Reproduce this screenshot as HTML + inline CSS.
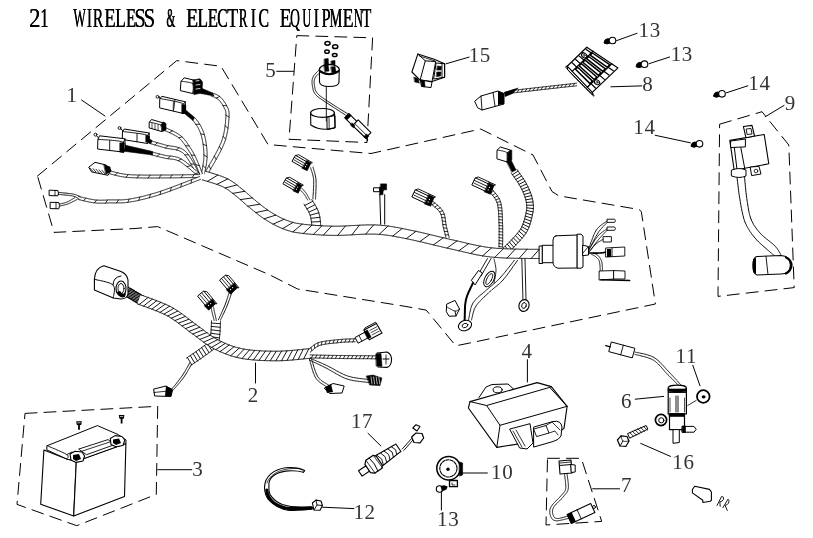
<!DOCTYPE html><html><head><meta charset="utf-8"><style>
html,body{margin:0;padding:0;background:#fff;width:813px;height:538px;overflow:hidden}
svg{display:block;filter:grayscale(1)}
text{font-family:"Liberation Serif",serif}
</style></head><body>
<svg width="813" height="538" viewBox="0 0 813 538" stroke-linecap="round" stroke-linejoin="round">
<rect width="813" height="538" fill="#fff"/><g>
<text x="0" y="0" font-size="27.6" font-weight="normal" fill="#000" transform="translate(28.98 26.7) scale(0.824 1)">2</text>
<text x="0" y="0" font-size="27.6" font-weight="normal" fill="#000" transform="translate(29.33 26.7) scale(0.824 1)">2</text>
<text x="0" y="0" font-size="27.6" font-weight="normal" fill="#000" transform="translate(40.11 26.7) scale(0.600 1)">1</text>
<text x="0" y="0" font-size="27.6" font-weight="normal" fill="#000" transform="translate(40.46 26.7) scale(0.600 1)">1</text>
<text x="0" y="0" font-size="27.6" font-weight="normal" fill="#000" transform="translate(73.20 26.7) scale(0.478 1)">W</text>
<text x="0" y="0" font-size="27.6" font-weight="normal" fill="#000" transform="translate(73.55 26.7) scale(0.478 1)">W</text>
<text x="0" y="0" font-size="27.6" font-weight="normal" fill="#000" transform="translate(86.76 26.7) scale(0.561 1)">I</text>
<text x="0" y="0" font-size="27.6" font-weight="normal" fill="#000" transform="translate(87.11 26.7) scale(0.561 1)">I</text>
<text x="0" y="0" font-size="27.6" font-weight="normal" fill="#000" transform="translate(92.63 26.7) scale(0.565 1)">R</text>
<text x="0" y="0" font-size="27.6" font-weight="normal" fill="#000" transform="translate(92.98 26.7) scale(0.565 1)">R</text>
<text x="0" y="0" font-size="27.6" font-weight="normal" fill="#000" transform="translate(104.15 26.7) scale(0.670 1)">E</text>
<text x="0" y="0" font-size="27.6" font-weight="normal" fill="#000" transform="translate(104.50 26.7) scale(0.670 1)">E</text>
<text x="0" y="0" font-size="27.6" font-weight="normal" fill="#000" transform="translate(114.97 26.7) scale(0.634 1)">L</text>
<text x="0" y="0" font-size="27.6" font-weight="normal" fill="#000" transform="translate(115.32 26.7) scale(0.634 1)">L</text>
<text x="0" y="0" font-size="27.6" font-weight="normal" fill="#000" transform="translate(125.81 26.7) scale(0.595 1)">E</text>
<text x="0" y="0" font-size="27.6" font-weight="normal" fill="#000" transform="translate(126.16 26.7) scale(0.595 1)">E</text>
<text x="0" y="0" font-size="27.6" font-weight="normal" fill="#000" transform="translate(134.27 26.7) scale(0.741 1)">S</text>
<text x="0" y="0" font-size="27.6" font-weight="normal" fill="#000" transform="translate(134.62 26.7) scale(0.741 1)">S</text>
<text x="0" y="0" font-size="27.6" font-weight="normal" fill="#000" transform="translate(143.45 26.7) scale(0.750 1)">S</text>
<text x="0" y="0" font-size="27.6" font-weight="normal" fill="#000" transform="translate(143.80 26.7) scale(0.750 1)">S</text>
<text x="0" y="0" font-size="27.6" font-weight="normal" fill="#000" transform="translate(166.35 26.7) scale(0.408 1)">&amp;</text>
<text x="0" y="0" font-size="27.6" font-weight="normal" fill="#000" transform="translate(166.70 26.7) scale(0.408 1)">&amp;</text>
<text x="0" y="0" font-size="27.6" font-weight="normal" fill="#000" transform="translate(186.12 26.7) scale(0.704 1)">E</text>
<text x="0" y="0" font-size="27.6" font-weight="normal" fill="#000" transform="translate(186.47 26.7) scale(0.704 1)">E</text>
<text x="0" y="0" font-size="27.6" font-weight="normal" fill="#000" transform="translate(197.29 26.7) scale(0.620 1)">L</text>
<text x="0" y="0" font-size="27.6" font-weight="normal" fill="#000" transform="translate(197.64 26.7) scale(0.620 1)">L</text>
<text x="0" y="0" font-size="27.6" font-weight="normal" fill="#000" transform="translate(207.60 26.7) scale(0.608 1)">E</text>
<text x="0" y="0" font-size="27.6" font-weight="normal" fill="#000" transform="translate(207.95 26.7) scale(0.608 1)">E</text>
<text x="0" y="0" font-size="27.6" font-weight="normal" fill="#000" transform="translate(217.08 26.7) scale(0.566 1)">C</text>
<text x="0" y="0" font-size="27.6" font-weight="normal" fill="#000" transform="translate(217.43 26.7) scale(0.566 1)">C</text>
<text x="0" y="0" font-size="27.6" font-weight="normal" fill="#000" transform="translate(226.94 26.7) scale(0.655 1)">T</text>
<text x="0" y="0" font-size="27.6" font-weight="normal" fill="#000" transform="translate(227.29 26.7) scale(0.655 1)">T</text>
<text x="0" y="0" font-size="27.6" font-weight="normal" fill="#000" transform="translate(238.71 26.7) scale(0.468 1)">R</text>
<text x="0" y="0" font-size="27.6" font-weight="normal" fill="#000" transform="translate(239.06 26.7) scale(0.468 1)">R</text>
<text x="0" y="0" font-size="27.6" font-weight="normal" fill="#000" transform="translate(250.42 26.7) scale(0.602 1)">I</text>
<text x="0" y="0" font-size="27.6" font-weight="normal" fill="#000" transform="translate(250.77 26.7) scale(0.602 1)">I</text>
<text x="0" y="0" font-size="27.6" font-weight="normal" fill="#000" transform="translate(258.37 26.7) scale(0.572 1)">C</text>
<text x="0" y="0" font-size="27.6" font-weight="normal" fill="#000" transform="translate(258.72 26.7) scale(0.572 1)">C</text>
<text x="0" y="0" font-size="27.6" font-weight="normal" fill="#000" transform="translate(279.42 26.7) scale(0.704 1)">E</text>
<text x="0" y="0" font-size="27.6" font-weight="normal" fill="#000" transform="translate(279.77 26.7) scale(0.704 1)">E</text>
<text x="0" y="0" font-size="27.6" font-weight="normal" fill="#000" transform="translate(289.96 26.7) scale(0.490 1)">Q</text>
<text x="0" y="0" font-size="27.6" font-weight="normal" fill="#000" transform="translate(290.31 26.7) scale(0.490 1)">Q</text>
<text x="0" y="0" font-size="27.6" font-weight="normal" fill="#000" transform="translate(302.26 26.7) scale(0.442 1)">U</text>
<text x="0" y="0" font-size="27.6" font-weight="normal" fill="#000" transform="translate(302.61 26.7) scale(0.442 1)">U</text>
<text x="0" y="0" font-size="27.6" font-weight="normal" fill="#000" transform="translate(313.43 26.7) scale(0.588 1)">I</text>
<text x="0" y="0" font-size="27.6" font-weight="normal" fill="#000" transform="translate(313.78 26.7) scale(0.588 1)">I</text>
<text x="0" y="0" font-size="27.6" font-weight="normal" fill="#000" transform="translate(321.52 26.7) scale(0.583 1)">P</text>
<text x="0" y="0" font-size="27.6" font-weight="normal" fill="#000" transform="translate(321.87 26.7) scale(0.583 1)">P</text>
<text x="0" y="0" font-size="27.6" font-weight="normal" fill="#000" transform="translate(329.37 26.7) scale(0.519 1)">M</text>
<text x="0" y="0" font-size="27.6" font-weight="normal" fill="#000" transform="translate(329.72 26.7) scale(0.519 1)">M</text>
<text x="0" y="0" font-size="27.6" font-weight="normal" fill="#000" transform="translate(342.46 26.7) scale(0.649 1)">E</text>
<text x="0" y="0" font-size="27.6" font-weight="normal" fill="#000" transform="translate(342.81 26.7) scale(0.649 1)">E</text>
<text x="0" y="0" font-size="27.6" font-weight="normal" fill="#000" transform="translate(353.63 26.7) scale(0.449 1)">N</text>
<text x="0" y="0" font-size="27.6" font-weight="normal" fill="#000" transform="translate(353.98 26.7) scale(0.449 1)">N</text>
<text x="0" y="0" font-size="27.6" font-weight="normal" fill="#000" transform="translate(362.00 26.7) scale(0.548 1)">T</text>
<text x="0" y="0" font-size="27.6" font-weight="normal" fill="#000" transform="translate(362.35 26.7) scale(0.548 1)">T</text>
<path d="M37.5,176.0 L176.8,60.6 L221.0,66.3 L268.0,144.5 L330.0,150.0 L371.0,153.5 L480.7,129.0 L533.0,155.0 L552.0,191.5 L558.7,195.8 L639.0,209.5 L641.3,211.5 L655.4,304.0 L469.8,343.0 L455.8,345.8 L426.2,310.1 L405.0,306.3 L297.6,289.0 L270.0,275.0 L217.8,252.5 L157.6,226.6 L135.0,228.5 L54.0,232.4 Z" fill="none" stroke="#000" stroke-width="1.00" stroke-dasharray="12 7"/>
<path d="M296.8,35.6 L372.6,37.8 L367.0,142.5 L289.0,139.3 Z" fill="none" stroke="#000" stroke-width="1.00" stroke-dasharray="12 7"/>
<path d="M719.6,124.2 L762.0,111.7 L788.8,145.0 L794.2,287.6 L718.0,296.4 Z" fill="none" stroke="#000" stroke-width="1.00" stroke-dasharray="12 7"/>
<path d="M25.0,413.4 L157.7,406.3 L156.3,494.4 L76.7,525.7 L17.0,504.4 Z" fill="none" stroke="#000" stroke-width="1.00" stroke-dasharray="12 7"/>
<path d="M547.5,458.3 L581.3,458.3 L601.7,521.4 L546.0,525.0 Z" fill="none" stroke="#000" stroke-width="1.00" stroke-dasharray="12 7"/>
<text x="66.6" y="101.6" font-size="21.0" fill="#333" letter-spacing="0.6">1</text>
<text x="265.2" y="76.8" font-size="21.0" fill="#333" letter-spacing="0.6">5</text>
<text x="468.7" y="62.3" font-size="21.0" fill="#333" letter-spacing="0.6">15</text>
<text x="638.6" y="37.2" font-size="21.0" fill="#333" letter-spacing="0.6">13</text>
<text x="670.7" y="60.9" font-size="21.0" fill="#333" letter-spacing="0.6">13</text>
<text x="642.2" y="91.0" font-size="21.0" fill="#333" letter-spacing="0.6">8</text>
<text x="633.3" y="133.6" font-size="21.0" fill="#333" letter-spacing="0.6">14</text>
<text x="748.3" y="90.3" font-size="21.0" fill="#333" letter-spacing="0.6">14</text>
<text x="784.8" y="110.4" font-size="21.0" fill="#333" letter-spacing="0.6">9</text>
<text x="521.6" y="358.0" font-size="21.0" fill="#333" letter-spacing="0.6">4</text>
<text x="247.8" y="402.0" font-size="21.0" fill="#333" letter-spacing="0.6">2</text>
<text x="192.2" y="476.0" font-size="21.0" fill="#333" letter-spacing="0.6">3</text>
<text x="351.0" y="428.2" font-size="21.0" fill="#333" letter-spacing="0.6">17</text>
<text x="353.4" y="518.6" font-size="21.0" fill="#333" letter-spacing="0.6">12</text>
<text x="491.1" y="478.8" font-size="21.0" fill="#333" letter-spacing="0.6">10</text>
<text x="437.1" y="525.7" font-size="21.0" fill="#333" letter-spacing="0.6">13</text>
<text x="621.1" y="407.7" font-size="21.0" fill="#333" letter-spacing="0.6">6</text>
<text x="675.6" y="363.0" font-size="21.0" fill="#333" letter-spacing="0.6">11</text>
<text x="672.3" y="469.4" font-size="21.0" fill="#333" letter-spacing="0.6">16</text>
<text x="621.0" y="491.6" font-size="21.0" fill="#333" letter-spacing="0.6">7</text>
<path d="M81.5,100.0 L105.0,116.0" fill="none" stroke="#000" stroke-width="1.00"/>
<path d="M276.7,71.3 L293.5,71.3" fill="none" stroke="#000" stroke-width="1.00"/>
<path d="M446.0,63.8 L469.1,57.1" fill="none" stroke="#000" stroke-width="1.00"/>
<path d="M616.5,40.7 L637.0,33.3" fill="none" stroke="#000" stroke-width="1.00"/>
<path d="M649.0,63.7 L669.6,57.0" fill="none" stroke="#000" stroke-width="1.00"/>
<path d="M610.9,86.8 L641.8,85.9" fill="none" stroke="#000" stroke-width="1.00"/>
<path d="M655.2,135.3 L690.3,142.8" fill="none" stroke="#000" stroke-width="1.00"/>
<path d="M726.4,92.8 L747.8,85.8" fill="none" stroke="#000" stroke-width="1.00"/>
<path d="M765.3,116.7 L784.1,105.4" fill="none" stroke="#000" stroke-width="1.00"/>
<path d="M527.4,359.7 L527.4,382.0" fill="none" stroke="#000" stroke-width="1.00"/>
<path d="M255.5,363.0 L255.5,383.0" fill="none" stroke="#000" stroke-width="1.00"/>
<path d="M157.7,469.7 L191.8,469.7" fill="none" stroke="#000" stroke-width="1.00"/>
<path d="M368.0,433.3 L380.9,446.0" fill="none" stroke="#000" stroke-width="1.00"/>
<path d="M322.6,507.2 L353.9,508.6" fill="none" stroke="#000" stroke-width="1.00"/>
<path d="M460.4,473.0 L487.4,473.0" fill="none" stroke="#000" stroke-width="1.00"/>
<path d="M441.4,490.0 L441.4,510.0" fill="none" stroke="#000" stroke-width="1.00"/>
<path d="M635.2,399.2 L663.6,396.4" fill="none" stroke="#000" stroke-width="1.00"/>
<path d="M692.8,365.3 L700.0,385.8" fill="none" stroke="#000" stroke-width="1.00"/>
<path d="M640.7,443.4 L670.5,456.4" fill="none" stroke="#000" stroke-width="1.00"/>
<path d="M592.6,488.8 L619.6,488.8" fill="none" stroke="#000" stroke-width="1.00"/>
<path d="M211.4,96.0 L211.8,96.2 L212.3,96.4 L212.8,96.6 L213.3,96.7 L213.7,96.9 L214.2,97.1 L214.6,97.3 L215.0,97.5 L215.5,97.7 L215.9,97.9 L216.3,98.1 L216.7,98.3 L217.0,98.5 L217.4,98.8 L217.7,99.0 L218.0,99.3 L218.4,99.6 L218.7,99.9 L219.0,100.2 L219.3,100.6 L219.7,100.9 L220.0,101.3 L220.3,101.6 L220.6,102.0 L220.9,102.4 L221.2,102.8 L221.4,103.1 L221.7,103.5 L222.0,103.9 L222.2,104.3 L222.5,104.7 L222.7,105.1 L222.9,105.5 L223.2,105.9 L223.4,106.3 L223.6,106.8 L223.8,107.2 L224.1,107.7 L224.3,108.2 L224.5,108.6 L224.8,109.0 L225.0,109.4 L225.2,109.8 L225.3,110.2 L225.5,110.6 L225.6,111.0 L225.7,111.4 L225.8,111.8 L225.8,112.3 L225.9,112.7 L225.9,113.2 L225.9,113.6 L225.9,114.1 L225.9,114.5 L225.9,115.0 L225.9,115.5 L225.9,116.0 L225.9,116.5 L225.8,117.0 L225.8,117.5 L225.8,118.0 L225.8,118.5 L225.7,118.9 L225.7,119.4 L225.7,119.9 L225.6,120.4 L225.6,120.9 L225.5,121.4 L225.5,121.9 L225.5,122.4 L225.4,122.9 L225.4,123.4 L225.3,123.9 L225.3,124.4 L225.2,124.8 L225.1,125.3 L225.1,125.8 L225.0,126.3 L225.0,126.8 L224.9,127.3 L224.8,127.8 L224.8,128.3 L224.7,128.7 L224.6,129.2 L224.5,129.7 L224.4,130.2 L224.4,130.7 L224.3,131.2 L224.2,131.6 L224.1,132.1 L224.0,132.6 L223.9,133.1 L223.8,133.6 L223.7,134.0 L223.6,134.5 L223.5,135.0 L223.3,135.5 L223.2,135.9 L223.1,136.4 L223.0,136.9 L222.8,137.3 L222.7,137.8 L222.6,138.3 L222.4,138.7 L222.3,139.2 L222.1,139.7 L222.0,140.1 L221.8,140.6 L221.6,141.1 L221.5,141.5 L221.3,141.9 L221.1,142.4 L220.9,142.9 L220.8,143.3 L220.6,143.8 L220.4,144.2 L220.2,144.6 L220.0,145.1 L219.8,145.5 L219.6,146.0 L219.4,146.4 L219.1,146.9 L218.9,147.3 L218.7,147.8 L218.5,148.2 L218.3,148.6 L218.1,149.1 L217.8,149.5 L217.6,150.0 L217.4,150.4 L217.2,150.9 L216.9,151.3 L216.7,151.7 L216.5,152.2 L216.2,152.6 L216.0,153.0 L215.8,153.5 L215.5,153.9 L215.3,154.4 L215.1,154.8 L214.8,155.2 L214.6,155.7 L214.3,156.1 L214.1,156.5 L213.9,157.0 L213.6,157.4 L213.4,157.8 L213.1,158.3 L212.9,158.7 L212.6,159.1 L212.4,159.6 L212.2,160.0 L211.9,160.5 L211.7,160.9 L211.4,161.3 L211.2,161.8 L210.9,162.2 L210.7,162.6 L210.4,163.0 L210.2,163.5 L209.9,163.9 L209.7,164.3 L209.4,164.8 L209.2,165.2 L208.9,165.6 L208.7,166.1 L208.4,166.5 L208.2,166.9 L207.9,167.4 L207.7,167.8 L207.4,168.2 L207.2,168.7 L206.9,169.1 L206.7,169.5 L206.4,170.0 L206.2,170.4 L205.9,170.8 L205.7,171.3 L205.4,171.7 L205.2,172.2 L204.9,172.6 L204.7,173.1 L204.6,173.2 L207.4,174.8 L207.5,174.6 L207.7,174.2 L208.0,173.7 L208.2,173.3 L208.5,172.9 L208.7,172.4 L208.9,172.0 L209.2,171.6 L209.4,171.1 L209.7,170.7 L209.9,170.3 L210.2,169.8 L210.4,169.4 L210.7,169.0 L210.9,168.5 L211.2,168.1 L211.4,167.7 L211.7,167.2 L211.9,166.8 L212.2,166.4 L212.5,165.9 L212.7,165.5 L213.0,165.1 L213.2,164.6 L213.5,164.2 L213.7,163.8 L213.9,163.3 L214.2,162.9 L214.4,162.5 L214.7,162.0 L214.9,161.6 L215.2,161.2 L215.4,160.7 L215.7,160.3 L215.9,159.8 L216.2,159.4 L216.4,159.0 L216.7,158.5 L216.9,158.1 L217.1,157.7 L217.4,157.2 L217.6,156.8 L217.9,156.3 L218.1,155.9 L218.4,155.4 L218.6,155.0 L218.8,154.6 L219.1,154.1 L219.3,153.7 L219.5,153.2 L219.8,152.8 L220.0,152.3 L220.2,151.9 L220.5,151.4 L220.7,151.0 L220.9,150.5 L221.1,150.1 L221.4,149.6 L221.6,149.2 L221.8,148.7 L222.0,148.3 L222.3,147.8 L222.5,147.3 L222.7,146.9 L222.9,146.4 L223.1,145.9 L223.3,145.5 L223.5,145.0 L223.7,144.5 L223.9,144.1 L224.1,143.6 L224.3,143.1 L224.5,142.6 L224.7,142.1 L224.8,141.7 L225.0,141.2 L225.2,140.7 L225.3,140.2 L225.5,139.7 L225.6,139.2 L225.8,138.7 L225.9,138.2 L226.0,137.7 L226.2,137.2 L226.3,136.7 L226.4,136.2 L226.6,135.7 L226.7,135.2 L226.8,134.7 L226.9,134.3 L227.0,133.8 L227.1,133.3 L227.2,132.8 L227.3,132.2 L227.4,131.8 L227.5,131.2 L227.6,130.7 L227.7,130.2 L227.8,129.7 L227.8,129.2 L227.9,128.7 L228.0,128.2 L228.1,127.7 L228.1,127.2 L228.2,126.7 L228.3,126.2 L228.3,125.7 L228.4,125.2 L228.4,124.7 L228.5,124.2 L228.5,123.7 L228.6,123.2 L228.6,122.7 L228.7,122.2 L228.7,121.7 L228.8,121.2 L228.8,120.7 L228.8,120.2 L228.9,119.7 L228.9,119.2 L228.9,118.7 L229.0,118.2 L229.0,117.6 L229.0,117.1 L229.1,116.6 L229.1,116.1 L229.1,115.6 L229.1,115.1 L229.1,114.6 L229.1,114.0 L229.1,113.5 L229.1,113.0 L229.1,112.4 L229.0,111.9 L228.9,111.3 L228.8,110.7 L228.7,110.2 L228.5,109.6 L228.3,109.1 L228.1,108.5 L227.9,108.0 L227.6,107.5 L227.4,107.1 L227.1,106.6 L226.9,106.2 L226.7,105.8 L226.5,105.4 L226.2,104.9 L226.0,104.4 L225.7,104.0 L225.5,103.5 L225.2,103.0 L224.9,102.6 L224.6,102.1 L224.3,101.7 L224.0,101.3 L223.7,100.8 L223.4,100.4 L223.1,100.0 L222.7,99.6 L222.4,99.2 L222.1,98.8 L221.7,98.4 L221.3,98.0 L221.0,97.6 L220.6,97.3 L220.2,96.9 L219.7,96.5 L219.3,96.2 L218.8,95.8 L218.3,95.5 L217.8,95.3 L217.3,95.0 L216.9,94.8 L216.4,94.5 L215.9,94.3 L215.4,94.1 L214.9,93.9 L214.4,93.7 L214.0,93.6 L213.5,93.4 L213.1,93.2 L212.6,93.0 Z" fill="#fff" stroke="none"/><path d="M211.4,96.0 L211.8,96.2 L212.3,96.4 L212.8,96.6 L213.3,96.7 L213.7,96.9 L214.2,97.1 L214.6,97.3 L215.0,97.5 L215.5,97.7 L215.9,97.9 L216.3,98.1 L216.7,98.3 L217.0,98.5 L217.4,98.8 L217.7,99.0 L218.0,99.3 L218.4,99.6 L218.7,99.9 L219.0,100.2 L219.3,100.6 L219.7,100.9 L220.0,101.3 L220.3,101.6 L220.6,102.0 L220.9,102.4 L221.2,102.8 L221.4,103.1 L221.7,103.5 L222.0,103.9 L222.2,104.3 L222.5,104.7 L222.7,105.1 L222.9,105.5 L223.2,105.9 L223.4,106.3 L223.6,106.8 L223.8,107.2 L224.1,107.7 L224.3,108.2 L224.5,108.6 L224.8,109.0 L225.0,109.4 L225.2,109.8 L225.3,110.2 L225.5,110.6 L225.6,111.0 L225.7,111.4 L225.8,111.8 L225.8,112.3 L225.9,112.7 L225.9,113.2 L225.9,113.6 L225.9,114.1 L225.9,114.5 L225.9,115.0 L225.9,115.5 L225.9,116.0 L225.9,116.5 L225.8,117.0 L225.8,117.5 L225.8,118.0 L225.8,118.5 L225.7,118.9 L225.7,119.4 L225.7,119.9 L225.6,120.4 L225.6,120.9 L225.5,121.4 L225.5,121.9 L225.5,122.4 L225.4,122.9 L225.4,123.4 L225.3,123.9 L225.3,124.4 L225.2,124.8 L225.1,125.3 L225.1,125.8 L225.0,126.3 L225.0,126.8 L224.9,127.3 L224.8,127.8 L224.8,128.3 L224.7,128.7 L224.6,129.2 L224.5,129.7 L224.4,130.2 L224.4,130.7 L224.3,131.2 L224.2,131.6 L224.1,132.1 L224.0,132.6 L223.9,133.1 L223.8,133.6 L223.7,134.0 L223.6,134.5 L223.5,135.0 L223.3,135.5 L223.2,135.9 L223.1,136.4 L223.0,136.9 L222.8,137.3 L222.7,137.8 L222.6,138.3 L222.4,138.7 L222.3,139.2 L222.1,139.7 L222.0,140.1 L221.8,140.6 L221.6,141.1 L221.5,141.5 L221.3,141.9 L221.1,142.4 L220.9,142.9 L220.8,143.3 L220.6,143.8 L220.4,144.2 L220.2,144.6 L220.0,145.1 L219.8,145.5 L219.6,146.0 L219.4,146.4 L219.1,146.9 L218.9,147.3 L218.7,147.8 L218.5,148.2 L218.3,148.6 L218.1,149.1 L217.8,149.5 L217.6,150.0 L217.4,150.4 L217.2,150.9 L216.9,151.3 L216.7,151.7 L216.5,152.2 L216.2,152.6 L216.0,153.0 L215.8,153.5 L215.5,153.9 L215.3,154.4 L215.1,154.8 L214.8,155.2 L214.6,155.7 L214.3,156.1 L214.1,156.5 L213.9,157.0 L213.6,157.4 L213.4,157.8 L213.1,158.3 L212.9,158.7 L212.6,159.1 L212.4,159.6 L212.2,160.0 L211.9,160.5 L211.7,160.9 L211.4,161.3 L211.2,161.8 L210.9,162.2 L210.7,162.6 L210.4,163.0 L210.2,163.5 L209.9,163.9 L209.7,164.3 L209.4,164.8 L209.2,165.2 L208.9,165.6 L208.7,166.1 L208.4,166.5 L208.2,166.9 L207.9,167.4 L207.7,167.8 L207.4,168.2 L207.2,168.7 L206.9,169.1 L206.7,169.5 L206.4,170.0 L206.2,170.4 L205.9,170.8 L205.7,171.3 L205.4,171.7 L205.2,172.2 L204.9,172.6 L204.7,173.1 L204.6,173.2" fill="none" stroke="#000" stroke-width="0.90"/><path d="M212.6,93.0 L213.1,93.2 L213.5,93.4 L214.0,93.6 L214.4,93.7 L214.9,93.9 L215.4,94.1 L215.9,94.3 L216.4,94.5 L216.9,94.8 L217.3,95.0 L217.8,95.3 L218.3,95.5 L218.8,95.8 L219.3,96.2 L219.7,96.5 L220.2,96.9 L220.6,97.3 L221.0,97.6 L221.3,98.0 L221.7,98.4 L222.1,98.8 L222.4,99.2 L222.7,99.6 L223.1,100.0 L223.4,100.4 L223.7,100.8 L224.0,101.3 L224.3,101.7 L224.6,102.1 L224.9,102.6 L225.2,103.0 L225.5,103.5 L225.7,104.0 L226.0,104.4 L226.2,104.9 L226.5,105.4 L226.7,105.8 L226.9,106.2 L227.1,106.6 L227.4,107.1 L227.6,107.5 L227.9,108.0 L228.1,108.5 L228.3,109.1 L228.5,109.6 L228.7,110.2 L228.8,110.7 L228.9,111.3 L229.0,111.9 L229.1,112.4 L229.1,113.0 L229.1,113.5 L229.1,114.0 L229.1,114.6 L229.1,115.1 L229.1,115.6 L229.1,116.1 L229.1,116.6 L229.0,117.1 L229.0,117.6 L229.0,118.2 L228.9,118.7 L228.9,119.2 L228.9,119.7 L228.8,120.2 L228.8,120.7 L228.8,121.2 L228.7,121.7 L228.7,122.2 L228.6,122.7 L228.6,123.2 L228.5,123.7 L228.5,124.2 L228.4,124.7 L228.4,125.2 L228.3,125.7 L228.3,126.2 L228.2,126.7 L228.1,127.2 L228.1,127.7 L228.0,128.2 L227.9,128.7 L227.8,129.2 L227.8,129.7 L227.7,130.2 L227.6,130.7 L227.5,131.2 L227.4,131.8 L227.3,132.2 L227.2,132.8 L227.1,133.3 L227.0,133.8 L226.9,134.3 L226.8,134.7 L226.7,135.2 L226.6,135.7 L226.4,136.2 L226.3,136.7 L226.2,137.2 L226.0,137.7 L225.9,138.2 L225.8,138.7 L225.6,139.2 L225.5,139.7 L225.3,140.2 L225.2,140.7 L225.0,141.2 L224.8,141.7 L224.7,142.1 L224.5,142.6 L224.3,143.1 L224.1,143.6 L223.9,144.1 L223.7,144.5 L223.5,145.0 L223.3,145.5 L223.1,145.9 L222.9,146.4 L222.7,146.9 L222.5,147.3 L222.3,147.8 L222.0,148.3 L221.8,148.7 L221.6,149.2 L221.4,149.6 L221.1,150.1 L220.9,150.5 L220.7,151.0 L220.5,151.4 L220.2,151.9 L220.0,152.3 L219.8,152.8 L219.5,153.2 L219.3,153.7 L219.1,154.1 L218.8,154.6 L218.6,155.0 L218.4,155.4 L218.1,155.9 L217.9,156.3 L217.6,156.8 L217.4,157.2 L217.1,157.7 L216.9,158.1 L216.7,158.5 L216.4,159.0 L216.2,159.4 L215.9,159.8 L215.7,160.3 L215.4,160.7 L215.2,161.2 L214.9,161.6 L214.7,162.0 L214.4,162.5 L214.2,162.9 L213.9,163.3 L213.7,163.8 L213.5,164.2 L213.2,164.6 L213.0,165.1 L212.7,165.5 L212.5,165.9 L212.2,166.4 L211.9,166.8 L211.7,167.2 L211.4,167.7 L211.2,168.1 L210.9,168.5 L210.7,169.0 L210.4,169.4 L210.2,169.8 L209.9,170.3 L209.7,170.7 L209.4,171.1 L209.2,171.6 L208.9,172.0 L208.7,172.4 L208.5,172.9 L208.2,173.3 L208.0,173.7 L207.7,174.2 L207.5,174.6 L207.4,174.8" fill="none" stroke="#000" stroke-width="0.90"/><path d="M216.3,98.1 L219.7,96.5 M222.9,105.5 L226.7,105.8 M225.9,115.0 L229.0,117.1 M225.1,125.8 L228.0,128.2 M223.1,136.4 L225.6,139.2 M219.4,146.4 L221.4,149.6 M214.3,156.1 L216.2,159.4 M208.9,165.6 L210.7,169.0" fill="none" stroke="#000" stroke-width="0.81"/>
<path d="M192.7,119.9 L193.0,120.3 L193.3,120.8 L193.6,121.2 L193.9,121.6 L194.2,122.0 L194.5,122.4 L194.8,122.8 L195.1,123.2 L195.4,123.6 L195.6,124.0 L195.9,124.4 L196.2,124.8 L196.5,125.2 L196.7,125.6 L197.0,126.0 L197.3,126.4 L197.5,126.8 L197.8,127.2 L198.0,127.6 L198.2,128.0 L198.4,128.4 L198.6,128.8 L198.8,129.3 L199.0,129.7 L199.2,130.2 L199.4,130.6 L199.6,131.1 L199.8,131.5 L200.0,132.0 L200.2,132.4 L200.3,132.9 L200.5,133.3 L200.7,133.8 L200.8,134.2 L201.0,134.7 L201.1,135.1 L201.3,135.6 L201.4,136.1 L201.5,136.5 L201.7,137.0 L201.8,137.4 L201.9,137.9 L202.0,138.4 L202.1,138.9 L202.2,139.3 L202.3,139.8 L202.4,140.3 L202.5,140.8 L202.6,141.2 L202.7,141.7 L202.8,142.2 L202.8,142.7 L202.9,143.2 L203.0,143.7 L203.1,144.2 L203.1,144.6 L203.2,145.1 L203.3,145.6 L203.3,146.1 L203.4,146.6 L203.4,147.1 L203.5,147.6 L203.5,148.1 L203.6,148.5 L203.6,149.0 L203.7,149.5 L203.7,150.0 L203.7,150.5 L203.8,151.0 L203.8,151.5 L203.8,152.0 L203.9,152.5 L203.9,152.9 L203.9,153.4 L203.9,153.9 L203.9,154.4 L203.9,154.9 L203.9,155.4 L203.9,155.9 L203.9,156.4 L203.9,156.8 L203.9,157.3 L203.9,157.8 L203.8,158.3 L203.8,158.8 L203.8,159.2 L203.7,159.7 L203.7,160.2 L203.6,160.7 L203.5,161.2 L203.5,161.7 L203.4,162.1 L203.3,162.6 L203.3,163.1 L203.2,163.6 L203.1,164.1 L203.1,164.6 L203.0,165.1 L202.9,165.6 L202.8,166.0 L202.7,166.5 L202.6,167.0 L202.6,167.5 L202.5,168.0 L202.4,168.5 L202.3,169.0 L202.2,169.5 L202.1,170.0 L202.0,170.4 L201.9,170.9 L201.8,171.4 L201.7,171.9 L201.6,172.4 L201.6,172.9 L201.5,173.4 L201.4,173.8 L204.6,174.2 L204.6,173.9 L204.7,173.5 L204.8,173.0 L204.9,172.5 L205.0,172.0 L205.1,171.5 L205.2,171.0 L205.2,170.5 L205.3,170.0 L205.4,169.6 L205.5,169.1 L205.6,168.6 L205.7,168.1 L205.8,167.6 L205.9,167.1 L206.0,166.6 L206.0,166.1 L206.1,165.6 L206.2,165.1 L206.3,164.6 L206.4,164.1 L206.4,163.6 L206.5,163.1 L206.6,162.6 L206.7,162.1 L206.7,161.6 L206.8,161.1 L206.8,160.5 L206.9,160.0 L206.9,159.5 L207.0,159.0 L207.0,158.5 L207.1,158.0 L207.1,157.5 L207.1,156.9 L207.1,156.4 L207.1,155.9 L207.1,155.4 L207.1,154.9 L207.1,154.4 L207.1,153.8 L207.1,153.3 L207.1,152.8 L207.1,152.3 L207.0,151.8 L207.0,151.3 L207.0,150.8 L206.9,150.3 L206.9,149.8 L206.9,149.3 L206.8,148.8 L206.8,148.2 L206.7,147.7 L206.7,147.2 L206.6,146.7 L206.6,146.2 L206.5,145.7 L206.4,145.2 L206.4,144.7 L206.3,144.2 L206.2,143.7 L206.2,143.2 L206.1,142.7 L206.0,142.2 L205.9,141.7 L205.8,141.2 L205.8,140.7 L205.7,140.2 L205.6,139.7 L205.5,139.2 L205.4,138.7 L205.3,138.2 L205.1,137.7 L205.0,137.2 L204.9,136.7 L204.8,136.2 L204.6,135.7 L204.5,135.2 L204.3,134.7 L204.2,134.2 L204.0,133.7 L203.9,133.2 L203.7,132.7 L203.5,132.2 L203.3,131.7 L203.2,131.2 L203.0,130.8 L202.8,130.3 L202.6,129.8 L202.4,129.3 L202.2,128.9 L201.9,128.4 L201.7,127.9 L201.5,127.5 L201.3,127.0 L201.0,126.5 L200.8,126.0 L200.5,125.6 L200.3,125.1 L200.0,124.7 L199.7,124.2 L199.4,123.8 L199.1,123.4 L198.8,122.9 L198.6,122.5 L198.3,122.1 L198.0,121.7 L197.7,121.3 L197.4,120.9 L197.1,120.5 L196.8,120.1 L196.5,119.7 L196.2,119.3 L195.9,118.9 L195.6,118.5 L195.3,118.1 Z" fill="#fff" stroke="none"/><path d="M192.7,119.9 L193.0,120.3 L193.3,120.8 L193.6,121.2 L193.9,121.6 L194.2,122.0 L194.5,122.4 L194.8,122.8 L195.1,123.2 L195.4,123.6 L195.6,124.0 L195.9,124.4 L196.2,124.8 L196.5,125.2 L196.7,125.6 L197.0,126.0 L197.3,126.4 L197.5,126.8 L197.8,127.2 L198.0,127.6 L198.2,128.0 L198.4,128.4 L198.6,128.8 L198.8,129.3 L199.0,129.7 L199.2,130.2 L199.4,130.6 L199.6,131.1 L199.8,131.5 L200.0,132.0 L200.2,132.4 L200.3,132.9 L200.5,133.3 L200.7,133.8 L200.8,134.2 L201.0,134.7 L201.1,135.1 L201.3,135.6 L201.4,136.1 L201.5,136.5 L201.7,137.0 L201.8,137.4 L201.9,137.9 L202.0,138.4 L202.1,138.9 L202.2,139.3 L202.3,139.8 L202.4,140.3 L202.5,140.8 L202.6,141.2 L202.7,141.7 L202.8,142.2 L202.8,142.7 L202.9,143.2 L203.0,143.7 L203.1,144.2 L203.1,144.6 L203.2,145.1 L203.3,145.6 L203.3,146.1 L203.4,146.6 L203.4,147.1 L203.5,147.6 L203.5,148.1 L203.6,148.5 L203.6,149.0 L203.7,149.5 L203.7,150.0 L203.7,150.5 L203.8,151.0 L203.8,151.5 L203.8,152.0 L203.9,152.5 L203.9,152.9 L203.9,153.4 L203.9,153.9 L203.9,154.4 L203.9,154.9 L203.9,155.4 L203.9,155.9 L203.9,156.4 L203.9,156.8 L203.9,157.3 L203.9,157.8 L203.8,158.3 L203.8,158.8 L203.8,159.2 L203.7,159.7 L203.7,160.2 L203.6,160.7 L203.5,161.2 L203.5,161.7 L203.4,162.1 L203.3,162.6 L203.3,163.1 L203.2,163.6 L203.1,164.1 L203.1,164.6 L203.0,165.1 L202.9,165.6 L202.8,166.0 L202.7,166.5 L202.6,167.0 L202.6,167.5 L202.5,168.0 L202.4,168.5 L202.3,169.0 L202.2,169.5 L202.1,170.0 L202.0,170.4 L201.9,170.9 L201.8,171.4 L201.7,171.9 L201.6,172.4 L201.6,172.9 L201.5,173.4 L201.4,173.8" fill="none" stroke="#000" stroke-width="0.90"/><path d="M195.3,118.1 L195.6,118.5 L195.9,118.9 L196.2,119.3 L196.5,119.7 L196.8,120.1 L197.1,120.5 L197.4,120.9 L197.7,121.3 L198.0,121.7 L198.3,122.1 L198.6,122.5 L198.8,122.9 L199.1,123.4 L199.4,123.8 L199.7,124.2 L200.0,124.7 L200.3,125.1 L200.5,125.6 L200.8,126.0 L201.0,126.5 L201.3,127.0 L201.5,127.5 L201.7,127.9 L201.9,128.4 L202.2,128.9 L202.4,129.3 L202.6,129.8 L202.8,130.3 L203.0,130.8 L203.2,131.2 L203.3,131.7 L203.5,132.2 L203.7,132.7 L203.9,133.2 L204.0,133.7 L204.2,134.2 L204.3,134.7 L204.5,135.2 L204.6,135.7 L204.8,136.2 L204.9,136.7 L205.0,137.2 L205.1,137.7 L205.3,138.2 L205.4,138.7 L205.5,139.2 L205.6,139.7 L205.7,140.2 L205.8,140.7 L205.8,141.2 L205.9,141.7 L206.0,142.2 L206.1,142.7 L206.2,143.2 L206.2,143.7 L206.3,144.2 L206.4,144.7 L206.4,145.2 L206.5,145.7 L206.6,146.2 L206.6,146.7 L206.7,147.2 L206.7,147.7 L206.8,148.2 L206.8,148.8 L206.9,149.3 L206.9,149.8 L206.9,150.3 L207.0,150.8 L207.0,151.3 L207.0,151.8 L207.1,152.3 L207.1,152.8 L207.1,153.3 L207.1,153.8 L207.1,154.4 L207.1,154.9 L207.1,155.4 L207.1,155.9 L207.1,156.4 L207.1,156.9 L207.1,157.5 L207.1,158.0 L207.0,158.5 L207.0,159.0 L206.9,159.5 L206.9,160.0 L206.8,160.5 L206.8,161.1 L206.7,161.6 L206.7,162.1 L206.6,162.6 L206.5,163.1 L206.4,163.6 L206.4,164.1 L206.3,164.6 L206.2,165.1 L206.1,165.6 L206.0,166.1 L206.0,166.6 L205.9,167.1 L205.8,167.6 L205.7,168.1 L205.6,168.6 L205.5,169.1 L205.4,169.6 L205.3,170.0 L205.2,170.5 L205.2,171.0 L205.1,171.5 L205.0,172.0 L204.9,172.5 L204.8,173.0 L204.7,173.5 L204.6,173.9 L204.6,174.2" fill="none" stroke="#000" stroke-width="0.90"/><path d="M195.9,124.4 L199.7,124.2 M200.7,133.8 L204.3,134.7 M203.1,144.2 L206.5,145.7 M203.9,154.9 L207.1,156.9 M202.9,165.6 L205.7,168.1" fill="none" stroke="#000" stroke-width="0.81"/>
<path d="M164.3,130.3 L164.8,130.5 L165.3,130.8 L165.7,131.0 L166.2,131.2 L166.7,131.4 L167.1,131.6 L167.6,131.8 L168.0,132.0 L168.5,132.2 L168.9,132.4 L169.4,132.6 L169.8,132.8 L170.3,133.0 L170.7,133.3 L171.2,133.5 L171.6,133.7 L172.1,133.9 L172.5,134.1 L172.9,134.3 L173.4,134.6 L173.8,134.8 L174.2,135.0 L174.7,135.2 L175.1,135.5 L175.5,135.7 L175.9,136.0 L176.3,136.2 L176.8,136.5 L177.2,136.7 L177.5,137.0 L177.9,137.2 L178.3,137.5 L178.7,137.8 L179.0,138.1 L179.4,138.4 L179.7,138.7 L180.1,139.0 L180.4,139.3 L180.8,139.7 L181.1,140.0 L181.4,140.4 L181.7,140.7 L182.0,141.1 L182.3,141.5 L182.6,141.8 L183.0,142.2 L183.2,142.6 L183.5,143.0 L183.8,143.4 L184.1,143.8 L184.4,144.2 L184.7,144.6 L185.0,145.0 L185.2,145.4 L185.5,145.8 L185.8,146.2 L186.1,146.6 L186.3,147.0 L186.6,147.4 L186.9,147.8 L187.2,148.3 L187.4,148.7 L187.7,149.1 L188.0,149.5 L188.2,149.9 L188.5,150.4 L188.8,150.8 L189.0,151.2 L189.3,151.6 L189.6,152.0 L189.8,152.4 L190.1,152.9 L190.3,153.3 L190.6,153.7 L190.8,154.1 L191.0,154.5 L191.3,155.0 L191.5,155.4 L191.7,155.8 L191.9,156.3 L192.2,156.7 L192.4,157.2 L192.6,157.6 L192.8,158.0 L193.0,158.5 L193.2,158.9 L193.4,159.4 L193.6,159.8 L193.9,160.3 L194.1,160.7 L194.3,161.2 L194.5,161.7 L194.7,162.1 L194.9,162.6 L195.1,163.0 L195.3,163.5 L195.5,163.9 L195.7,164.4 L195.9,164.8 L196.0,165.3 L196.2,165.7 L196.4,166.2 L196.6,166.6 L196.8,167.1 L197.0,167.6 L197.1,168.0 L197.3,168.5 L197.5,169.0 L197.7,169.4 L197.9,169.9 L198.0,170.4 L198.2,170.8 L198.4,171.3 L198.6,171.8 L198.8,172.2 L198.9,172.7 L199.1,173.2 L199.3,173.6 L199.5,174.1 L199.7,174.5 L202.3,173.5 L202.2,173.0 L202.0,172.6 L201.8,172.1 L201.6,171.7 L201.5,171.2 L201.3,170.7 L201.1,170.3 L200.9,169.8 L200.8,169.3 L200.6,168.8 L200.4,168.4 L200.2,167.9 L200.0,167.4 L199.8,167.0 L199.7,166.5 L199.5,166.0 L199.3,165.6 L199.1,165.1 L198.9,164.6 L198.7,164.2 L198.5,163.7 L198.3,163.2 L198.1,162.8 L197.9,162.3 L197.7,161.8 L197.5,161.4 L197.3,160.9 L197.1,160.4 L196.9,160.0 L196.7,159.5 L196.5,159.1 L196.3,158.6 L196.1,158.2 L195.9,157.7 L195.6,157.3 L195.4,156.8 L195.2,156.3 L195.0,155.9 L194.8,155.4 L194.5,155.0 L194.3,154.5 L194.1,154.1 L193.8,153.6 L193.6,153.2 L193.3,152.7 L193.1,152.3 L192.8,151.8 L192.6,151.4 L192.3,150.9 L192.0,150.5 L191.8,150.1 L191.5,149.6 L191.2,149.2 L190.9,148.8 L190.7,148.4 L190.4,147.9 L190.1,147.5 L189.9,147.1 L189.6,146.7 L189.3,146.3 L189.0,145.8 L188.8,145.4 L188.5,145.0 L188.2,144.6 L187.9,144.2 L187.6,143.7 L187.4,143.3 L187.1,142.9 L186.8,142.5 L186.5,142.1 L186.2,141.6 L185.9,141.2 L185.5,140.8 L185.2,140.4 L184.9,140.0 L184.6,139.6 L184.2,139.2 L183.9,138.8 L183.6,138.4 L183.2,138.0 L182.8,137.7 L182.5,137.3 L182.1,136.9 L181.7,136.6 L181.3,136.2 L180.9,135.9 L180.5,135.5 L180.0,135.2 L179.6,134.9 L179.2,134.6 L178.7,134.3 L178.3,134.0 L177.9,133.7 L177.4,133.5 L177.0,133.2 L176.5,132.9 L176.1,132.7 L175.6,132.5 L175.2,132.2 L174.7,132.0 L174.3,131.7 L173.8,131.5 L173.3,131.3 L172.9,131.1 L172.4,130.8 L172.0,130.6 L171.5,130.4 L171.1,130.2 L170.6,130.0 L170.1,129.8 L169.7,129.6 L169.2,129.4 L168.8,129.2 L168.3,129.0 L167.9,128.7 L167.4,128.5 L167.0,128.3 L166.5,128.1 L166.1,127.9 L165.7,127.7 Z" fill="#fff" stroke="none"/><path d="M164.3,130.3 L164.8,130.5 L165.3,130.8 L165.7,131.0 L166.2,131.2 L166.7,131.4 L167.1,131.6 L167.6,131.8 L168.0,132.0 L168.5,132.2 L168.9,132.4 L169.4,132.6 L169.8,132.8 L170.3,133.0 L170.7,133.3 L171.2,133.5 L171.6,133.7 L172.1,133.9 L172.5,134.1 L172.9,134.3 L173.4,134.6 L173.8,134.8 L174.2,135.0 L174.7,135.2 L175.1,135.5 L175.5,135.7 L175.9,136.0 L176.3,136.2 L176.8,136.5 L177.2,136.7 L177.5,137.0 L177.9,137.2 L178.3,137.5 L178.7,137.8 L179.0,138.1 L179.4,138.4 L179.7,138.7 L180.1,139.0 L180.4,139.3 L180.8,139.7 L181.1,140.0 L181.4,140.4 L181.7,140.7 L182.0,141.1 L182.3,141.5 L182.6,141.8 L183.0,142.2 L183.2,142.6 L183.5,143.0 L183.8,143.4 L184.1,143.8 L184.4,144.2 L184.7,144.6 L185.0,145.0 L185.2,145.4 L185.5,145.8 L185.8,146.2 L186.1,146.6 L186.3,147.0 L186.6,147.4 L186.9,147.8 L187.2,148.3 L187.4,148.7 L187.7,149.1 L188.0,149.5 L188.2,149.9 L188.5,150.4 L188.8,150.8 L189.0,151.2 L189.3,151.6 L189.6,152.0 L189.8,152.4 L190.1,152.9 L190.3,153.3 L190.6,153.7 L190.8,154.1 L191.0,154.5 L191.3,155.0 L191.5,155.4 L191.7,155.8 L191.9,156.3 L192.2,156.7 L192.4,157.2 L192.6,157.6 L192.8,158.0 L193.0,158.5 L193.2,158.9 L193.4,159.4 L193.6,159.8 L193.9,160.3 L194.1,160.7 L194.3,161.2 L194.5,161.7 L194.7,162.1 L194.9,162.6 L195.1,163.0 L195.3,163.5 L195.5,163.9 L195.7,164.4 L195.9,164.8 L196.0,165.3 L196.2,165.7 L196.4,166.2 L196.6,166.6 L196.8,167.1 L197.0,167.6 L197.1,168.0 L197.3,168.5 L197.5,169.0 L197.7,169.4 L197.9,169.9 L198.0,170.4 L198.2,170.8 L198.4,171.3 L198.6,171.8 L198.8,172.2 L198.9,172.7 L199.1,173.2 L199.3,173.6 L199.5,174.1 L199.7,174.5" fill="none" stroke="#000" stroke-width="0.90"/><path d="M165.7,127.7 L166.1,127.9 L166.5,128.1 L167.0,128.3 L167.4,128.5 L167.9,128.7 L168.3,129.0 L168.8,129.2 L169.2,129.4 L169.7,129.6 L170.1,129.8 L170.6,130.0 L171.1,130.2 L171.5,130.4 L172.0,130.6 L172.4,130.8 L172.9,131.1 L173.3,131.3 L173.8,131.5 L174.3,131.7 L174.7,132.0 L175.2,132.2 L175.6,132.5 L176.1,132.7 L176.5,132.9 L177.0,133.2 L177.4,133.5 L177.9,133.7 L178.3,134.0 L178.7,134.3 L179.2,134.6 L179.6,134.9 L180.0,135.2 L180.5,135.5 L180.9,135.9 L181.3,136.2 L181.7,136.6 L182.1,136.9 L182.5,137.3 L182.8,137.7 L183.2,138.0 L183.6,138.4 L183.9,138.8 L184.2,139.2 L184.6,139.6 L184.9,140.0 L185.2,140.4 L185.5,140.8 L185.9,141.2 L186.2,141.6 L186.5,142.1 L186.8,142.5 L187.1,142.9 L187.4,143.3 L187.6,143.7 L187.9,144.2 L188.2,144.6 L188.5,145.0 L188.8,145.4 L189.0,145.8 L189.3,146.3 L189.6,146.7 L189.9,147.1 L190.1,147.5 L190.4,147.9 L190.7,148.4 L190.9,148.8 L191.2,149.2 L191.5,149.6 L191.8,150.1 L192.0,150.5 L192.3,150.9 L192.6,151.4 L192.8,151.8 L193.1,152.3 L193.3,152.7 L193.6,153.2 L193.8,153.6 L194.1,154.1 L194.3,154.5 L194.5,155.0 L194.8,155.4 L195.0,155.9 L195.2,156.3 L195.4,156.8 L195.6,157.3 L195.9,157.7 L196.1,158.2 L196.3,158.6 L196.5,159.1 L196.7,159.5 L196.9,160.0 L197.1,160.4 L197.3,160.9 L197.5,161.4 L197.7,161.8 L197.9,162.3 L198.1,162.8 L198.3,163.2 L198.5,163.7 L198.7,164.2 L198.9,164.6 L199.1,165.1 L199.3,165.6 L199.5,166.0 L199.7,166.5 L199.8,167.0 L200.0,167.4 L200.2,167.9 L200.4,168.4 L200.6,168.8 L200.8,169.3 L200.9,169.8 L201.1,170.3 L201.3,170.7 L201.5,171.2 L201.6,171.7 L201.8,172.1 L202.0,172.6 L202.2,173.0 L202.3,173.5" fill="none" stroke="#000" stroke-width="0.90"/><path d="M169.4,132.6 L172.4,130.8 M178.7,137.8 L182.1,136.9 M185.5,145.8 L189.0,145.8 M191.3,155.0 L194.8,155.4 M195.9,164.8 L199.3,165.6" fill="none" stroke="#000" stroke-width="0.81"/>
<path d="M149.6,143.4 L150.1,143.5 L150.6,143.7 L151.0,143.8 L151.5,144.0 L152.0,144.1 L152.5,144.2 L153.0,144.4 L153.4,144.5 L153.9,144.7 L154.4,144.8 L154.9,144.9 L155.3,145.1 L155.8,145.2 L156.3,145.4 L156.8,145.5 L157.3,145.6 L157.7,145.8 L158.2,145.9 L158.7,146.1 L159.2,146.2 L159.7,146.3 L160.1,146.5 L160.6,146.6 L161.1,146.8 L161.6,146.9 L162.1,147.0 L162.5,147.2 L163.0,147.3 L163.5,147.5 L164.0,147.6 L164.5,147.8 L165.0,147.9 L165.5,148.0 L166.0,148.2 L166.5,148.3 L167.0,148.4 L167.5,148.5 L168.0,148.6 L168.5,148.6 L169.1,148.7 L169.6,148.8 L170.1,148.9 L170.6,148.9 L171.0,149.0 L171.5,149.1 L172.0,149.2 L172.5,149.2 L173.0,149.3 L173.5,149.4 L174.0,149.5 L174.4,149.6 L174.9,149.6 L175.4,149.7 L175.9,149.8 L176.3,150.0 L176.8,150.1 L177.2,150.2 L177.7,150.3 L178.1,150.5 L178.6,150.6 L179.0,150.8 L179.4,151.0 L179.9,151.1 L180.3,151.3 L180.7,151.5 L181.1,151.7 L181.5,152.0 L181.9,152.2 L182.2,152.5 L182.6,152.7 L182.9,153.0 L183.3,153.3 L183.6,153.6 L183.9,153.9 L184.3,154.3 L184.6,154.6 L184.9,154.9 L185.2,155.3 L185.5,155.7 L185.8,156.1 L186.1,156.4 L186.4,156.8 L186.6,157.2 L186.9,157.6 L187.2,158.0 L187.5,158.4 L187.7,158.8 L188.0,159.2 L188.3,159.6 L188.5,160.0 L188.8,160.5 L189.1,160.9 L189.3,161.3 L189.6,161.7 L189.8,162.1 L190.1,162.6 L190.3,163.0 L190.6,163.4 L190.8,163.9 L191.1,164.3 L191.3,164.7 L191.5,165.2 L191.8,165.6 L192.0,166.0 L192.2,166.5 L192.5,166.9 L192.7,167.3 L193.0,167.8 L193.2,168.2 L193.4,168.7 L193.7,169.1 L193.9,169.5 L194.1,170.0 L194.4,170.4 L194.6,170.9 L194.8,171.3 L195.1,171.7 L195.3,172.2 L195.5,172.6 L195.8,173.1 L196.0,173.5 L196.3,174.0 L196.6,174.4 L196.8,174.8 L199.2,173.2 L199.0,172.9 L198.8,172.5 L198.6,172.1 L198.3,171.7 L198.1,171.2 L197.9,170.8 L197.6,170.4 L197.4,169.9 L197.2,169.5 L196.9,169.1 L196.7,168.6 L196.5,168.2 L196.2,167.7 L196.0,167.3 L195.7,166.8 L195.5,166.4 L195.3,166.0 L195.0,165.5 L194.8,165.1 L194.6,164.6 L194.3,164.2 L194.1,163.7 L193.8,163.3 L193.6,162.9 L193.3,162.4 L193.1,162.0 L192.8,161.5 L192.6,161.1 L192.3,160.7 L192.1,160.2 L191.8,159.8 L191.5,159.4 L191.3,158.9 L191.0,158.5 L190.7,158.1 L190.4,157.6 L190.2,157.2 L189.9,156.8 L189.6,156.4 L189.3,155.9 L189.0,155.5 L188.7,155.1 L188.4,154.7 L188.1,154.3 L187.8,153.9 L187.4,153.5 L187.1,153.1 L186.7,152.7 L186.4,152.3 L186.0,151.9 L185.6,151.5 L185.2,151.1 L184.8,150.8 L184.3,150.4 L183.9,150.1 L183.4,149.8 L183.0,149.5 L182.5,149.2 L182.0,149.0 L181.5,148.7 L181.0,148.5 L180.6,148.3 L180.1,148.1 L179.5,147.9 L179.0,147.7 L178.5,147.6 L178.0,147.4 L177.5,147.3 L177.0,147.1 L176.5,147.0 L176.0,146.9 L175.5,146.8 L175.0,146.7 L174.5,146.6 L174.0,146.5 L173.5,146.4 L173.0,146.4 L172.5,146.3 L172.0,146.2 L171.5,146.1 L171.0,146.1 L170.5,146.0 L170.0,145.9 L169.5,145.8 L169.0,145.8 L168.5,145.7 L168.1,145.6 L167.6,145.5 L167.1,145.4 L166.6,145.3 L166.2,145.2 L165.7,145.1 L165.3,145.0 L164.8,144.8 L164.3,144.7 L163.8,144.5 L163.4,144.4 L162.9,144.3 L162.4,144.1 L161.9,144.0 L161.4,143.8 L161.0,143.7 L160.5,143.6 L160.0,143.4 L159.5,143.3 L159.0,143.1 L158.6,143.0 L158.1,142.9 L157.6,142.7 L157.1,142.6 L156.6,142.4 L156.2,142.3 L155.7,142.2 L155.2,142.0 L154.7,141.9 L154.2,141.7 L153.8,141.6 L153.3,141.5 L152.8,141.3 L152.3,141.2 L151.8,141.0 L151.4,140.9 L150.9,140.7 L150.4,140.6 Z" fill="#fff" stroke="none"/><path d="M149.6,143.4 L150.1,143.5 L150.6,143.7 L151.0,143.8 L151.5,144.0 L152.0,144.1 L152.5,144.2 L153.0,144.4 L153.4,144.5 L153.9,144.7 L154.4,144.8 L154.9,144.9 L155.3,145.1 L155.8,145.2 L156.3,145.4 L156.8,145.5 L157.3,145.6 L157.7,145.8 L158.2,145.9 L158.7,146.1 L159.2,146.2 L159.7,146.3 L160.1,146.5 L160.6,146.6 L161.1,146.8 L161.6,146.9 L162.1,147.0 L162.5,147.2 L163.0,147.3 L163.5,147.5 L164.0,147.6 L164.5,147.8 L165.0,147.9 L165.5,148.0 L166.0,148.2 L166.5,148.3 L167.0,148.4 L167.5,148.5 L168.0,148.6 L168.5,148.6 L169.1,148.7 L169.6,148.8 L170.1,148.9 L170.6,148.9 L171.0,149.0 L171.5,149.1 L172.0,149.2 L172.5,149.2 L173.0,149.3 L173.5,149.4 L174.0,149.5 L174.4,149.6 L174.9,149.6 L175.4,149.7 L175.9,149.8 L176.3,150.0 L176.8,150.1 L177.2,150.2 L177.7,150.3 L178.1,150.5 L178.6,150.6 L179.0,150.8 L179.4,151.0 L179.9,151.1 L180.3,151.3 L180.7,151.5 L181.1,151.7 L181.5,152.0 L181.9,152.2 L182.2,152.5 L182.6,152.7 L182.9,153.0 L183.3,153.3 L183.6,153.6 L183.9,153.9 L184.3,154.3 L184.6,154.6 L184.9,154.9 L185.2,155.3 L185.5,155.7 L185.8,156.1 L186.1,156.4 L186.4,156.8 L186.6,157.2 L186.9,157.6 L187.2,158.0 L187.5,158.4 L187.7,158.8 L188.0,159.2 L188.3,159.6 L188.5,160.0 L188.8,160.5 L189.1,160.9 L189.3,161.3 L189.6,161.7 L189.8,162.1 L190.1,162.6 L190.3,163.0 L190.6,163.4 L190.8,163.9 L191.1,164.3 L191.3,164.7 L191.5,165.2 L191.8,165.6 L192.0,166.0 L192.2,166.5 L192.5,166.9 L192.7,167.3 L193.0,167.8 L193.2,168.2 L193.4,168.7 L193.7,169.1 L193.9,169.5 L194.1,170.0 L194.4,170.4 L194.6,170.9 L194.8,171.3 L195.1,171.7 L195.3,172.2 L195.5,172.6 L195.8,173.1 L196.0,173.5 L196.3,174.0 L196.6,174.4 L196.8,174.8" fill="none" stroke="#000" stroke-width="0.90"/><path d="M150.4,140.6 L150.9,140.7 L151.4,140.9 L151.8,141.0 L152.3,141.2 L152.8,141.3 L153.3,141.5 L153.8,141.6 L154.2,141.7 L154.7,141.9 L155.2,142.0 L155.7,142.2 L156.2,142.3 L156.6,142.4 L157.1,142.6 L157.6,142.7 L158.1,142.9 L158.6,143.0 L159.0,143.1 L159.5,143.3 L160.0,143.4 L160.5,143.6 L161.0,143.7 L161.4,143.8 L161.9,144.0 L162.4,144.1 L162.9,144.3 L163.4,144.4 L163.8,144.5 L164.3,144.7 L164.8,144.8 L165.3,145.0 L165.7,145.1 L166.2,145.2 L166.6,145.3 L167.1,145.4 L167.6,145.5 L168.1,145.6 L168.5,145.7 L169.0,145.8 L169.5,145.8 L170.0,145.9 L170.5,146.0 L171.0,146.1 L171.5,146.1 L172.0,146.2 L172.5,146.3 L173.0,146.4 L173.5,146.4 L174.0,146.5 L174.5,146.6 L175.0,146.7 L175.5,146.8 L176.0,146.9 L176.5,147.0 L177.0,147.1 L177.5,147.3 L178.0,147.4 L178.5,147.6 L179.0,147.7 L179.5,147.9 L180.1,148.1 L180.6,148.3 L181.0,148.5 L181.5,148.7 L182.0,149.0 L182.5,149.2 L183.0,149.5 L183.4,149.8 L183.9,150.1 L184.3,150.4 L184.8,150.8 L185.2,151.1 L185.6,151.5 L186.0,151.9 L186.4,152.3 L186.7,152.7 L187.1,153.1 L187.4,153.5 L187.8,153.9 L188.1,154.3 L188.4,154.7 L188.7,155.1 L189.0,155.5 L189.3,155.9 L189.6,156.4 L189.9,156.8 L190.2,157.2 L190.4,157.6 L190.7,158.1 L191.0,158.5 L191.3,158.9 L191.5,159.4 L191.8,159.8 L192.1,160.2 L192.3,160.7 L192.6,161.1 L192.8,161.5 L193.1,162.0 L193.3,162.4 L193.6,162.9 L193.8,163.3 L194.1,163.7 L194.3,164.2 L194.6,164.6 L194.8,165.1 L195.0,165.5 L195.3,166.0 L195.5,166.4 L195.7,166.8 L196.0,167.3 L196.2,167.7 L196.5,168.2 L196.7,168.6 L196.9,169.1 L197.2,169.5 L197.4,169.9 L197.6,170.4 L197.9,170.8 L198.1,171.2 L198.3,171.7 L198.6,172.1 L198.8,172.5 L199.0,172.9 L199.2,173.2" fill="none" stroke="#000" stroke-width="0.90"/><path d="M154.9,144.9 L157.6,142.7 M165.5,148.0 L168.1,145.6 M176.3,150.0 L179.0,147.7 M184.9,154.9 L188.4,154.7 M190.8,163.9 L194.3,164.2" fill="none" stroke="#000" stroke-width="0.81"/>
<path d="M151.6,154.9 L152.1,155.0 L152.6,155.2 L153.1,155.3 L153.6,155.4 L154.1,155.5 L154.5,155.7 L155.0,155.8 L155.5,155.9 L156.0,156.0 L156.5,156.2 L157.0,156.3 L157.4,156.4 L157.9,156.5 L158.4,156.7 L158.9,156.8 L159.4,156.9 L159.9,157.0 L160.4,157.2 L160.8,157.3 L161.3,157.4 L161.8,157.5 L162.3,157.6 L162.8,157.8 L163.3,157.9 L163.8,158.0 L164.3,158.1 L164.8,158.2 L165.3,158.3 L165.8,158.4 L166.3,158.5 L166.9,158.6 L167.4,158.7 L167.9,158.7 L168.4,158.8 L168.9,158.8 L169.4,158.9 L169.9,158.9 L170.4,159.0 L170.9,159.0 L171.4,159.1 L171.9,159.1 L172.3,159.2 L172.8,159.2 L173.3,159.3 L173.7,159.4 L174.2,159.5 L174.7,159.6 L175.1,159.7 L175.6,159.8 L176.0,159.9 L176.5,160.1 L176.9,160.2 L177.3,160.4 L177.8,160.6 L178.2,160.7 L178.6,160.9 L179.0,161.1 L179.4,161.3 L179.8,161.6 L180.3,161.8 L180.7,162.1 L181.1,162.3 L181.5,162.6 L181.9,162.8 L182.3,163.1 L182.7,163.4 L183.1,163.7 L183.5,164.0 L183.8,164.3 L184.2,164.6 L184.6,164.9 L185.0,165.2 L185.4,165.5 L185.8,165.8 L186.2,166.1 L186.6,166.4 L187.0,166.7 L187.3,167.0 L187.7,167.3 L188.1,167.6 L188.5,167.9 L188.9,168.3 L189.3,168.6 L189.6,168.9 L190.0,169.2 L190.4,169.5 L190.8,169.8 L191.2,170.2 L191.5,170.5 L191.9,170.8 L192.3,171.1 L192.7,171.5 L193.1,171.8 L193.4,172.1 L193.8,172.4 L194.2,172.8 L194.6,173.1 L195.0,173.4 L195.3,173.7 L195.7,174.1 L196.1,174.4 L196.5,174.7 L196.9,175.1 L197.3,175.4 L197.6,175.6 L199.4,173.4 L199.1,173.1 L198.7,172.8 L198.4,172.5 L198.0,172.2 L197.6,171.9 L197.2,171.5 L196.8,171.2 L196.5,170.9 L196.1,170.6 L195.7,170.2 L195.3,169.9 L194.9,169.6 L194.6,169.3 L194.2,168.9 L193.8,168.6 L193.4,168.3 L193.0,168.0 L192.7,167.6 L192.3,167.3 L191.9,167.0 L191.5,166.7 L191.1,166.3 L190.7,166.0 L190.3,165.7 L190.0,165.4 L189.6,165.1 L189.2,164.7 L188.8,164.4 L188.4,164.1 L188.0,163.8 L187.6,163.5 L187.2,163.2 L186.8,162.9 L186.4,162.5 L186.0,162.2 L185.6,161.9 L185.2,161.6 L184.8,161.3 L184.3,161.0 L183.9,160.7 L183.5,160.4 L183.1,160.2 L182.6,159.9 L182.2,159.6 L181.7,159.3 L181.3,159.1 L180.8,158.8 L180.3,158.5 L179.9,158.3 L179.4,158.1 L178.9,157.9 L178.4,157.7 L177.9,157.5 L177.4,157.3 L176.9,157.2 L176.3,157.0 L175.8,156.9 L175.3,156.8 L174.8,156.6 L174.3,156.5 L173.7,156.5 L173.2,156.4 L172.7,156.3 L172.2,156.2 L171.7,156.2 L171.2,156.1 L170.7,156.1 L170.2,156.0 L169.7,156.0 L169.2,155.9 L168.7,155.9 L168.2,155.8 L167.7,155.8 L167.3,155.7 L166.8,155.7 L166.3,155.6 L165.9,155.5 L165.4,155.4 L164.9,155.3 L164.4,155.2 L164.0,155.1 L163.5,154.9 L163.0,154.8 L162.5,154.7 L162.0,154.6 L161.5,154.5 L161.1,154.3 L160.6,154.2 L160.1,154.1 L159.6,154.0 L159.1,153.9 L158.7,153.7 L158.2,153.6 L157.7,153.5 L157.2,153.4 L156.7,153.2 L156.2,153.1 L155.8,153.0 L155.3,152.9 L154.8,152.7 L154.3,152.6 L153.8,152.5 L153.3,152.3 L152.8,152.2 L152.4,152.1 Z" fill="#fff" stroke="none"/><path d="M151.6,154.9 L152.1,155.0 L152.6,155.2 L153.1,155.3 L153.6,155.4 L154.1,155.5 L154.5,155.7 L155.0,155.8 L155.5,155.9 L156.0,156.0 L156.5,156.2 L157.0,156.3 L157.4,156.4 L157.9,156.5 L158.4,156.7 L158.9,156.8 L159.4,156.9 L159.9,157.0 L160.4,157.2 L160.8,157.3 L161.3,157.4 L161.8,157.5 L162.3,157.6 L162.8,157.8 L163.3,157.9 L163.8,158.0 L164.3,158.1 L164.8,158.2 L165.3,158.3 L165.8,158.4 L166.3,158.5 L166.9,158.6 L167.4,158.7 L167.9,158.7 L168.4,158.8 L168.9,158.8 L169.4,158.9 L169.9,158.9 L170.4,159.0 L170.9,159.0 L171.4,159.1 L171.9,159.1 L172.3,159.2 L172.8,159.2 L173.3,159.3 L173.7,159.4 L174.2,159.5 L174.7,159.6 L175.1,159.7 L175.6,159.8 L176.0,159.9 L176.5,160.1 L176.9,160.2 L177.3,160.4 L177.8,160.6 L178.2,160.7 L178.6,160.9 L179.0,161.1 L179.4,161.3 L179.8,161.6 L180.3,161.8 L180.7,162.1 L181.1,162.3 L181.5,162.6 L181.9,162.8 L182.3,163.1 L182.7,163.4 L183.1,163.7 L183.5,164.0 L183.8,164.3 L184.2,164.6 L184.6,164.9 L185.0,165.2 L185.4,165.5 L185.8,165.8 L186.2,166.1 L186.6,166.4 L187.0,166.7 L187.3,167.0 L187.7,167.3 L188.1,167.6 L188.5,167.9 L188.9,168.3 L189.3,168.6 L189.6,168.9 L190.0,169.2 L190.4,169.5 L190.8,169.8 L191.2,170.2 L191.5,170.5 L191.9,170.8 L192.3,171.1 L192.7,171.5 L193.1,171.8 L193.4,172.1 L193.8,172.4 L194.2,172.8 L194.6,173.1 L195.0,173.4 L195.3,173.7 L195.7,174.1 L196.1,174.4 L196.5,174.7 L196.9,175.1 L197.3,175.4 L197.6,175.6" fill="none" stroke="#000" stroke-width="0.90"/><path d="M152.4,152.1 L152.8,152.2 L153.3,152.3 L153.8,152.5 L154.3,152.6 L154.8,152.7 L155.3,152.9 L155.8,153.0 L156.2,153.1 L156.7,153.2 L157.2,153.4 L157.7,153.5 L158.2,153.6 L158.7,153.7 L159.1,153.9 L159.6,154.0 L160.1,154.1 L160.6,154.2 L161.1,154.3 L161.5,154.5 L162.0,154.6 L162.5,154.7 L163.0,154.8 L163.5,154.9 L164.0,155.1 L164.4,155.2 L164.9,155.3 L165.4,155.4 L165.9,155.5 L166.3,155.6 L166.8,155.7 L167.3,155.7 L167.7,155.8 L168.2,155.8 L168.7,155.9 L169.2,155.9 L169.7,156.0 L170.2,156.0 L170.7,156.1 L171.2,156.1 L171.7,156.2 L172.2,156.2 L172.7,156.3 L173.2,156.4 L173.7,156.5 L174.3,156.5 L174.8,156.6 L175.3,156.8 L175.8,156.9 L176.3,157.0 L176.9,157.2 L177.4,157.3 L177.9,157.5 L178.4,157.7 L178.9,157.9 L179.4,158.1 L179.9,158.3 L180.3,158.5 L180.8,158.8 L181.3,159.1 L181.7,159.3 L182.2,159.6 L182.6,159.9 L183.1,160.2 L183.5,160.4 L183.9,160.7 L184.3,161.0 L184.8,161.3 L185.2,161.6 L185.6,161.9 L186.0,162.2 L186.4,162.5 L186.8,162.9 L187.2,163.2 L187.6,163.5 L188.0,163.8 L188.4,164.1 L188.8,164.4 L189.2,164.7 L189.6,165.1 L190.0,165.4 L190.3,165.7 L190.7,166.0 L191.1,166.3 L191.5,166.7 L191.9,167.0 L192.3,167.3 L192.7,167.6 L193.0,168.0 L193.4,168.3 L193.8,168.6 L194.2,168.9 L194.6,169.3 L194.9,169.6 L195.3,169.9 L195.7,170.2 L196.1,170.6 L196.5,170.9 L196.8,171.2 L197.2,171.5 L197.6,171.9 L198.0,172.2 L198.4,172.5 L198.7,172.8 L199.1,173.1 L199.4,173.4" fill="none" stroke="#000" stroke-width="0.90"/><path d="M157.0,156.3 L159.6,154.0 M167.9,158.7 L170.2,156.0 M178.2,160.7 L181.3,159.1 M187.0,166.7 L190.3,165.7 M195.3,173.7 L198.7,172.8" fill="none" stroke="#000" stroke-width="0.81"/>
<path d="M109.7,173.8 L110.2,173.9 L110.6,174.0 L111.1,174.1 L111.6,174.3 L112.1,174.4 L112.5,174.5 L113.0,174.7 L113.5,174.8 L114.0,174.9 L114.5,175.0 L115.0,175.2 L115.5,175.3 L116.0,175.4 L116.4,175.5 L116.9,175.6 L117.4,175.8 L117.9,175.9 L118.4,176.0 L118.9,176.1 L119.4,176.2 L119.9,176.3 L120.4,176.4 L120.9,176.5 L121.4,176.6 L121.9,176.7 L122.4,176.8 L122.9,176.8 L123.4,176.9 L123.9,177.0 L124.4,177.1 L124.9,177.1 L125.5,177.2 L126.0,177.3 L126.5,177.3 L127.0,177.4 L127.5,177.4 L128.0,177.5 L128.5,177.5 L129.0,177.5 L129.5,177.6 L130.0,177.6 L130.5,177.6 L131.0,177.7 L131.5,177.7 L132.0,177.7 L132.5,177.7 L133.0,177.8 L133.6,177.8 L134.1,177.8 L134.6,177.8 L135.1,177.8 L135.6,177.8 L136.1,177.9 L136.6,177.9 L137.1,177.9 L137.6,177.9 L138.1,177.9 L138.6,177.9 L139.1,177.9 L139.6,177.9 L140.1,177.9 L140.6,177.9 L141.1,177.9 L141.6,177.9 L142.1,178.0 L142.6,178.0 L143.1,178.0 L143.6,178.0 L144.1,178.0 L144.6,178.0 L145.1,178.0 L145.6,178.0 L146.1,178.0 L146.6,178.0 L147.1,178.0 L147.6,178.0 L148.1,178.0 L148.6,178.0 L149.1,178.0 L149.6,178.0 L150.1,178.0 L150.6,178.0 L151.1,178.0 L151.6,178.0 L152.1,178.0 L152.6,178.0 L153.1,178.0 L153.6,178.0 L154.1,178.0 L154.6,178.0 L155.1,178.0 L155.6,178.0 L156.1,178.0 L156.6,178.0 L157.1,178.0 L157.6,178.0 L158.1,178.0 L158.6,178.0 L159.1,178.0 L159.6,178.0 L160.1,177.9 L160.6,177.9 L161.1,177.9 L161.6,177.9 L162.1,177.9 L162.6,177.9 L163.1,177.9 L163.6,177.9 L164.1,177.9 L164.6,177.9 L165.1,177.9 L165.6,177.9 L166.1,177.9 L166.6,177.9 L167.1,177.9 L167.6,177.9 L168.1,177.9 L168.6,177.9 L169.1,177.9 L169.6,177.9 L170.1,177.9 L170.6,177.9 L171.1,177.9 L171.6,177.9 L172.1,177.9 L172.6,177.9 L173.1,177.8 L173.6,177.8 L174.1,177.8 L174.6,177.8 L175.1,177.8 L175.6,177.8 L176.1,177.8 L176.6,177.8 L177.1,177.8 L177.6,177.8 L178.1,177.8 L178.6,177.8 L179.1,177.8 L179.6,177.8 L180.1,177.8 L180.6,177.7 L181.1,177.7 L181.6,177.7 L182.1,177.7 L182.6,177.7 L183.1,177.7 L183.6,177.7 L184.1,177.7 L184.6,177.7 L185.1,177.7 L185.6,177.7 L186.1,177.7 L186.6,177.6 L187.1,177.6 L187.6,177.6 L188.1,177.6 L188.6,177.6 L189.1,177.6 L189.6,177.6 L190.1,177.6 L190.6,177.6 L191.1,177.6 L191.6,177.6 L192.1,177.6 L192.6,177.6 L193.1,177.5 L193.6,177.5 L194.1,177.5 L194.6,177.5 L195.1,177.5 L195.6,177.5 L196.1,177.5 L196.6,177.5 L197.1,177.5 L197.6,177.5 L198.1,177.5 L198.6,177.5 L199.0,177.4 L199.0,174.6 L198.6,174.6 L198.1,174.6 L197.6,174.6 L197.1,174.6 L196.6,174.6 L196.1,174.6 L195.6,174.6 L195.1,174.6 L194.6,174.6 L194.1,174.6 L193.6,174.6 L193.1,174.6 L192.6,174.7 L192.1,174.7 L191.6,174.7 L191.1,174.7 L190.6,174.7 L190.1,174.7 L189.6,174.7 L189.1,174.7 L188.6,174.7 L188.1,174.7 L187.6,174.7 L187.1,174.7 L186.6,174.8 L186.1,174.8 L185.6,174.8 L185.1,174.8 L184.6,174.8 L184.1,174.8 L183.6,174.8 L183.1,174.8 L182.6,174.8 L182.1,174.8 L181.6,174.8 L181.1,174.8 L180.6,174.8 L180.1,174.9 L179.6,174.9 L179.1,174.9 L178.6,174.9 L178.1,174.9 L177.6,174.9 L177.1,174.9 L176.6,174.9 L176.1,174.9 L175.6,174.9 L175.1,174.9 L174.6,174.9 L174.1,174.9 L173.6,174.9 L173.1,174.9 L172.6,175.0 L172.1,175.0 L171.6,175.0 L171.1,175.0 L170.6,175.0 L170.1,175.0 L169.6,175.0 L169.1,175.0 L168.6,175.0 L168.1,175.0 L167.6,175.0 L167.1,175.0 L166.6,175.0 L166.1,175.0 L165.6,175.0 L165.1,175.0 L164.6,175.0 L164.1,175.0 L163.6,175.0 L163.1,175.0 L162.6,175.0 L162.1,175.0 L161.6,175.0 L161.1,175.0 L160.6,175.0 L160.1,175.0 L159.6,175.1 L159.1,175.1 L158.6,175.1 L158.1,175.1 L157.6,175.1 L157.1,175.1 L156.6,175.1 L156.1,175.1 L155.6,175.1 L155.1,175.1 L154.6,175.1 L154.1,175.1 L153.6,175.1 L153.1,175.1 L152.6,175.1 L152.1,175.1 L151.6,175.1 L151.1,175.1 L150.6,175.1 L150.1,175.1 L149.6,175.1 L149.1,175.1 L148.6,175.1 L148.1,175.1 L147.6,175.1 L147.1,175.1 L146.6,175.1 L146.1,175.1 L145.6,175.1 L145.1,175.1 L144.6,175.1 L144.1,175.1 L143.6,175.1 L143.1,175.1 L142.6,175.1 L142.1,175.1 L141.6,175.0 L141.1,175.0 L140.6,175.0 L140.1,175.0 L139.6,175.0 L139.1,175.0 L138.6,175.0 L138.1,175.0 L137.6,175.0 L137.1,175.0 L136.6,175.0 L136.1,175.0 L135.6,174.9 L135.2,174.9 L134.7,174.9 L134.2,174.9 L133.7,174.9 L133.2,174.9 L132.7,174.8 L132.2,174.8 L131.7,174.8 L131.2,174.8 L130.7,174.7 L130.2,174.7 L129.7,174.7 L129.2,174.6 L128.7,174.6 L128.2,174.6 L127.7,174.5 L127.3,174.5 L126.8,174.4 L126.3,174.4 L125.8,174.3 L125.3,174.3 L124.8,174.2 L124.3,174.1 L123.9,174.1 L123.4,174.0 L122.9,173.9 L122.4,173.8 L121.9,173.7 L121.5,173.6 L121.0,173.5 L120.5,173.5 L120.0,173.4 L119.5,173.3 L119.0,173.2 L118.6,173.0 L118.1,172.9 L117.6,172.8 L117.1,172.7 L116.6,172.6 L116.2,172.5 L115.7,172.3 L115.2,172.2 L114.7,172.1 L114.2,172.0 L113.8,171.8 L113.3,171.7 L112.8,171.6 L112.3,171.5 L111.8,171.3 L111.3,171.2 L110.8,171.1 L110.3,171.0 Z" fill="#fff" stroke="none"/><path d="M109.7,173.8 L110.2,173.9 L110.6,174.0 L111.1,174.1 L111.6,174.3 L112.1,174.4 L112.5,174.5 L113.0,174.7 L113.5,174.8 L114.0,174.9 L114.5,175.0 L115.0,175.2 L115.5,175.3 L116.0,175.4 L116.4,175.5 L116.9,175.6 L117.4,175.8 L117.9,175.9 L118.4,176.0 L118.9,176.1 L119.4,176.2 L119.9,176.3 L120.4,176.4 L120.9,176.5 L121.4,176.6 L121.9,176.7 L122.4,176.8 L122.9,176.8 L123.4,176.9 L123.9,177.0 L124.4,177.1 L124.9,177.1 L125.5,177.2 L126.0,177.3 L126.5,177.3 L127.0,177.4 L127.5,177.4 L128.0,177.5 L128.5,177.5 L129.0,177.5 L129.5,177.6 L130.0,177.6 L130.5,177.6 L131.0,177.7 L131.5,177.7 L132.0,177.7 L132.5,177.7 L133.0,177.8 L133.6,177.8 L134.1,177.8 L134.6,177.8 L135.1,177.8 L135.6,177.8 L136.1,177.9 L136.6,177.9 L137.1,177.9 L137.6,177.9 L138.1,177.9 L138.6,177.9 L139.1,177.9 L139.6,177.9 L140.1,177.9 L140.6,177.9 L141.1,177.9 L141.6,177.9 L142.1,178.0 L142.6,178.0 L143.1,178.0 L143.6,178.0 L144.1,178.0 L144.6,178.0 L145.1,178.0 L145.6,178.0 L146.1,178.0 L146.6,178.0 L147.1,178.0 L147.6,178.0 L148.1,178.0 L148.6,178.0 L149.1,178.0 L149.6,178.0 L150.1,178.0 L150.6,178.0 L151.1,178.0 L151.6,178.0 L152.1,178.0 L152.6,178.0 L153.1,178.0 L153.6,178.0 L154.1,178.0 L154.6,178.0 L155.1,178.0 L155.6,178.0 L156.1,178.0 L156.6,178.0 L157.1,178.0 L157.6,178.0 L158.1,178.0 L158.6,178.0 L159.1,178.0 L159.6,178.0 L160.1,177.9 L160.6,177.9 L161.1,177.9 L161.6,177.9 L162.1,177.9 L162.6,177.9 L163.1,177.9 L163.6,177.9 L164.1,177.9 L164.6,177.9 L165.1,177.9 L165.6,177.9 L166.1,177.9 L166.6,177.9 L167.1,177.9 L167.6,177.9 L168.1,177.9 L168.6,177.9 L169.1,177.9 L169.6,177.9 L170.1,177.9 L170.6,177.9 L171.1,177.9 L171.6,177.9 L172.1,177.9 L172.6,177.9 L173.1,177.8 L173.6,177.8 L174.1,177.8 L174.6,177.8 L175.1,177.8 L175.6,177.8 L176.1,177.8 L176.6,177.8 L177.1,177.8 L177.6,177.8 L178.1,177.8 L178.6,177.8 L179.1,177.8 L179.6,177.8 L180.1,177.8 L180.6,177.7 L181.1,177.7 L181.6,177.7 L182.1,177.7 L182.6,177.7 L183.1,177.7 L183.6,177.7 L184.1,177.7 L184.6,177.7 L185.1,177.7 L185.6,177.7 L186.1,177.7 L186.6,177.6 L187.1,177.6 L187.6,177.6 L188.1,177.6 L188.6,177.6 L189.1,177.6 L189.6,177.6 L190.1,177.6 L190.6,177.6 L191.1,177.6 L191.6,177.6 L192.1,177.6 L192.6,177.6 L193.1,177.5 L193.6,177.5 L194.1,177.5 L194.6,177.5 L195.1,177.5 L195.6,177.5 L196.1,177.5 L196.6,177.5 L197.1,177.5 L197.6,177.5 L198.1,177.5 L198.6,177.5 L199.0,177.4" fill="none" stroke="#000" stroke-width="0.90"/><path d="M110.3,171.0 L110.8,171.1 L111.3,171.2 L111.8,171.3 L112.3,171.5 L112.8,171.6 L113.3,171.7 L113.8,171.8 L114.2,172.0 L114.7,172.1 L115.2,172.2 L115.7,172.3 L116.2,172.5 L116.6,172.6 L117.1,172.7 L117.6,172.8 L118.1,172.9 L118.6,173.0 L119.0,173.2 L119.5,173.3 L120.0,173.4 L120.5,173.5 L121.0,173.5 L121.5,173.6 L121.9,173.7 L122.4,173.8 L122.9,173.9 L123.4,174.0 L123.9,174.1 L124.3,174.1 L124.8,174.2 L125.3,174.3 L125.8,174.3 L126.3,174.4 L126.8,174.4 L127.3,174.5 L127.7,174.5 L128.2,174.6 L128.7,174.6 L129.2,174.6 L129.7,174.7 L130.2,174.7 L130.7,174.7 L131.2,174.8 L131.7,174.8 L132.2,174.8 L132.7,174.8 L133.2,174.9 L133.7,174.9 L134.2,174.9 L134.7,174.9 L135.2,174.9 L135.6,174.9 L136.1,175.0 L136.6,175.0 L137.1,175.0 L137.6,175.0 L138.1,175.0 L138.6,175.0 L139.1,175.0 L139.6,175.0 L140.1,175.0 L140.6,175.0 L141.1,175.0 L141.6,175.0 L142.1,175.1 L142.6,175.1 L143.1,175.1 L143.6,175.1 L144.1,175.1 L144.6,175.1 L145.1,175.1 L145.6,175.1 L146.1,175.1 L146.6,175.1 L147.1,175.1 L147.6,175.1 L148.1,175.1 L148.6,175.1 L149.1,175.1 L149.6,175.1 L150.1,175.1 L150.6,175.1 L151.1,175.1 L151.6,175.1 L152.1,175.1 L152.6,175.1 L153.1,175.1 L153.6,175.1 L154.1,175.1 L154.6,175.1 L155.1,175.1 L155.6,175.1 L156.1,175.1 L156.6,175.1 L157.1,175.1 L157.6,175.1 L158.1,175.1 L158.6,175.1 L159.1,175.1 L159.6,175.1 L160.1,175.0 L160.6,175.0 L161.1,175.0 L161.6,175.0 L162.1,175.0 L162.6,175.0 L163.1,175.0 L163.6,175.0 L164.1,175.0 L164.6,175.0 L165.1,175.0 L165.6,175.0 L166.1,175.0 L166.6,175.0 L167.1,175.0 L167.6,175.0 L168.1,175.0 L168.6,175.0 L169.1,175.0 L169.6,175.0 L170.1,175.0 L170.6,175.0 L171.1,175.0 L171.6,175.0 L172.1,175.0 L172.6,175.0 L173.1,174.9 L173.6,174.9 L174.1,174.9 L174.6,174.9 L175.1,174.9 L175.6,174.9 L176.1,174.9 L176.6,174.9 L177.1,174.9 L177.6,174.9 L178.1,174.9 L178.6,174.9 L179.1,174.9 L179.6,174.9 L180.1,174.9 L180.6,174.8 L181.1,174.8 L181.6,174.8 L182.1,174.8 L182.6,174.8 L183.1,174.8 L183.6,174.8 L184.1,174.8 L184.6,174.8 L185.1,174.8 L185.6,174.8 L186.1,174.8 L186.6,174.8 L187.1,174.7 L187.6,174.7 L188.1,174.7 L188.6,174.7 L189.1,174.7 L189.6,174.7 L190.1,174.7 L190.6,174.7 L191.1,174.7 L191.6,174.7 L192.1,174.7 L192.6,174.7 L193.1,174.6 L193.6,174.6 L194.1,174.6 L194.6,174.6 L195.1,174.6 L195.6,174.6 L196.1,174.6 L196.6,174.6 L197.1,174.6 L197.6,174.6 L198.1,174.6 L198.6,174.6 L199.0,174.6" fill="none" stroke="#000" stroke-width="0.90"/><path d="M115.0,175.2 L117.6,172.8 M126.0,177.3 L128.2,174.6 M137.1,177.9 L139.1,175.0 M148.1,178.0 L150.1,175.1 M159.1,178.0 L161.1,175.0 M170.1,177.9 L172.1,175.0 M181.1,177.7 L183.1,174.8 M192.1,177.6 L194.1,174.6" fill="none" stroke="#000" stroke-width="0.81"/>
<path d="M78.1,199.5 L78.6,199.6 L79.0,199.7 L79.5,199.8 L80.0,199.9 L80.5,200.0 L81.0,200.1 L81.5,200.2 L82.0,200.4 L82.4,200.5 L82.9,200.6 L83.4,200.7 L83.9,200.8 L84.4,200.9 L84.9,201.0 L85.4,201.2 L85.9,201.3 L86.4,201.4 L86.9,201.5 L87.3,201.6 L87.8,201.7 L88.3,201.8 L88.8,201.9 L89.3,202.0 L89.8,202.1 L90.3,202.2 L90.8,202.3 L91.3,202.4 L91.8,202.5 L92.3,202.5 L92.8,202.6 L93.3,202.7 L93.9,202.8 L94.4,202.8 L94.9,202.9 L95.4,202.9 L95.9,203.0 L96.4,203.0 L96.9,203.1 L97.5,203.1 L98.0,203.1 L98.5,203.2 L99.0,203.2 L99.5,203.2 L100.0,203.2 L100.5,203.2 L101.0,203.2 L101.6,203.2 L102.1,203.2 L102.6,203.2 L103.1,203.1 L103.6,203.1 L104.1,203.1 L104.6,203.1 L105.1,203.1 L105.6,203.1 L106.1,203.0 L106.6,203.0 L107.1,203.0 L107.6,203.0 L108.1,203.0 L108.6,202.9 L109.1,202.9 L109.6,202.9 L110.1,202.9 L110.6,202.9 L111.0,202.9 L111.5,202.9 L112.0,202.9 L112.5,202.9 L113.0,202.9 L113.5,202.9 L114.0,202.9 L114.5,202.9 L115.0,202.9 L115.5,202.9 L116.0,202.9 L116.5,202.9 L117.0,202.9 L117.5,202.9 L118.0,202.9 L118.5,202.9 L119.0,202.9 L119.6,202.9 L120.1,202.9 L120.6,202.9 L121.1,202.9 L121.6,202.9 L122.1,202.8 L122.6,202.8 L123.1,202.8 L123.6,202.8 L124.1,202.7 L124.6,202.7 L125.2,202.6 L125.7,202.6 L126.2,202.5 L126.7,202.5 L127.2,202.4 L127.7,202.4 L128.2,202.3 L128.7,202.2 L129.2,202.1 L129.7,202.1 L130.2,202.0 L130.7,201.9 L131.2,201.8 L131.7,201.7 L132.2,201.6 L132.7,201.5 L133.2,201.5 L133.7,201.4 L134.2,201.3 L134.7,201.2 L135.2,201.1 L135.7,201.0 L136.2,200.9 L136.7,200.8 L137.2,200.7 L137.7,200.6 L138.2,200.5 L138.6,200.4 L139.1,200.2 L139.6,200.1 L140.1,200.0 L140.6,199.9 L141.1,199.8 L141.6,199.7 L142.1,199.6 L142.6,199.5 L143.1,199.3 L143.6,199.2 L144.0,199.1 L144.5,199.0 L145.0,198.9 L145.5,198.7 L146.0,198.6 L146.5,198.5 L147.0,198.4 L147.5,198.2 L147.9,198.1 L148.4,198.0 L148.9,197.8 L149.4,197.7 L149.9,197.6 L150.4,197.4 L150.9,197.3 L151.3,197.2 L151.8,197.0 L152.3,196.9 L152.8,196.8 L153.3,196.6 L153.8,196.5 L154.2,196.3 L154.7,196.2 L155.2,196.1 L155.7,195.9 L156.2,195.8 L156.7,195.6 L157.1,195.5 L157.6,195.3 L158.1,195.2 L158.6,195.0 L159.1,194.9 L159.5,194.7 L160.0,194.6 L160.5,194.4 L161.0,194.3 L161.4,194.1 L161.9,193.9 L162.4,193.8 L162.9,193.6 L163.4,193.5 L163.8,193.3 L164.3,193.1 L164.8,193.0 L165.3,192.8 L165.7,192.6 L166.2,192.5 L166.7,192.3 L167.2,192.1 L167.6,192.0 L168.1,191.8 L168.6,191.6 L169.0,191.5 L169.5,191.3 L170.0,191.1 L170.5,190.9 L170.9,190.8 L171.4,190.6 L171.9,190.4 L172.3,190.2 L172.8,190.1 L173.3,189.9 L173.7,189.7 L174.2,189.5 L174.7,189.4 L175.2,189.2 L175.6,189.0 L176.1,188.8 L176.6,188.7 L177.0,188.5 L177.5,188.3 L178.0,188.1 L178.4,188.0 L178.9,187.8 L179.4,187.6 L179.8,187.4 L180.3,187.2 L180.8,187.1 L181.2,186.9 L181.7,186.7 L182.2,186.5 L182.6,186.3 L183.1,186.2 L183.6,186.0 L184.0,185.8 L184.5,185.6 L185.0,185.4 L185.4,185.3 L185.9,185.1 L186.4,184.9 L186.8,184.7 L187.3,184.5 L187.8,184.4 L188.2,184.2 L188.7,184.0 L189.2,183.8 L189.6,183.6 L190.1,183.4 L190.6,183.3 L191.0,183.1 L191.5,182.9 L192.0,182.7 L192.4,182.5 L192.9,182.4 L193.4,182.2 L193.8,182.0 L194.3,181.8 L194.8,181.6 L195.2,181.4 L195.7,181.3 L196.2,181.1 L196.6,180.9 L197.1,180.7 L197.6,180.5 L198.0,180.4 L198.5,180.2 L199.0,180.0 L199.4,179.8 L199.9,179.6 L200.3,179.5 L200.5,179.4 L199.5,176.6 L199.3,176.7 L198.8,176.8 L198.3,177.0 L197.9,177.2 L197.4,177.4 L196.9,177.6 L196.5,177.7 L196.0,177.9 L195.5,178.1 L195.1,178.3 L194.6,178.5 L194.1,178.7 L193.7,178.8 L193.2,179.0 L192.7,179.2 L192.3,179.4 L191.8,179.6 L191.3,179.7 L190.9,179.9 L190.4,180.1 L189.9,180.3 L189.5,180.5 L189.0,180.7 L188.6,180.8 L188.1,181.0 L187.6,181.2 L187.2,181.4 L186.7,181.6 L186.2,181.7 L185.8,181.9 L185.3,182.1 L184.8,182.3 L184.4,182.5 L183.9,182.6 L183.4,182.8 L183.0,183.0 L182.5,183.2 L182.0,183.4 L181.6,183.5 L181.1,183.7 L180.6,183.9 L180.2,184.1 L179.7,184.3 L179.2,184.4 L178.8,184.6 L178.3,184.8 L177.8,185.0 L177.4,185.2 L176.9,185.3 L176.4,185.5 L176.0,185.7 L175.5,185.9 L175.0,186.0 L174.6,186.2 L174.1,186.4 L173.6,186.6 L173.2,186.7 L172.7,186.9 L172.2,187.1 L171.8,187.3 L171.3,187.4 L170.8,187.6 L170.4,187.8 L169.9,188.0 L169.4,188.1 L169.0,188.3 L168.5,188.5 L168.0,188.6 L167.6,188.8 L167.1,189.0 L166.6,189.1 L166.1,189.3 L165.7,189.5 L165.2,189.6 L164.7,189.8 L164.3,190.0 L163.8,190.1 L163.3,190.3 L162.9,190.5 L162.4,190.6 L161.9,190.8 L161.4,190.9 L161.0,191.1 L160.5,191.3 L160.0,191.4 L159.6,191.6 L159.1,191.7 L158.6,191.9 L158.1,192.0 L157.7,192.2 L157.2,192.3 L156.7,192.5 L156.3,192.6 L155.8,192.8 L155.3,192.9 L154.8,193.0 L154.3,193.2 L153.9,193.3 L153.4,193.5 L152.9,193.6 L152.4,193.7 L152.0,193.9 L151.5,194.0 L151.0,194.2 L150.5,194.3 L150.0,194.4 L149.6,194.6 L149.1,194.7 L148.6,194.8 L148.1,194.9 L147.7,195.1 L147.2,195.2 L146.7,195.3 L146.2,195.5 L145.7,195.6 L145.3,195.7 L144.8,195.8 L144.3,196.0 L143.8,196.1 L143.3,196.2 L142.8,196.3 L142.4,196.4 L141.9,196.5 L141.4,196.7 L140.9,196.8 L140.4,196.9 L139.9,197.0 L139.5,197.1 L139.0,197.2 L138.5,197.3 L138.0,197.4 L137.5,197.5 L137.0,197.6 L136.6,197.7 L136.1,197.8 L135.6,197.9 L135.1,198.0 L134.6,198.1 L134.1,198.2 L133.6,198.3 L133.1,198.4 L132.7,198.5 L132.2,198.6 L131.7,198.7 L131.2,198.8 L130.7,198.9 L130.2,198.9 L129.7,199.0 L129.3,199.1 L128.8,199.2 L128.3,199.2 L127.8,199.3 L127.3,199.4 L126.8,199.4 L126.3,199.5 L125.9,199.6 L125.4,199.6 L124.9,199.6 L124.4,199.7 L123.9,199.7 L123.4,199.8 L122.9,199.8 L122.5,199.8 L122.0,199.8 L121.5,199.9 L121.0,199.9 L120.5,199.9 L120.0,199.9 L119.5,199.9 L119.0,199.9 L118.5,199.9 L118.0,199.9 L117.5,199.9 L117.0,199.9 L116.5,199.9 L116.0,199.9 L115.5,199.9 L115.0,199.9 L114.5,199.9 L114.0,199.9 L113.5,199.9 L113.0,199.9 L112.5,199.9 L112.0,199.9 L111.5,199.9 L111.0,199.9 L110.5,199.9 L110.0,199.9 L109.5,199.9 L109.0,199.9 L108.5,199.9 L108.0,200.0 L107.5,200.0 L107.0,200.0 L106.5,200.0 L106.0,200.0 L105.5,200.1 L105.0,200.1 L104.5,200.1 L104.0,200.1 L103.5,200.1 L103.0,200.1 L102.5,200.2 L102.0,200.2 L101.5,200.2 L101.0,200.2 L100.5,200.2 L100.1,200.2 L99.6,200.2 L99.1,200.2 L98.6,200.2 L98.1,200.1 L97.6,200.1 L97.1,200.1 L96.7,200.0 L96.2,200.0 L95.7,200.0 L95.2,199.9 L94.7,199.9 L94.3,199.8 L93.8,199.7 L93.3,199.7 L92.8,199.6 L92.3,199.5 L91.8,199.4 L91.4,199.3 L90.9,199.2 L90.4,199.1 L89.9,199.1 L89.4,199.0 L88.9,198.9 L88.5,198.8 L88.0,198.7 L87.5,198.5 L87.0,198.4 L86.5,198.3 L86.0,198.2 L85.6,198.1 L85.1,198.0 L84.6,197.9 L84.1,197.8 L83.6,197.7 L83.1,197.6 L82.6,197.4 L82.2,197.3 L81.7,197.2 L81.2,197.1 L80.7,197.0 L80.2,196.9 L79.7,196.8 L79.2,196.6 L78.7,196.5 Z" fill="#fff" stroke="none"/><path d="M78.1,199.5 L78.6,199.6 L79.0,199.7 L79.5,199.8 L80.0,199.9 L80.5,200.0 L81.0,200.1 L81.5,200.2 L82.0,200.4 L82.4,200.5 L82.9,200.6 L83.4,200.7 L83.9,200.8 L84.4,200.9 L84.9,201.0 L85.4,201.2 L85.9,201.3 L86.4,201.4 L86.9,201.5 L87.3,201.6 L87.8,201.7 L88.3,201.8 L88.8,201.9 L89.3,202.0 L89.8,202.1 L90.3,202.2 L90.8,202.3 L91.3,202.4 L91.8,202.5 L92.3,202.5 L92.8,202.6 L93.3,202.7 L93.9,202.8 L94.4,202.8 L94.9,202.9 L95.4,202.9 L95.9,203.0 L96.4,203.0 L96.9,203.1 L97.5,203.1 L98.0,203.1 L98.5,203.2 L99.0,203.2 L99.5,203.2 L100.0,203.2 L100.5,203.2 L101.0,203.2 L101.6,203.2 L102.1,203.2 L102.6,203.2 L103.1,203.1 L103.6,203.1 L104.1,203.1 L104.6,203.1 L105.1,203.1 L105.6,203.1 L106.1,203.0 L106.6,203.0 L107.1,203.0 L107.6,203.0 L108.1,203.0 L108.6,202.9 L109.1,202.9 L109.6,202.9 L110.1,202.9 L110.6,202.9 L111.0,202.9 L111.5,202.9 L112.0,202.9 L112.5,202.9 L113.0,202.9 L113.5,202.9 L114.0,202.9 L114.5,202.9 L115.0,202.9 L115.5,202.9 L116.0,202.9 L116.5,202.9 L117.0,202.9 L117.5,202.9 L118.0,202.9 L118.5,202.9 L119.0,202.9 L119.6,202.9 L120.1,202.9 L120.6,202.9 L121.1,202.9 L121.6,202.9 L122.1,202.8 L122.6,202.8 L123.1,202.8 L123.6,202.8 L124.1,202.7 L124.6,202.7 L125.2,202.6 L125.7,202.6 L126.2,202.5 L126.7,202.5 L127.2,202.4 L127.7,202.4 L128.2,202.3 L128.7,202.2 L129.2,202.1 L129.7,202.1 L130.2,202.0 L130.7,201.9 L131.2,201.8 L131.7,201.7 L132.2,201.6 L132.7,201.5 L133.2,201.5 L133.7,201.4 L134.2,201.3 L134.7,201.2 L135.2,201.1 L135.7,201.0 L136.2,200.9 L136.7,200.8 L137.2,200.7 L137.7,200.6 L138.2,200.5 L138.6,200.4 L139.1,200.2 L139.6,200.1 L140.1,200.0 L140.6,199.9 L141.1,199.8 L141.6,199.7 L142.1,199.6 L142.6,199.5 L143.1,199.3 L143.6,199.2 L144.0,199.1 L144.5,199.0 L145.0,198.9 L145.5,198.7 L146.0,198.6 L146.5,198.5 L147.0,198.4 L147.5,198.2 L147.9,198.1 L148.4,198.0 L148.9,197.8 L149.4,197.7 L149.9,197.6 L150.4,197.4 L150.9,197.3 L151.3,197.2 L151.8,197.0 L152.3,196.9 L152.8,196.8 L153.3,196.6 L153.8,196.5 L154.2,196.3 L154.7,196.2 L155.2,196.1 L155.7,195.9 L156.2,195.8 L156.7,195.6 L157.1,195.5 L157.6,195.3 L158.1,195.2 L158.6,195.0 L159.1,194.9 L159.5,194.7 L160.0,194.6 L160.5,194.4 L161.0,194.3 L161.4,194.1 L161.9,193.9 L162.4,193.8 L162.9,193.6 L163.4,193.5 L163.8,193.3 L164.3,193.1 L164.8,193.0 L165.3,192.8 L165.7,192.6 L166.2,192.5 L166.7,192.3 L167.2,192.1 L167.6,192.0 L168.1,191.8 L168.6,191.6 L169.0,191.5 L169.5,191.3 L170.0,191.1 L170.5,190.9 L170.9,190.8 L171.4,190.6 L171.9,190.4 L172.3,190.2 L172.8,190.1 L173.3,189.9 L173.7,189.7 L174.2,189.5 L174.7,189.4 L175.2,189.2 L175.6,189.0 L176.1,188.8 L176.6,188.7 L177.0,188.5 L177.5,188.3 L178.0,188.1 L178.4,188.0 L178.9,187.8 L179.4,187.6 L179.8,187.4 L180.3,187.2 L180.8,187.1 L181.2,186.9 L181.7,186.7 L182.2,186.5 L182.6,186.3 L183.1,186.2 L183.6,186.0 L184.0,185.8 L184.5,185.6 L185.0,185.4 L185.4,185.3 L185.9,185.1 L186.4,184.9 L186.8,184.7 L187.3,184.5 L187.8,184.4 L188.2,184.2 L188.7,184.0 L189.2,183.8 L189.6,183.6 L190.1,183.4 L190.6,183.3 L191.0,183.1 L191.5,182.9 L192.0,182.7 L192.4,182.5 L192.9,182.4 L193.4,182.2 L193.8,182.0 L194.3,181.8 L194.8,181.6 L195.2,181.4 L195.7,181.3 L196.2,181.1 L196.6,180.9 L197.1,180.7 L197.6,180.5 L198.0,180.4 L198.5,180.2 L199.0,180.0 L199.4,179.8 L199.9,179.6 L200.3,179.5 L200.5,179.4" fill="none" stroke="#000" stroke-width="0.90"/><path d="M78.7,196.5 L79.2,196.6 L79.7,196.8 L80.2,196.9 L80.7,197.0 L81.2,197.1 L81.7,197.2 L82.2,197.3 L82.6,197.4 L83.1,197.6 L83.6,197.7 L84.1,197.8 L84.6,197.9 L85.1,198.0 L85.6,198.1 L86.0,198.2 L86.5,198.3 L87.0,198.4 L87.5,198.5 L88.0,198.7 L88.5,198.8 L88.9,198.9 L89.4,199.0 L89.9,199.1 L90.4,199.1 L90.9,199.2 L91.4,199.3 L91.8,199.4 L92.3,199.5 L92.8,199.6 L93.3,199.7 L93.8,199.7 L94.3,199.8 L94.7,199.9 L95.2,199.9 L95.7,200.0 L96.2,200.0 L96.7,200.0 L97.1,200.1 L97.6,200.1 L98.1,200.1 L98.6,200.2 L99.1,200.2 L99.6,200.2 L100.1,200.2 L100.5,200.2 L101.0,200.2 L101.5,200.2 L102.0,200.2 L102.5,200.2 L103.0,200.1 L103.5,200.1 L104.0,200.1 L104.5,200.1 L105.0,200.1 L105.5,200.1 L106.0,200.0 L106.5,200.0 L107.0,200.0 L107.5,200.0 L108.0,200.0 L108.5,199.9 L109.0,199.9 L109.5,199.9 L110.0,199.9 L110.5,199.9 L111.0,199.9 L111.5,199.9 L112.0,199.9 L112.5,199.9 L113.0,199.9 L113.5,199.9 L114.0,199.9 L114.5,199.9 L115.0,199.9 L115.5,199.9 L116.0,199.9 L116.5,199.9 L117.0,199.9 L117.5,199.9 L118.0,199.9 L118.5,199.9 L119.0,199.9 L119.5,199.9 L120.0,199.9 L120.5,199.9 L121.0,199.9 L121.5,199.9 L122.0,199.8 L122.5,199.8 L122.9,199.8 L123.4,199.8 L123.9,199.7 L124.4,199.7 L124.9,199.6 L125.4,199.6 L125.9,199.6 L126.3,199.5 L126.8,199.4 L127.3,199.4 L127.8,199.3 L128.3,199.2 L128.8,199.2 L129.3,199.1 L129.7,199.0 L130.2,198.9 L130.7,198.9 L131.2,198.8 L131.7,198.7 L132.2,198.6 L132.7,198.5 L133.1,198.4 L133.6,198.3 L134.1,198.2 L134.6,198.1 L135.1,198.0 L135.6,197.9 L136.1,197.8 L136.6,197.7 L137.0,197.6 L137.5,197.5 L138.0,197.4 L138.5,197.3 L139.0,197.2 L139.5,197.1 L139.9,197.0 L140.4,196.9 L140.9,196.8 L141.4,196.7 L141.9,196.5 L142.4,196.4 L142.8,196.3 L143.3,196.2 L143.8,196.1 L144.3,196.0 L144.8,195.8 L145.3,195.7 L145.7,195.6 L146.2,195.5 L146.7,195.3 L147.2,195.2 L147.7,195.1 L148.1,194.9 L148.6,194.8 L149.1,194.7 L149.6,194.6 L150.0,194.4 L150.5,194.3 L151.0,194.2 L151.5,194.0 L152.0,193.9 L152.4,193.7 L152.9,193.6 L153.4,193.5 L153.9,193.3 L154.3,193.2 L154.8,193.0 L155.3,192.9 L155.8,192.8 L156.3,192.6 L156.7,192.5 L157.2,192.3 L157.7,192.2 L158.1,192.0 L158.6,191.9 L159.1,191.7 L159.6,191.6 L160.0,191.4 L160.5,191.3 L161.0,191.1 L161.4,190.9 L161.9,190.8 L162.4,190.6 L162.9,190.5 L163.3,190.3 L163.8,190.1 L164.3,190.0 L164.7,189.8 L165.2,189.6 L165.7,189.5 L166.1,189.3 L166.6,189.1 L167.1,189.0 L167.6,188.8 L168.0,188.6 L168.5,188.5 L169.0,188.3 L169.4,188.1 L169.9,188.0 L170.4,187.8 L170.8,187.6 L171.3,187.4 L171.8,187.3 L172.2,187.1 L172.7,186.9 L173.2,186.7 L173.6,186.6 L174.1,186.4 L174.6,186.2 L175.0,186.0 L175.5,185.9 L176.0,185.7 L176.4,185.5 L176.9,185.3 L177.4,185.2 L177.8,185.0 L178.3,184.8 L178.8,184.6 L179.2,184.4 L179.7,184.3 L180.2,184.1 L180.6,183.9 L181.1,183.7 L181.6,183.5 L182.0,183.4 L182.5,183.2 L183.0,183.0 L183.4,182.8 L183.9,182.6 L184.4,182.5 L184.8,182.3 L185.3,182.1 L185.8,181.9 L186.2,181.7 L186.7,181.6 L187.2,181.4 L187.6,181.2 L188.1,181.0 L188.6,180.8 L189.0,180.7 L189.5,180.5 L189.9,180.3 L190.4,180.1 L190.9,179.9 L191.3,179.7 L191.8,179.6 L192.3,179.4 L192.7,179.2 L193.2,179.0 L193.7,178.8 L194.1,178.7 L194.6,178.5 L195.1,178.3 L195.5,178.1 L196.0,177.9 L196.5,177.7 L196.9,177.6 L197.4,177.4 L197.9,177.2 L198.3,177.0 L198.8,176.8 L199.3,176.7 L199.5,176.6" fill="none" stroke="#000" stroke-width="0.90"/><path d="M83.4,200.7 L86.0,198.2 M94.4,202.8 L96.7,200.0 M105.6,203.1 L107.5,200.0 M116.5,202.9 L118.5,199.9 M127.7,202.4 L129.3,199.1 M138.6,200.4 L139.9,197.0 M149.4,197.7 L150.5,194.3 M160.0,194.6 L161.0,191.1 M170.5,190.9 L171.3,187.4 M180.8,187.1 L181.6,183.5 M191.0,183.1 L191.8,179.6" fill="none" stroke="#000" stroke-width="0.81"/>
<path d="M57.9,192.3 L58.4,192.4 L59.1,192.4 L59.9,192.5 L60.8,192.6 L61.7,192.7 L62.7,192.8 L63.8,192.9 L64.9,193.0 L66.0,193.1 L67.1,193.2 L68.2,193.4 L69.3,193.5 L70.3,193.6 L71.2,193.7 L72.0,193.9 L72.8,194.0 L73.5,194.1 L74.1,194.3 L74.8,194.5 L75.4,194.6 L75.9,194.8 L76.4,195.0 L77.0,195.2 L77.4,195.4 L77.9,195.5 L78.3,195.7 L78.7,195.9 L79.0,196.0 L79.4,196.2 L79.7,196.3 L80.0,196.4 L80.2,196.5" fill="none" stroke="#000" stroke-width="0.90"/>
<path d="M57.9,194.3 L58.4,194.4 L59.1,194.4 L59.9,194.5 L60.8,194.6 L61.7,194.7 L62.8,194.8 L63.9,194.9 L65.0,195.0 L66.1,195.1 L67.2,195.2 L68.3,195.3 L69.3,195.4 L70.3,195.6 L71.3,195.7 L72.1,195.9 L72.8,196.0 L73.4,196.2 L74.0,196.3 L74.6,196.5 L75.1,196.7 L75.6,196.9 L76.0,197.2 L76.4,197.4 L76.8,197.6 L77.2,197.8 L77.5,198.0 L77.8,198.2 L78.1,198.4 L78.3,198.6 L78.6,198.8 L78.8,198.9 L79.0,199.0" fill="none" stroke="#000" stroke-width="0.90"/>
<path d="M58.8,204.2 L59.1,204.1 L59.5,204.0 L59.9,204.0 L60.3,203.9 L60.8,203.8 L61.4,203.6 L61.9,203.5 L62.5,203.4 L63.1,203.2 L63.7,203.1 L64.3,202.9 L64.9,202.8 L65.5,202.6 L66.1,202.4 L66.7,202.2 L67.2,202.0 L67.7,201.8 L68.3,201.5 L68.8,201.2 L69.4,200.9 L69.9,200.6 L70.5,200.3 L71.1,199.9 L71.6,199.6 L72.2,199.3 L72.7,199.0 L73.2,198.7 L73.6,198.4 L74.0,198.1 L74.4,197.9 L74.7,197.7 L75.0,197.5" fill="none" stroke="#000" stroke-width="0.90"/>
<path d="M58.8,206.2 L59.1,206.1 L59.5,206.0 L59.9,206.0 L60.4,205.9 L60.9,205.8 L61.5,205.6 L62.1,205.5 L62.7,205.4 L63.4,205.2 L64.0,205.1 L64.7,204.9 L65.3,204.8 L66.0,204.6 L66.6,204.4 L67.2,204.2 L67.8,204.0 L68.4,203.8 L69.0,203.5 L69.6,203.2 L70.3,202.9 L71.0,202.6 L71.6,202.3 L72.3,201.9 L73.0,201.6 L73.6,201.3 L74.2,201.0 L74.8,200.7 L75.3,200.4 L75.8,200.1 L76.3,199.9 L76.7,199.7 L77.0,199.5" fill="none" stroke="#000" stroke-width="0.90"/>
<path d="M201.0,88.0 L212.5,93.0 L214.0,96.0 L201.0,93.5 Z" fill="#000" stroke="#000" stroke-width="0.6"/>
<path d="M184.5,109.0 L194.6,117.5 L193.0,120.5 L184.5,113.5 Z" fill="#000" stroke="#000" stroke-width="0.6"/>
<path d="M120.0,144.0 L152.6,151.5 L152.6,155.0 L122.0,151.0 Z" fill="#000" stroke="#000" stroke-width="0.6"/>
<path d="M147.0,137.5 L152.0,140.5 L151.0,143.5 L147.0,142.0 Z" fill="#000" stroke="#000" stroke-width="0.6"/>
<path d="M181.2,81.2 L184.2,77.8 L196.0,80.6 L195.5,90.1 L192.5,93.5 L180.7,90.7 Z" fill="#fff" stroke="#000" stroke-width="1.00"/>
<path d="M181.2,81.2 L181.6,81.3 L182.2,81.4 L182.9,81.5 L183.6,81.5 L184.4,81.6 L185.3,81.8 L186.2,81.9 L187.1,82.0 L188.1,82.2 L189.0,82.3 L189.8,82.5 L190.6,82.8 L191.4,83.0 L192.0,83.3 L192.6,83.6 L193.0,84.0 L193.3,84.4 L193.5,84.9 L193.7,85.5 L193.7,86.1 L193.7,86.8 L193.7,87.5 L193.6,88.2 L193.5,88.9 L193.3,89.6 L193.2,90.3 L193.0,91.0 L192.9,91.6 L192.7,92.2 L192.6,92.7 L192.5,93.2 L192.5,93.5" fill="none" stroke="#000" stroke-width="0.90"/>
<path d="M193.0,84.0 L196.0,80.6" fill="none" stroke="#000" stroke-width="0.90"/>
<path d="M193.0,80.0 L200.0,78.8 L202.5,82.0 L202.0,93.0 L194.0,94.6 Z" fill="#000" stroke="#000" stroke-width="0.6"/>
<path d="M196,81 L199,80.5 M196,85 L200,84.5 M196,89 L200,88.5" stroke="#fff" stroke-width="0.8"/>
<path d="M160.0,98.5 L161.8,96.3 L185.3,101.8 L185.3,111.3 L183.5,113.5 L160.0,108.0 Z" fill="#fff" stroke="#000" stroke-width="1.00"/>
<path d="M160.0,98.5 L160.9,98.7 L162.0,98.9 L163.3,99.1 L164.8,99.4 L166.4,99.7 L168.1,100.0 L169.9,100.3 L171.8,100.7 L173.6,101.0 L175.4,101.4 L177.1,101.8 L178.7,102.2 L180.2,102.6 L181.5,103.1 L182.6,103.5 L183.5,104.0 L184.1,104.5 L184.6,105.1 L185.0,105.7 L185.2,106.3 L185.2,107.0 L185.2,107.7 L185.1,108.4 L185.0,109.1 L184.8,109.8 L184.5,110.5 L184.3,111.1 L184.1,111.7 L183.8,112.2 L183.7,112.7 L183.5,113.2 L183.5,113.5" fill="none" stroke="#000" stroke-width="0.90"/>
<path d="M183.5,104.0 L185.3,101.8" fill="none" stroke="#000" stroke-width="0.90"/>
<path d="M173.4,101.6 L173.4,102.0 L173.4,102.5 L173.4,103.1 L173.4,103.8 L173.3,104.5 L173.3,105.4 L173.3,106.2 L173.3,107.0 L173.3,107.8 L173.3,108.6 L173.3,109.3 L173.3,109.9 L173.3,110.4 L173.3,110.8 L173.4,111.0 L173.4,111.0 L173.5,110.8 L173.5,110.5 L173.6,110.0 L173.7,109.3 L173.8,108.6 L174.0,107.7 L174.1,106.8 L174.2,105.8 L174.3,104.9 L174.4,103.9 L174.6,102.9 L174.7,102.1 L174.8,101.2 L174.9,100.5 L174.9,99.9 L175.0,99.5" fill="none" stroke="#000" stroke-width="0.90"/>
<path d="M182.0,104.5 L185.7,105.0 L185.7,113.5 L182.0,113.5 Z" fill="#000" stroke="#000" stroke-width="0.6"/>
<path d="M160.0,97.5 L158.0,96.8" fill="none" stroke="#000" stroke-width="1.00"/>
<circle cx="157.5" cy="96.8" r="1.4" fill="#fff" stroke="#000" stroke-width="0.9"/>
<path d="M149.5,122.0 L151.5,119.5 L163.5,123.0 L163.5,129.0 L161.5,131.5 L149.5,128.0 Z" fill="#fff" stroke="#000" stroke-width="1.00"/>
<path d="M149.5,122.0 L149.9,122.1 L150.5,122.3 L151.2,122.4 L151.9,122.6 L152.8,122.8 L153.6,122.9 L154.6,123.2 L155.5,123.4 L156.4,123.6 L157.4,123.9 L158.2,124.1 L159.1,124.4 L159.8,124.6 L160.5,124.9 L161.1,125.2 L161.5,125.5 L161.8,125.8 L162.1,126.2 L162.2,126.6 L162.3,127.0 L162.4,127.4 L162.4,127.8 L162.3,128.3 L162.2,128.7 L162.1,129.2 L162.0,129.6 L161.9,130.0 L161.8,130.4 L161.7,130.7 L161.6,131.0 L161.5,131.3 L161.5,131.5" fill="none" stroke="#000" stroke-width="0.90"/>
<path d="M161.5,125.5 L163.5,123.0" fill="none" stroke="#000" stroke-width="0.90"/>
<path d="M152.0,123.0 L152.0,128.5" fill="none" stroke="#000" stroke-width="0.70"/>
<path d="M155.0,123.8 L155.0,129.3" fill="none" stroke="#000" stroke-width="0.70"/>
<path d="M158.0,124.6 L158.0,130.0" fill="none" stroke="#000" stroke-width="0.70"/>
<path d="M161.0,124.5 L163.5,122.0 L166.0,123.5 L166.0,130.0 L162.5,131.5 Z" fill="#000" stroke="#000" stroke-width="0.6"/>
<path d="M122.7,131.5 L124.2,129.0 L149.2,133.0 L149.2,141.0 L147.7,143.5 L122.7,139.5 Z" fill="#fff" stroke="#000" stroke-width="1.00"/>
<path d="M122.7,131.5 L123.6,131.6 L124.8,131.8 L126.2,131.9 L127.8,132.1 L129.5,132.3 L131.3,132.5 L133.3,132.8 L135.2,133.0 L137.1,133.3 L139.1,133.5 L140.9,133.8 L142.6,134.1 L144.2,134.4 L145.6,134.8 L146.8,135.1 L147.7,135.5 L148.4,135.9 L148.9,136.4 L149.2,136.9 L149.5,137.4 L149.5,138.0 L149.5,138.6 L149.4,139.2 L149.3,139.8 L149.0,140.3 L148.8,140.9 L148.5,141.5 L148.3,142.0 L148.1,142.4 L147.9,142.9 L147.7,143.2 L147.7,143.5" fill="none" stroke="#000" stroke-width="0.90"/>
<path d="M147.7,135.5 L149.2,133.0" fill="none" stroke="#000" stroke-width="0.90"/>
<path d="M137.0,133.8 L137.0,141.8" fill="none" stroke="#000" stroke-width="0.90"/>
<path d="M122.7,130.5 L120.0,128.5" fill="none" stroke="#000" stroke-width="1.00"/>
<circle cx="119.5" cy="128" r="1.4" fill="#fff" stroke="#000" stroke-width="0.9"/>
<path d="M146.0,135.5 L149.0,136.0 L149.0,142.5 L146.0,142.0 Z" fill="#000" stroke="#000" stroke-width="0.6"/>
<path d="M98.0,139.3 L99.5,135.8 L125.0,138.8 L125.0,148.6 L123.5,152.1 L98.0,149.1 Z" fill="#fff" stroke="#000" stroke-width="1.00"/>
<path d="M98.0,139.3 L98.9,139.4 L100.1,139.5 L101.6,139.6 L103.2,139.7 L104.9,139.8 L106.8,139.9 L108.8,140.0 L110.8,140.2 L112.7,140.4 L114.7,140.5 L116.6,140.8 L118.3,141.0 L119.9,141.3 L121.4,141.6 L122.6,141.9 L123.5,142.3 L124.2,142.7 L124.7,143.3 L125.1,143.9 L125.3,144.5 L125.4,145.2 L125.4,145.9 L125.3,146.6 L125.1,147.4 L124.9,148.1 L124.6,148.8 L124.4,149.5 L124.1,150.2 L123.9,150.8 L123.7,151.3 L123.5,151.7 L123.5,152.1" fill="none" stroke="#000" stroke-width="0.90"/>
<path d="M123.5,142.3 L125.0,138.8" fill="none" stroke="#000" stroke-width="0.90"/>
<path d="M109.7,140.6 L109.7,150.6" fill="none" stroke="#000" stroke-width="0.90"/>
<path d="M98.0,137.5 L96.0,135.0" fill="none" stroke="#000" stroke-width="1.00"/>
<circle cx="95.5" cy="134.6" r="1.5" fill="#fff" stroke="#000" stroke-width="0.9"/>
<path d="M120.0,143.0 L124.0,142.5 L124.0,152.5 L120.0,152.0 Z" fill="#000" stroke="#000" stroke-width="0.6"/>
<path d="M89.0,167.0 L95.0,162.3 L106.0,165.0 L111.0,170.0 L108.0,175.3 L92.0,172.0 Z" fill="#fff" stroke="#000" stroke-width="1.00"/>
<path d="M90.0,168.0 L93.0,171.5" fill="none" stroke="#000" stroke-width="0.80"/>
<path d="M93.0,168.6 L96.0,172.1" fill="none" stroke="#000" stroke-width="0.80"/>
<path d="M96.0,169.2 L99.0,172.7" fill="none" stroke="#000" stroke-width="0.80"/>
<path d="M99.0,169.8 L102.0,173.3" fill="none" stroke="#000" stroke-width="0.80"/>
<path d="M102.0,170.4 L105.0,173.9" fill="none" stroke="#000" stroke-width="0.80"/>
<path d="M104.0,164.5 L110.0,167.0 L111.0,171.5 L106.0,174.0 Z" fill="#000" stroke="#000" stroke-width="0.6"/>
<path d="M49.5,190.2 L57.9,190.5 L58.5,193 L57.9,195.8 L49.5,195.6 Z" fill="#fff" stroke="#000" stroke-width="1"/>
<path d="M50.5,202.3 L58.8,202.5 L59.5,205.5 L58.8,208.8 L50.5,208.6 Z" fill="#fff" stroke="#000" stroke-width="1"/>
<path d="M55.0,190.5 L55.0,195.6" fill="none" stroke="#000" stroke-width="0.80"/>
<path d="M56.0,202.5 L56.0,208.6" fill="none" stroke="#000" stroke-width="0.80"/>
<path d="M300.2,190.0 L300.3,190.1 L300.5,190.3 L300.7,190.5 L300.9,190.7 L301.1,190.9 L301.4,191.1 L301.6,191.4 L301.9,191.6 L302.1,191.9 L302.4,192.2 L302.7,192.5 L303.0,192.8 L303.2,193.1 L303.5,193.4 L303.8,193.7 L304.0,194.0 L304.2,194.3 L304.5,194.7 L304.8,195.1 L305.0,195.5 L305.3,195.9 L305.6,196.4 L305.8,196.8 L306.1,197.2 L306.3,197.7 L306.6,198.1 L306.8,198.5 L307.0,198.9 L307.2,199.2 L307.4,199.5 L307.6,199.8 L307.7,200.0" fill="none" stroke="#000" stroke-width="0.90"/>
<path d="M302.0,188.5 L302.1,188.7 L302.3,188.8 L302.5,189.0 L302.7,189.2 L303.0,189.5 L303.2,189.7 L303.5,190.0 L303.8,190.3 L304.0,190.6 L304.3,190.9 L304.6,191.3 L304.9,191.6 L305.2,191.9 L305.5,192.3 L305.7,192.6 L306.0,193.0 L306.3,193.4 L306.5,193.8 L306.8,194.3 L307.1,194.7 L307.4,195.2 L307.7,195.7 L308.0,196.3 L308.2,196.8 L308.5,197.3 L308.8,197.8 L309.0,198.2 L309.3,198.7 L309.5,199.1 L309.7,199.4 L309.9,199.8 L310.0,200.0" fill="none" stroke="#000" stroke-width="0.90"/>
<path d="M310.6,167.8 L310.7,168.2 L310.9,168.7 L311.0,169.2 L311.2,169.8 L311.4,170.4 L311.7,171.1 L311.9,171.8 L312.1,172.5 L312.4,173.3 L312.6,174.2 L312.8,175.0 L313.0,175.9 L313.2,176.8 L313.4,177.8 L313.5,178.7 L313.6,179.7 L313.7,180.7 L313.7,181.9 L313.7,183.1 L313.7,184.5 L313.6,185.8 L313.6,187.2 L313.5,188.7 L313.4,190.1 L313.4,191.5 L313.3,192.9 L313.2,194.1 L313.1,195.4 L313.0,196.5 L313.0,197.5 L312.9,198.3 L312.9,199.0" fill="none" stroke="#000" stroke-width="0.90"/>
<path d="M313.0,167.0 L313.1,167.4 L313.3,168.0 L313.4,168.5 L313.6,169.2 L313.8,169.9 L314.1,170.7 L314.3,171.5 L314.5,172.3 L314.8,173.2 L315.0,174.1 L315.2,175.1 L315.4,176.0 L315.6,177.0 L315.8,178.0 L315.9,179.0 L316.0,180.0 L316.1,181.1 L316.1,182.2 L316.1,183.5 L316.1,184.8 L316.1,186.1 L316.0,187.5 L316.0,188.9 L315.9,190.3 L315.9,191.7 L315.8,193.0 L315.7,194.3 L315.7,195.4 L315.6,196.5 L315.6,197.5 L315.5,198.3 L315.5,199.0" fill="none" stroke="#000" stroke-width="0.90"/>
<path d="M295.8,155.5 L309.7,163.5 L306.2,169.5 L292.3,161.5 Z" fill="#fff" stroke="#000" stroke-width="1.00"/>
<path d="M295.8,155.5 L298.6,154.7 L312.4,162.7 L309.7,163.5" fill="none" stroke="#000" stroke-width="0.90"/>
<path d="M294.6,157.6 L305.0,163.6" fill="none" stroke="#000" stroke-width="0.90"/>
<path d="M293.9,159.8 L303.4,165.3" fill="none" stroke="#000" stroke-width="0.80"/>
<path d="M307.0,160.2 L311.0,163.1 L307.2,170.7 L302.2,168.4 Z" fill="#000" stroke="#000" stroke-width="0.6"/>
<circle cx="306.7" cy="164.6" r="0.6" fill="#fff"/>
<circle cx="305.5" cy="166.7" r="0.6" fill="#fff"/>
<path d="M286.8,178.0 L300.7,186.0 L297.2,192.0 L283.3,184.0 Z" fill="#fff" stroke="#000" stroke-width="1.00"/>
<path d="M286.8,178.0 L289.6,177.2 L303.4,185.2 L300.7,186.0" fill="none" stroke="#000" stroke-width="0.90"/>
<path d="M285.6,180.1 L296.0,186.1" fill="none" stroke="#000" stroke-width="0.90"/>
<path d="M284.9,182.3 L294.4,187.8" fill="none" stroke="#000" stroke-width="0.80"/>
<path d="M298.0,182.7 L302.0,185.6 L298.2,193.2 L293.2,190.9 Z" fill="#000" stroke="#000" stroke-width="0.6"/>
<circle cx="297.7" cy="187.1" r="0.6" fill="#fff"/>
<circle cx="296.5" cy="189.2" r="0.6" fill="#fff"/>
<path d="M379.8,194.7 L380.7,224.2" fill="none" stroke="#000" stroke-width="1.00"/>
<path d="M384.7,194.7 L384.7,224.2" fill="none" stroke="#000" stroke-width="1.00"/>
<path d="M380.0,195.0 L384.0,190.0" fill="none" stroke="#000" stroke-width="0.80"/>
<path d="M380.7,183.9 L386.6,183.9 L386.6,189.8 L380.7,189.8 Z" fill="#000" stroke="#000" stroke-width="0.6"/>
<path d="M373.9,187.8 L379.8,187.8 L379.8,191.7 L373.9,191.7 Z" fill="#fff" stroke="#000" stroke-width="1.00"/>
<path d="M379.8,187.0 L383.0,187.0 L383.0,194.7 L379.8,194.7 Z" fill="#000" stroke="#000" stroke-width="0.6"/>
<path d="M430.9,203.8 L431.3,204.1 L431.7,204.5 L432.1,204.8 L432.5,205.1 L432.9,205.5 L433.3,205.8 L433.6,206.1 L434.0,206.4 L434.4,206.7 L434.8,207.1 L435.1,207.4 L435.5,207.7 L435.9,208.0 L436.2,208.3 L436.6,208.7 L436.9,209.0 L437.3,209.3 L437.6,209.7 L437.9,210.0 L438.3,210.4 L438.6,210.7 L438.9,211.1 L439.2,211.4 L439.5,211.8 L439.7,212.1 L440.0,212.5 L440.2,212.8 L440.4,213.2 L440.6,213.6 L440.8,214.0 L440.9,214.4 L441.1,214.8 L441.2,215.2 L441.4,215.7 L441.5,216.1 L441.6,216.6 L441.7,217.0 L441.8,217.5 L441.9,218.0 L441.9,218.4 L442.0,218.9 L442.1,219.4 L442.2,219.9 L442.2,220.4 L442.3,220.9 L442.3,221.4 L442.4,221.9 L442.5,222.4 L442.5,222.9 L442.6,223.4 L442.7,223.9 L442.7,224.4 L442.8,224.9 L442.9,225.4 L443.0,225.9 L443.1,226.5 L443.2,227.0 L443.3,227.4 L443.5,227.9 L443.6,228.4 L443.7,228.9 L443.8,229.4 L443.9,229.9 L444.1,230.4 L444.2,230.9 L444.3,231.4 L444.4,231.8 L444.6,232.3 L444.7,232.8 L444.8,233.3 L444.9,233.8 L445.1,234.3 L445.2,234.8 L445.3,235.2 L445.5,235.7 L445.6,236.2 L445.7,236.7 L445.8,237.2 L446.0,237.7 L446.1,238.1 L446.2,238.4 L449.2,237.6 L449.2,237.3 L449.1,236.8 L448.9,236.4 L448.8,235.9 L448.7,235.4 L448.5,234.9 L448.4,234.4 L448.3,233.9 L448.2,233.5 L448.0,233.0 L447.9,232.5 L447.8,232.0 L447.7,231.5 L447.5,231.0 L447.4,230.6 L447.3,230.1 L447.2,229.6 L447.1,229.1 L446.9,228.6 L446.8,228.2 L446.7,227.7 L446.6,227.2 L446.5,226.7 L446.3,226.2 L446.2,225.8 L446.1,225.3 L446.1,224.8 L446.0,224.4 L445.9,223.9 L445.8,223.4 L445.8,222.9 L445.7,222.4 L445.6,222.0 L445.6,221.5 L445.5,221.0 L445.5,220.5 L445.4,220.0 L445.3,219.5 L445.3,219.0 L445.2,218.4 L445.1,217.9 L445.0,217.4 L444.9,216.9 L444.8,216.4 L444.7,215.9 L444.6,215.3 L444.5,214.8 L444.3,214.3 L444.1,213.8 L443.9,213.3 L443.7,212.7 L443.5,212.2 L443.2,211.7 L443.0,211.2 L442.7,210.7 L442.3,210.3 L442.0,209.8 L441.7,209.4 L441.3,209.0 L441.0,208.6 L440.6,208.2 L440.3,207.8 L439.9,207.4 L439.5,207.0 L439.1,206.7 L438.8,206.3 L438.4,206.0 L438.0,205.6 L437.6,205.3 L437.2,205.0 L436.8,204.6 L436.5,204.3 L436.1,204.0 L435.7,203.6 L435.3,203.3 L434.9,203.0 L434.5,202.7 L434.2,202.4 L433.8,202.1 L433.4,201.8 L433.1,201.4 Z" fill="#fff" stroke="none"/><path d="M430.9,203.8 L431.3,204.1 L431.7,204.5 L432.1,204.8 L432.5,205.1 L432.9,205.5 L433.3,205.8 L433.6,206.1 L434.0,206.4 L434.4,206.7 L434.8,207.1 L435.1,207.4 L435.5,207.7 L435.9,208.0 L436.2,208.3 L436.6,208.7 L436.9,209.0 L437.3,209.3 L437.6,209.7 L437.9,210.0 L438.3,210.4 L438.6,210.7 L438.9,211.1 L439.2,211.4 L439.5,211.8 L439.7,212.1 L440.0,212.5 L440.2,212.8 L440.4,213.2 L440.6,213.6 L440.8,214.0 L440.9,214.4 L441.1,214.8 L441.2,215.2 L441.4,215.7 L441.5,216.1 L441.6,216.6 L441.7,217.0 L441.8,217.5 L441.9,218.0 L441.9,218.4 L442.0,218.9 L442.1,219.4 L442.2,219.9 L442.2,220.4 L442.3,220.9 L442.3,221.4 L442.4,221.9 L442.5,222.4 L442.5,222.9 L442.6,223.4 L442.7,223.9 L442.7,224.4 L442.8,224.9 L442.9,225.4 L443.0,225.9 L443.1,226.5 L443.2,227.0 L443.3,227.4 L443.5,227.9 L443.6,228.4 L443.7,228.9 L443.8,229.4 L443.9,229.9 L444.1,230.4 L444.2,230.9 L444.3,231.4 L444.4,231.8 L444.6,232.3 L444.7,232.8 L444.8,233.3 L444.9,233.8 L445.1,234.3 L445.2,234.8 L445.3,235.2 L445.5,235.7 L445.6,236.2 L445.7,236.7 L445.8,237.2 L446.0,237.7 L446.1,238.1 L446.2,238.4" fill="none" stroke="#000" stroke-width="0.90"/><path d="M433.1,201.4 L433.4,201.8 L433.8,202.1 L434.2,202.4 L434.5,202.7 L434.9,203.0 L435.3,203.3 L435.7,203.6 L436.1,204.0 L436.5,204.3 L436.8,204.6 L437.2,205.0 L437.6,205.3 L438.0,205.6 L438.4,206.0 L438.8,206.3 L439.1,206.7 L439.5,207.0 L439.9,207.4 L440.3,207.8 L440.6,208.2 L441.0,208.6 L441.3,209.0 L441.7,209.4 L442.0,209.8 L442.3,210.3 L442.7,210.7 L443.0,211.2 L443.2,211.7 L443.5,212.2 L443.7,212.7 L443.9,213.3 L444.1,213.8 L444.3,214.3 L444.5,214.8 L444.6,215.3 L444.7,215.9 L444.8,216.4 L444.9,216.9 L445.0,217.4 L445.1,217.9 L445.2,218.4 L445.3,219.0 L445.3,219.5 L445.4,220.0 L445.5,220.5 L445.5,221.0 L445.6,221.5 L445.6,222.0 L445.7,222.4 L445.8,222.9 L445.8,223.4 L445.9,223.9 L446.0,224.4 L446.1,224.8 L446.1,225.3 L446.2,225.8 L446.3,226.2 L446.5,226.7 L446.6,227.2 L446.7,227.7 L446.8,228.2 L446.9,228.6 L447.1,229.1 L447.2,229.6 L447.3,230.1 L447.4,230.6 L447.5,231.0 L447.7,231.5 L447.8,232.0 L447.9,232.5 L448.0,233.0 L448.2,233.5 L448.3,233.9 L448.4,234.4 L448.5,234.9 L448.7,235.4 L448.8,235.9 L448.9,236.4 L449.1,236.8 L449.2,237.3 L449.2,237.6" fill="none" stroke="#000" stroke-width="0.90"/><path d="M432.1,204.8 L434.9,203.0 M434.8,207.1 L437.6,205.3 M437.3,209.3 L440.3,207.8 M439.5,211.8 L442.7,210.7 M440.9,214.4 L444.3,214.3 M441.8,217.5 L445.1,217.9 M442.3,220.9 L445.6,221.5 M442.7,224.4 L446.1,224.8 M443.5,227.9 L446.8,228.2 M444.3,231.4 L447.7,231.5 M445.2,234.8 L448.5,234.9" fill="none" stroke="#000" stroke-width="0.81"/>
<path d="M415.6,189.9 L432.8,197.9 L429.4,205.1 L412.2,197.1 Z" fill="#fff" stroke="#000" stroke-width="1.00"/>
<path d="M415.6,189.9 L418.2,188.9 L435.5,196.9 L432.8,197.9" fill="none" stroke="#000" stroke-width="0.90"/>
<path d="M414.4,192.4 L427.1,198.3" fill="none" stroke="#000" stroke-width="0.90"/>
<path d="M413.8,195.0 L425.5,200.5" fill="none" stroke="#000" stroke-width="0.80"/>
<path d="M428.9,194.4 L434.1,197.4 L430.6,206.2 L424.5,203.9 Z" fill="#000" stroke="#000" stroke-width="0.6"/>
<circle cx="429.4" cy="199.4" r="0.6" fill="#fff"/>
<circle cx="428.2" cy="201.9" r="0.6" fill="#fff"/>
<path d="M489.5,191.8 L489.9,192.2 L490.2,192.6 L490.6,193.0 L490.9,193.4 L491.2,193.8 L491.6,194.2 L491.9,194.6 L492.2,194.9 L492.5,195.3 L492.8,195.7 L493.1,196.1 L493.4,196.4 L493.7,196.8 L494.0,197.2 L494.3,197.6 L494.6,197.9 L494.8,198.3 L495.1,198.7 L495.3,199.1 L495.6,199.5 L495.8,199.9 L496.0,200.3 L496.2,200.7 L496.4,201.1 L496.6,201.5 L496.8,201.9 L496.9,202.3 L497.1,202.8 L497.2,203.2 L497.3,203.6 L497.4,204.1 L497.5,204.5 L497.6,205.0 L497.7,205.5 L497.8,205.9 L497.9,206.4 L498.0,206.9 L498.0,207.4 L498.1,207.8 L498.2,208.3 L498.2,208.8 L498.3,209.3 L498.3,209.8 L498.4,210.2 L498.4,210.7 L498.4,211.2 L498.5,211.7 L498.5,212.2 L498.5,212.7 L498.6,213.2 L498.6,213.7 L498.6,214.2 L498.6,214.7 L498.7,215.2 L498.7,215.7 L498.7,216.1 L498.7,216.6 L498.8,217.1 L498.8,217.6 L498.8,218.1 L498.8,218.6 L498.8,219.1 L498.8,219.6 L498.9,220.1 L498.9,220.6 L498.9,221.1 L498.9,221.6 L498.9,222.1 L498.9,222.6 L499.0,223.1 L499.0,223.6 L499.0,224.1 L499.0,224.6 L499.0,225.1 L499.1,225.6 L499.1,226.1 L499.1,226.6 L499.1,227.1 L499.1,227.6 L499.1,228.1 L499.1,228.6 L499.1,229.1 L499.1,229.6 L499.1,230.1 L499.1,230.6 L499.1,231.1 L499.1,231.6 L499.1,232.1 L499.1,232.6 L499.1,233.1 L499.1,233.6 L499.1,234.1 L499.1,234.6 L499.1,235.1 L499.1,235.6 L499.1,236.1 L499.1,236.6 L499.1,237.1 L499.1,237.6 L499.1,238.0 L499.1,238.5 L499.1,239.0 L499.1,239.5 L499.1,240.0 L499.1,240.5 L499.1,241.0 L499.1,241.5 L499.1,242.0 L499.0,242.5 L499.0,243.0 L499.0,243.5 L499.0,244.0 L499.0,244.5 L499.0,245.0 L499.0,245.5 L499.0,246.1 L499.0,246.6 L499.0,247.0 L502.6,247.0 L502.6,246.6 L502.6,246.1 L502.6,245.6 L502.6,245.1 L502.6,244.6 L502.6,244.1 L502.6,243.6 L502.6,243.1 L502.6,242.6 L502.7,242.1 L502.7,241.6 L502.7,241.1 L502.7,240.6 L502.7,240.1 L502.7,239.6 L502.7,239.1 L502.7,238.6 L502.7,238.1 L502.7,237.6 L502.7,237.1 L502.7,236.6 L502.7,236.1 L502.7,235.6 L502.7,235.1 L502.7,234.6 L502.7,234.1 L502.7,233.6 L502.7,233.1 L502.7,232.6 L502.7,232.1 L502.7,231.6 L502.7,231.1 L502.7,230.6 L502.7,230.1 L502.7,229.6 L502.7,229.0 L502.7,228.5 L502.7,228.0 L502.7,227.5 L502.7,227.0 L502.7,226.5 L502.7,226.0 L502.6,225.5 L502.6,225.0 L502.6,224.5 L502.6,224.0 L502.6,223.5 L502.6,223.0 L502.5,222.5 L502.5,222.0 L502.5,221.5 L502.5,221.0 L502.5,220.5 L502.5,220.0 L502.4,219.5 L502.4,219.0 L502.4,218.5 L502.4,218.0 L502.4,217.5 L502.3,217.0 L502.3,216.5 L502.3,216.0 L502.3,215.5 L502.3,215.0 L502.2,214.5 L502.2,214.0 L502.2,213.5 L502.2,213.0 L502.1,212.5 L502.1,212.0 L502.1,211.5 L502.0,210.9 L502.0,210.4 L501.9,209.9 L501.9,209.4 L501.8,208.9 L501.8,208.4 L501.7,207.9 L501.7,207.4 L501.6,206.9 L501.5,206.3 L501.4,205.8 L501.4,205.3 L501.3,204.8 L501.2,204.3 L501.1,203.8 L500.9,203.2 L500.8,202.7 L500.7,202.2 L500.5,201.7 L500.3,201.1 L500.1,200.6 L499.9,200.1 L499.7,199.6 L499.4,199.1 L499.2,198.6 L498.9,198.2 L498.7,197.7 L498.4,197.2 L498.1,196.8 L497.8,196.3 L497.5,195.9 L497.2,195.4 L496.9,195.0 L496.6,194.6 L496.3,194.2 L495.9,193.8 L495.6,193.4 L495.3,193.0 L494.9,192.6 L494.6,192.2 L494.3,191.8 L493.9,191.5 L493.6,191.1 L493.3,190.7 L493.0,190.4 L492.7,190.0 L492.5,189.6 Z" fill="#fff" stroke="none"/><path d="M489.5,191.8 L489.9,192.2 L490.2,192.6 L490.6,193.0 L490.9,193.4 L491.2,193.8 L491.6,194.2 L491.9,194.6 L492.2,194.9 L492.5,195.3 L492.8,195.7 L493.1,196.1 L493.4,196.4 L493.7,196.8 L494.0,197.2 L494.3,197.6 L494.6,197.9 L494.8,198.3 L495.1,198.7 L495.3,199.1 L495.6,199.5 L495.8,199.9 L496.0,200.3 L496.2,200.7 L496.4,201.1 L496.6,201.5 L496.8,201.9 L496.9,202.3 L497.1,202.8 L497.2,203.2 L497.3,203.6 L497.4,204.1 L497.5,204.5 L497.6,205.0 L497.7,205.5 L497.8,205.9 L497.9,206.4 L498.0,206.9 L498.0,207.4 L498.1,207.8 L498.2,208.3 L498.2,208.8 L498.3,209.3 L498.3,209.8 L498.4,210.2 L498.4,210.7 L498.4,211.2 L498.5,211.7 L498.5,212.2 L498.5,212.7 L498.6,213.2 L498.6,213.7 L498.6,214.2 L498.6,214.7 L498.7,215.2 L498.7,215.7 L498.7,216.1 L498.7,216.6 L498.8,217.1 L498.8,217.6 L498.8,218.1 L498.8,218.6 L498.8,219.1 L498.8,219.6 L498.9,220.1 L498.9,220.6 L498.9,221.1 L498.9,221.6 L498.9,222.1 L498.9,222.6 L499.0,223.1 L499.0,223.6 L499.0,224.1 L499.0,224.6 L499.0,225.1 L499.1,225.6 L499.1,226.1 L499.1,226.6 L499.1,227.1 L499.1,227.6 L499.1,228.1 L499.1,228.6 L499.1,229.1 L499.1,229.6 L499.1,230.1 L499.1,230.6 L499.1,231.1 L499.1,231.6 L499.1,232.1 L499.1,232.6 L499.1,233.1 L499.1,233.6 L499.1,234.1 L499.1,234.6 L499.1,235.1 L499.1,235.6 L499.1,236.1 L499.1,236.6 L499.1,237.1 L499.1,237.6 L499.1,238.0 L499.1,238.5 L499.1,239.0 L499.1,239.5 L499.1,240.0 L499.1,240.5 L499.1,241.0 L499.1,241.5 L499.1,242.0 L499.0,242.5 L499.0,243.0 L499.0,243.5 L499.0,244.0 L499.0,244.5 L499.0,245.0 L499.0,245.5 L499.0,246.1 L499.0,246.6 L499.0,247.0" fill="none" stroke="#000" stroke-width="0.90"/><path d="M492.5,189.6 L492.7,190.0 L493.0,190.4 L493.3,190.7 L493.6,191.1 L493.9,191.5 L494.3,191.8 L494.6,192.2 L494.9,192.6 L495.3,193.0 L495.6,193.4 L495.9,193.8 L496.3,194.2 L496.6,194.6 L496.9,195.0 L497.2,195.4 L497.5,195.9 L497.8,196.3 L498.1,196.8 L498.4,197.2 L498.7,197.7 L498.9,198.2 L499.2,198.6 L499.4,199.1 L499.7,199.6 L499.9,200.1 L500.1,200.6 L500.3,201.1 L500.5,201.7 L500.7,202.2 L500.8,202.7 L500.9,203.2 L501.1,203.8 L501.2,204.3 L501.3,204.8 L501.4,205.3 L501.4,205.8 L501.5,206.3 L501.6,206.9 L501.7,207.4 L501.7,207.9 L501.8,208.4 L501.8,208.9 L501.9,209.4 L501.9,209.9 L502.0,210.4 L502.0,210.9 L502.1,211.5 L502.1,212.0 L502.1,212.5 L502.2,213.0 L502.2,213.5 L502.2,214.0 L502.2,214.5 L502.3,215.0 L502.3,215.5 L502.3,216.0 L502.3,216.5 L502.3,217.0 L502.4,217.5 L502.4,218.0 L502.4,218.5 L502.4,219.0 L502.4,219.5 L502.5,220.0 L502.5,220.5 L502.5,221.0 L502.5,221.5 L502.5,222.0 L502.5,222.5 L502.6,223.0 L502.6,223.5 L502.6,224.0 L502.6,224.5 L502.6,225.0 L502.6,225.5 L502.7,226.0 L502.7,226.5 L502.7,227.0 L502.7,227.5 L502.7,228.0 L502.7,228.5 L502.7,229.0 L502.7,229.6 L502.7,230.1 L502.7,230.6 L502.7,231.1 L502.7,231.6 L502.7,232.1 L502.7,232.6 L502.7,233.1 L502.7,233.6 L502.7,234.1 L502.7,234.6 L502.7,235.1 L502.7,235.6 L502.7,236.1 L502.7,236.6 L502.7,237.1 L502.7,237.6 L502.7,238.1 L502.7,238.6 L502.7,239.1 L502.7,239.6 L502.7,240.1 L502.7,240.6 L502.7,241.1 L502.7,241.6 L502.7,242.1 L502.6,242.6 L502.6,243.1 L502.6,243.6 L502.6,244.1 L502.6,244.6 L502.6,245.1 L502.6,245.6 L502.6,246.1 L502.6,246.6 L502.6,247.0" fill="none" stroke="#000" stroke-width="0.90"/><path d="M490.6,193.0 L493.6,191.1 M492.5,195.3 L495.6,193.4 M494.3,197.6 L497.5,195.9 M495.8,199.9 L499.2,198.6 M496.9,202.3 L500.5,201.7 M497.6,205.0 L501.3,204.8 M498.1,207.8 L501.7,207.9 M498.4,210.7 L502.0,210.9 M498.6,213.7 L502.2,214.0 M498.7,216.6 L502.3,217.0 M498.8,219.6 L502.5,220.0 M498.9,222.6 L502.6,223.0 M499.1,225.6 L502.7,226.0 M499.1,228.6 L502.7,229.0 M499.1,231.6 L502.7,232.1 M499.1,234.6 L502.7,235.1 M499.1,237.6 L502.7,238.1 M499.1,240.5 L502.7,241.1 M499.0,243.5 L502.6,244.1 M499.0,246.6 L502.6,247.0" fill="none" stroke="#000" stroke-width="0.81"/>
<path d="M475.6,177.9 L492.8,185.9 L489.4,193.1 L472.2,185.1 Z" fill="#fff" stroke="#000" stroke-width="1.00"/>
<path d="M475.6,177.9 L478.2,176.9 L495.5,184.9 L492.8,185.9" fill="none" stroke="#000" stroke-width="0.90"/>
<path d="M474.4,180.4 L487.1,186.3" fill="none" stroke="#000" stroke-width="0.90"/>
<path d="M473.8,183.0 L485.5,188.5" fill="none" stroke="#000" stroke-width="0.80"/>
<path d="M488.9,182.4 L494.1,185.4 L490.6,194.2 L484.5,191.9 Z" fill="#000" stroke="#000" stroke-width="0.6"/>
<circle cx="489.4" cy="187.4" r="0.6" fill="#fff"/>
<circle cx="488.2" cy="189.9" r="0.6" fill="#fff"/>
<path d="M321.0,227.4 L320.9,227.0 L320.9,226.6 L320.8,226.1 L320.8,225.6 L320.7,225.1 L320.7,224.6 L320.7,224.1 L320.6,223.6 L320.6,223.1 L320.5,222.6 L320.5,222.1 L320.4,221.6 L320.4,221.0 L320.3,220.5 L320.2,220.0 L320.2,219.5 L320.1,218.9 L320.0,218.4 L320.0,217.9 L319.9,217.3 L319.8,216.8 L319.7,216.2 L319.6,215.7 L319.5,215.1 L319.3,214.6 L319.2,214.0 L319.0,213.4 L318.8,212.8 L318.6,212.2 L318.4,211.6 L318.2,211.1 L318.0,210.5 L317.7,210.0 L317.5,209.5 L317.3,208.9 L317.0,208.4 L316.7,208.0 L316.5,207.5 L316.2,207.0 L316.0,206.5 L315.7,206.1 L315.4,205.6 L315.2,205.1 L314.9,204.7 L314.6,204.2 L314.4,203.8 L314.1,203.3 L313.8,202.9 L313.6,202.5 L313.3,202.1 L313.0,201.6 L312.8,201.2 L312.5,200.8 L312.3,200.4 L312.1,200.0 L311.9,199.8 L304.1,204.2 L304.3,204.6 L304.6,205.0 L304.8,205.5 L305.1,206.0 L305.4,206.4 L305.7,206.8 L305.9,207.2 L306.2,207.6 L306.4,208.1 L306.7,208.5 L306.9,208.9 L307.2,209.3 L307.4,209.7 L307.7,210.1 L307.9,210.5 L308.1,210.9 L308.3,211.3 L308.6,211.7 L308.8,212.1 L309.0,212.5 L309.2,212.9 L309.4,213.3 L309.5,213.7 L309.7,214.1 L309.9,214.4 L310.0,214.8 L310.1,215.2 L310.3,215.5 L310.4,215.9 L310.5,216.2 L310.6,216.6 L310.7,217.1 L310.7,217.5 L310.8,217.9 L310.9,218.3 L311.0,218.8 L311.1,219.2 L311.1,219.7 L311.2,220.1 L311.2,220.6 L311.3,221.1 L311.4,221.5 L311.4,222.0 L311.5,222.5 L311.5,223.0 L311.6,223.4 L311.6,223.9 L311.6,224.4 L311.7,224.9 L311.7,225.4 L311.8,225.9 L311.8,226.4 L311.9,226.9 L311.9,227.5 L312.0,228.0 L312.0,228.6 Z" fill="#fff" stroke="none"/><path d="M321.0,227.4 L320.9,227.0 L320.9,226.6 L320.8,226.1 L320.8,225.6 L320.7,225.1 L320.7,224.6 L320.7,224.1 L320.6,223.6 L320.6,223.1 L320.5,222.6 L320.5,222.1 L320.4,221.6 L320.4,221.0 L320.3,220.5 L320.2,220.0 L320.2,219.5 L320.1,218.9 L320.0,218.4 L320.0,217.9 L319.9,217.3 L319.8,216.8 L319.7,216.2 L319.6,215.7 L319.5,215.1 L319.3,214.6 L319.2,214.0 L319.0,213.4 L318.8,212.8 L318.6,212.2 L318.4,211.6 L318.2,211.1 L318.0,210.5 L317.7,210.0 L317.5,209.5 L317.3,208.9 L317.0,208.4 L316.7,208.0 L316.5,207.5 L316.2,207.0 L316.0,206.5 L315.7,206.1 L315.4,205.6 L315.2,205.1 L314.9,204.7 L314.6,204.2 L314.4,203.8 L314.1,203.3 L313.8,202.9 L313.6,202.5 L313.3,202.1 L313.0,201.6 L312.8,201.2 L312.5,200.8 L312.3,200.4 L312.1,200.0 L311.9,199.8" fill="none" stroke="#000" stroke-width="1.00"/><path d="M312.0,228.6 L312.0,228.0 L311.9,227.5 L311.9,226.9 L311.8,226.4 L311.8,225.9 L311.7,225.4 L311.7,224.9 L311.6,224.4 L311.6,223.9 L311.6,223.4 L311.5,223.0 L311.5,222.5 L311.4,222.0 L311.4,221.5 L311.3,221.1 L311.2,220.6 L311.2,220.1 L311.1,219.7 L311.1,219.2 L311.0,218.8 L310.9,218.3 L310.8,217.9 L310.7,217.5 L310.7,217.1 L310.6,216.6 L310.5,216.2 L310.4,215.9 L310.3,215.5 L310.1,215.2 L310.0,214.8 L309.9,214.4 L309.7,214.1 L309.5,213.7 L309.4,213.3 L309.2,212.9 L309.0,212.5 L308.8,212.1 L308.6,211.7 L308.3,211.3 L308.1,210.9 L307.9,210.5 L307.7,210.1 L307.4,209.7 L307.2,209.3 L306.9,208.9 L306.7,208.5 L306.4,208.1 L306.2,207.6 L305.9,207.2 L305.7,206.8 L305.4,206.4 L305.1,206.0 L304.8,205.5 L304.6,205.0 L304.3,204.6 L304.1,204.2" fill="none" stroke="#000" stroke-width="1.00"/><path d="M320.8,225.6 L311.8,225.9 M320.4,221.6 L311.4,222.0 M319.9,217.3 L310.9,218.3 M318.8,212.8 L310.1,215.2 M317.0,208.4 L308.8,212.1 M314.9,204.7 L306.9,208.9 M312.8,201.2 L304.8,205.5" fill="none" stroke="#000" stroke-width="0.90"/>
<path d="M508.4,252.4 L508.7,252.0 L509.0,251.7 L509.4,251.4 L509.8,251.0 L510.1,250.7 L510.5,250.3 L510.8,250.0 L511.2,249.6 L511.6,249.3 L511.9,248.9 L512.3,248.6 L512.7,248.2 L513.0,247.9 L513.4,247.5 L513.7,247.2 L514.1,246.8 L514.5,246.5 L514.8,246.1 L515.2,245.7 L515.5,245.4 L515.9,245.0 L516.3,244.6 L516.6,244.3 L517.0,243.9 L517.3,243.5 L517.7,243.1 L518.1,242.7 L518.4,242.3 L518.7,242.0 L519.1,241.6 L519.4,241.2 L519.7,240.8 L520.1,240.5 L520.4,240.1 L520.7,239.7 L521.1,239.3 L521.4,239.0 L521.8,238.6 L522.1,238.2 L522.4,237.8 L522.8,237.4 L523.1,237.0 L523.4,236.6 L523.8,236.1 L524.1,235.7 L524.4,235.3 L524.8,234.9 L525.1,234.4 L525.4,234.0 L525.7,233.5 L526.0,233.1 L526.3,232.6 L526.6,232.1 L526.9,231.6 L527.2,231.1 L527.4,230.6 L527.7,230.1 L527.9,229.6 L528.2,229.1 L528.4,228.6 L528.6,228.1 L528.8,227.6 L529.0,227.1 L529.2,226.6 L529.4,226.1 L529.6,225.6 L529.7,225.1 L529.9,224.6 L530.1,224.1 L530.2,223.6 L530.4,223.1 L530.5,222.6 L530.7,222.1 L530.8,221.6 L531.0,221.1 L531.1,220.6 L531.2,220.1 L531.3,219.6 L531.5,219.1 L531.6,218.6 L531.7,218.1 L531.8,217.6 L532.0,217.1 L532.1,216.6 L532.2,216.1 L532.3,215.6 L532.4,215.1 L532.5,214.6 L532.6,214.0 L532.7,213.5 L532.8,213.0 L532.9,212.5 L533.0,211.9 L533.1,211.4 L533.2,210.8 L533.3,210.3 L533.3,209.7 L533.4,209.2 L533.4,208.6 L533.4,208.0 L533.4,207.5 L533.4,206.9 L533.4,206.3 L533.4,205.8 L533.4,205.2 L533.3,204.7 L533.3,204.1 L533.2,203.6 L533.2,203.0 L533.1,202.5 L533.0,201.9 L532.9,201.4 L532.9,200.9 L532.8,200.3 L532.7,199.8 L532.5,199.3 L532.4,198.7 L532.3,198.2 L532.2,197.7 L532.0,197.2 L531.9,196.6 L531.7,196.1 L531.6,195.6 L531.4,195.1 L531.3,194.6 L531.1,194.1 L530.9,193.6 L530.7,193.1 L530.5,192.6 L530.3,192.1 L530.1,191.6 L529.9,191.1 L529.7,190.6 L529.5,190.1 L529.3,189.6 L529.1,189.1 L528.9,188.7 L528.6,188.2 L528.4,187.7 L528.2,187.2 L528.0,186.8 L527.7,186.3 L527.5,185.8 L527.2,185.4 L527.0,184.9 L526.8,184.5 L526.5,184.0 L526.3,183.6 L526.0,183.1 L525.8,182.7 L525.5,182.2 L525.2,181.8 L525.0,181.3 L524.7,180.9 L524.5,180.4 L524.2,180.0 L523.9,179.5 L523.6,179.1 L523.4,178.6 L523.1,178.2 L522.8,177.8 L522.5,177.3 L522.2,176.9 L521.9,176.5 L521.6,176.0 L521.3,175.6 L521.0,175.2 L520.7,174.8 L520.4,174.4 L520.1,174.0 L519.8,173.6 L519.5,173.1 L519.3,172.7 L519.0,172.3 L518.7,171.9 L518.4,171.5 L518.1,171.1 L517.8,170.7 L517.5,170.3 L517.2,169.9 L516.9,169.5 L516.7,169.3 L511.3,173.1 L511.5,173.4 L511.8,173.8 L512.1,174.2 L512.4,174.7 L512.7,175.1 L513.0,175.5 L513.2,175.9 L513.5,176.3 L513.8,176.7 L514.1,177.1 L514.4,177.5 L514.7,177.9 L515.0,178.3 L515.3,178.7 L515.6,179.1 L515.8,179.5 L516.1,179.9 L516.4,180.3 L516.7,180.7 L516.9,181.1 L517.2,181.5 L517.5,181.9 L517.7,182.3 L518.0,182.7 L518.2,183.1 L518.5,183.5 L518.7,183.9 L519.0,184.3 L519.2,184.7 L519.4,185.1 L519.7,185.5 L519.9,186.0 L520.2,186.4 L520.4,186.8 L520.6,187.2 L520.9,187.7 L521.1,188.1 L521.3,188.5 L521.5,188.9 L521.8,189.4 L522.0,189.8 L522.2,190.2 L522.4,190.6 L522.6,191.1 L522.8,191.5 L523.0,191.9 L523.2,192.4 L523.4,192.8 L523.6,193.2 L523.8,193.7 L523.9,194.1 L524.1,194.5 L524.3,194.9 L524.4,195.4 L524.6,195.8 L524.7,196.3 L524.9,196.7 L525.0,197.1 L525.2,197.6 L525.3,198.0 L525.4,198.5 L525.6,198.9 L525.7,199.4 L525.8,199.8 L525.9,200.2 L526.0,200.7 L526.1,201.1 L526.2,201.6 L526.3,202.0 L526.3,202.5 L526.4,202.9 L526.5,203.4 L526.5,203.8 L526.6,204.3 L526.6,204.7 L526.7,205.2 L526.7,205.6 L526.7,206.1 L526.7,206.5 L526.7,206.9 L526.7,207.4 L526.7,207.8 L526.7,208.2 L526.7,208.7 L526.6,209.1 L526.6,209.5 L526.5,210.0 L526.5,210.4 L526.4,210.9 L526.3,211.3 L526.3,211.8 L526.2,212.2 L526.1,212.7 L526.0,213.2 L525.9,213.6 L525.8,214.1 L525.7,214.6 L525.6,215.0 L525.4,215.5 L525.3,216.0 L525.2,216.5 L525.1,217.0 L525.0,217.4 L524.9,217.9 L524.7,218.4 L524.6,218.8 L524.5,219.3 L524.4,219.8 L524.2,220.2 L524.1,220.7 L524.0,221.1 L523.8,221.6 L523.7,222.0 L523.5,222.5 L523.4,222.9 L523.2,223.4 L523.1,223.8 L522.9,224.2 L522.8,224.7 L522.6,225.1 L522.4,225.5 L522.2,225.9 L522.1,226.3 L521.9,226.7 L521.7,227.1 L521.5,227.5 L521.3,227.9 L521.1,228.3 L520.9,228.7 L520.6,229.0 L520.4,229.4 L520.1,229.8 L519.9,230.2 L519.6,230.5 L519.4,230.9 L519.1,231.3 L518.8,231.6 L518.5,232.0 L518.2,232.4 L517.9,232.7 L517.6,233.1 L517.3,233.4 L517.0,233.8 L516.7,234.2 L516.4,234.5 L516.1,234.9 L515.7,235.3 L515.4,235.6 L515.1,236.0 L514.7,236.4 L514.4,236.8 L514.1,237.1 L513.7,237.5 L513.4,237.9 L513.1,238.2 L512.8,238.6 L512.4,238.9 L512.1,239.3 L511.8,239.6 L511.5,240.0 L511.1,240.3 L510.8,240.7 L510.4,241.0 L510.1,241.4 L509.7,241.7 L509.4,242.1 L509.0,242.4 L508.7,242.7 L508.3,243.1 L508.0,243.4 L507.6,243.8 L507.3,244.1 L506.9,244.5 L506.6,244.8 L506.2,245.2 L505.8,245.5 L505.5,245.8 L505.1,246.2 L504.8,246.5 L504.4,246.9 L504.0,247.3 L503.6,247.6 Z" fill="#fff" stroke="none"/><path d="M508.4,252.4 L508.7,252.0 L509.0,251.7 L509.4,251.4 L509.8,251.0 L510.1,250.7 L510.5,250.3 L510.8,250.0 L511.2,249.6 L511.6,249.3 L511.9,248.9 L512.3,248.6 L512.7,248.2 L513.0,247.9 L513.4,247.5 L513.7,247.2 L514.1,246.8 L514.5,246.5 L514.8,246.1 L515.2,245.7 L515.5,245.4 L515.9,245.0 L516.3,244.6 L516.6,244.3 L517.0,243.9 L517.3,243.5 L517.7,243.1 L518.1,242.7 L518.4,242.3 L518.7,242.0 L519.1,241.6 L519.4,241.2 L519.7,240.8 L520.1,240.5 L520.4,240.1 L520.7,239.7 L521.1,239.3 L521.4,239.0 L521.8,238.6 L522.1,238.2 L522.4,237.8 L522.8,237.4 L523.1,237.0 L523.4,236.6 L523.8,236.1 L524.1,235.7 L524.4,235.3 L524.8,234.9 L525.1,234.4 L525.4,234.0 L525.7,233.5 L526.0,233.1 L526.3,232.6 L526.6,232.1 L526.9,231.6 L527.2,231.1 L527.4,230.6 L527.7,230.1 L527.9,229.6 L528.2,229.1 L528.4,228.6 L528.6,228.1 L528.8,227.6 L529.0,227.1 L529.2,226.6 L529.4,226.1 L529.6,225.6 L529.7,225.1 L529.9,224.6 L530.1,224.1 L530.2,223.6 L530.4,223.1 L530.5,222.6 L530.7,222.1 L530.8,221.6 L531.0,221.1 L531.1,220.6 L531.2,220.1 L531.3,219.6 L531.5,219.1 L531.6,218.6 L531.7,218.1 L531.8,217.6 L532.0,217.1 L532.1,216.6 L532.2,216.1 L532.3,215.6 L532.4,215.1 L532.5,214.6 L532.6,214.0 L532.7,213.5 L532.8,213.0 L532.9,212.5 L533.0,211.9 L533.1,211.4 L533.2,210.8 L533.3,210.3 L533.3,209.7 L533.4,209.2 L533.4,208.6 L533.4,208.0 L533.4,207.5 L533.4,206.9 L533.4,206.3 L533.4,205.8 L533.4,205.2 L533.3,204.7 L533.3,204.1 L533.2,203.6 L533.2,203.0 L533.1,202.5 L533.0,201.9 L532.9,201.4 L532.9,200.9 L532.8,200.3 L532.7,199.8 L532.5,199.3 L532.4,198.7 L532.3,198.2 L532.2,197.7 L532.0,197.2 L531.9,196.6 L531.7,196.1 L531.6,195.6 L531.4,195.1 L531.3,194.6 L531.1,194.1 L530.9,193.6 L530.7,193.1 L530.5,192.6 L530.3,192.1 L530.1,191.6 L529.9,191.1 L529.7,190.6 L529.5,190.1 L529.3,189.6 L529.1,189.1 L528.9,188.7 L528.6,188.2 L528.4,187.7 L528.2,187.2 L528.0,186.8 L527.7,186.3 L527.5,185.8 L527.2,185.4 L527.0,184.9 L526.8,184.5 L526.5,184.0 L526.3,183.6 L526.0,183.1 L525.8,182.7 L525.5,182.2 L525.2,181.8 L525.0,181.3 L524.7,180.9 L524.5,180.4 L524.2,180.0 L523.9,179.5 L523.6,179.1 L523.4,178.6 L523.1,178.2 L522.8,177.8 L522.5,177.3 L522.2,176.9 L521.9,176.5 L521.6,176.0 L521.3,175.6 L521.0,175.2 L520.7,174.8 L520.4,174.4 L520.1,174.0 L519.8,173.6 L519.5,173.1 L519.3,172.7 L519.0,172.3 L518.7,171.9 L518.4,171.5 L518.1,171.1 L517.8,170.7 L517.5,170.3 L517.2,169.9 L516.9,169.5 L516.7,169.3" fill="none" stroke="#000" stroke-width="1.00"/><path d="M503.6,247.6 L504.0,247.3 L504.4,246.9 L504.8,246.5 L505.1,246.2 L505.5,245.8 L505.8,245.5 L506.2,245.2 L506.6,244.8 L506.9,244.5 L507.3,244.1 L507.6,243.8 L508.0,243.4 L508.3,243.1 L508.7,242.7 L509.0,242.4 L509.4,242.1 L509.7,241.7 L510.1,241.4 L510.4,241.0 L510.8,240.7 L511.1,240.3 L511.5,240.0 L511.8,239.6 L512.1,239.3 L512.4,238.9 L512.8,238.6 L513.1,238.2 L513.4,237.9 L513.7,237.5 L514.1,237.1 L514.4,236.8 L514.7,236.4 L515.1,236.0 L515.4,235.6 L515.7,235.3 L516.1,234.9 L516.4,234.5 L516.7,234.2 L517.0,233.8 L517.3,233.4 L517.6,233.1 L517.9,232.7 L518.2,232.4 L518.5,232.0 L518.8,231.6 L519.1,231.3 L519.4,230.9 L519.6,230.5 L519.9,230.2 L520.1,229.8 L520.4,229.4 L520.6,229.0 L520.9,228.7 L521.1,228.3 L521.3,227.9 L521.5,227.5 L521.7,227.1 L521.9,226.7 L522.1,226.3 L522.2,225.9 L522.4,225.5 L522.6,225.1 L522.8,224.7 L522.9,224.2 L523.1,223.8 L523.2,223.4 L523.4,222.9 L523.5,222.5 L523.7,222.0 L523.8,221.6 L524.0,221.1 L524.1,220.7 L524.2,220.2 L524.4,219.8 L524.5,219.3 L524.6,218.8 L524.7,218.4 L524.9,217.9 L525.0,217.4 L525.1,217.0 L525.2,216.5 L525.3,216.0 L525.4,215.5 L525.6,215.0 L525.7,214.6 L525.8,214.1 L525.9,213.6 L526.0,213.2 L526.1,212.7 L526.2,212.2 L526.3,211.8 L526.3,211.3 L526.4,210.9 L526.5,210.4 L526.5,210.0 L526.6,209.5 L526.6,209.1 L526.7,208.7 L526.7,208.2 L526.7,207.8 L526.7,207.4 L526.7,206.9 L526.7,206.5 L526.7,206.1 L526.7,205.6 L526.7,205.2 L526.6,204.7 L526.6,204.3 L526.5,203.8 L526.5,203.4 L526.4,202.9 L526.3,202.5 L526.3,202.0 L526.2,201.6 L526.1,201.1 L526.0,200.7 L525.9,200.2 L525.8,199.8 L525.7,199.4 L525.6,198.9 L525.4,198.5 L525.3,198.0 L525.2,197.6 L525.0,197.1 L524.9,196.7 L524.7,196.3 L524.6,195.8 L524.4,195.4 L524.3,194.9 L524.1,194.5 L523.9,194.1 L523.8,193.7 L523.6,193.2 L523.4,192.8 L523.2,192.4 L523.0,191.9 L522.8,191.5 L522.6,191.1 L522.4,190.6 L522.2,190.2 L522.0,189.8 L521.8,189.4 L521.5,188.9 L521.3,188.5 L521.1,188.1 L520.9,187.7 L520.6,187.2 L520.4,186.8 L520.2,186.4 L519.9,186.0 L519.7,185.5 L519.4,185.1 L519.2,184.7 L519.0,184.3 L518.7,183.9 L518.5,183.5 L518.2,183.1 L518.0,182.7 L517.7,182.3 L517.5,181.9 L517.2,181.5 L516.9,181.1 L516.7,180.7 L516.4,180.3 L516.1,179.9 L515.8,179.5 L515.6,179.1 L515.3,178.7 L515.0,178.3 L514.7,177.9 L514.4,177.5 L514.1,177.1 L513.8,176.7 L513.5,176.3 L513.2,175.9 L513.0,175.5 L512.7,175.1 L512.4,174.7 L512.1,174.2 L511.8,173.8 L511.5,173.4 L511.3,173.1" fill="none" stroke="#000" stroke-width="1.00"/><path d="M509.4,251.4 L505.1,246.2 M511.6,249.3 L507.3,244.1 M513.7,247.2 L509.4,242.1 M515.9,245.0 L511.5,240.0 M518.1,242.7 L513.4,237.9 M520.1,240.5 L515.4,235.6 M522.1,238.2 L517.3,233.4 M524.1,235.7 L519.1,231.3 M526.0,233.1 L520.6,229.0 M527.7,230.1 L521.9,226.7 M529.0,227.1 L522.9,224.2 M530.1,224.1 L523.8,221.6 M531.0,221.1 L524.6,218.8 M531.7,218.1 L525.3,216.0 M532.4,215.1 L526.0,213.2 M533.0,211.9 L526.5,210.4 M533.4,208.6 L526.7,207.8 M533.4,205.2 L526.7,205.2 M533.0,201.9 L526.3,202.5 M532.4,198.7 L525.8,199.8 M531.6,195.6 L525.0,197.1 M530.5,192.6 L524.1,194.5 M529.3,189.6 L523.0,191.9 M528.0,186.8 L521.8,189.4 M526.5,184.0 L520.4,186.8 M525.0,181.3 L519.0,184.3 M523.4,178.6 L517.5,181.9 M521.6,176.0 L515.8,179.5 M519.8,173.6 L514.1,177.1 M518.1,171.1 L512.4,174.7" fill="none" stroke="#000" stroke-width="0.90"/>
<path d="M505.0,158.0 L511.0,160.0 L516.0,170.0 L512.0,172.0 Z" fill="#000" stroke="#000" stroke-width="0.6"/>
<path d="M497.3,150.0 L500.3,147.0 L510.3,150.0 L510.3,159.0 L507.3,162.0 L497.3,159.0 Z" fill="#fff" stroke="#000" stroke-width="1.00"/>
<path d="M497.3,150.0 L497.7,150.1 L498.1,150.2 L498.7,150.3 L499.3,150.4 L500.0,150.5 L500.8,150.6 L501.5,150.8 L502.3,150.9 L503.1,151.1 L503.8,151.3 L504.6,151.5 L505.3,151.8 L505.9,152.0 L506.5,152.3 L506.9,152.6 L507.3,153.0 L507.6,153.4 L507.8,153.9 L507.9,154.4 L508.0,155.0 L508.0,155.7 L508.0,156.3 L508.0,157.0 L507.9,157.7 L507.8,158.4 L507.7,159.0 L507.6,159.7 L507.5,160.2 L507.4,160.8 L507.4,161.3 L507.3,161.7 L507.3,162.0" fill="none" stroke="#000" stroke-width="0.90"/>
<path d="M507.3,153.0 L510.3,150.0" fill="none" stroke="#000" stroke-width="0.90"/>
<path d="M507.3,153.0 L511.8,150.0 L511.8,160.0 L507.3,162.3 Z" fill="#000" stroke="#000" stroke-width="0.6"/>
<path d="M202.5,179.9 L203.0,180.0 L203.6,180.2 L204.1,180.4 L204.5,180.5 L205.0,180.7 L205.5,180.8 L206.0,181.0 L206.5,181.1 L207.0,181.2 L207.4,181.4 L207.9,181.5 L208.4,181.7 L208.9,181.8 L209.3,182.0 L209.8,182.1 L210.3,182.3 L210.8,182.4 L211.2,182.6 L211.7,182.7 L212.2,182.8 L212.6,183.0 L213.1,183.1 L213.6,183.3 L214.0,183.4 L214.5,183.6 L215.0,183.8 L215.4,183.9 L215.9,184.1 L216.3,184.2 L216.8,184.4 L217.2,184.5 L217.7,184.7 L218.1,184.9 L218.6,185.0 L219.0,185.2 L219.5,185.4 L219.9,185.5 L220.4,185.7 L220.8,185.9 L221.2,186.0 L221.6,186.2 L222.0,186.4 L222.4,186.6 L222.8,186.8 L223.2,187.0 L223.6,187.1 L224.0,187.4 L224.4,187.6 L224.8,187.8 L225.2,188.0 L225.6,188.2 L225.9,188.4 L226.3,188.7 L226.7,188.9 L227.1,189.2 L227.5,189.4 L227.8,189.7 L228.2,189.9 L228.6,190.2 L228.9,190.4 L229.3,190.7 L229.7,191.0 L230.1,191.3 L230.4,191.6 L230.8,191.9 L231.2,192.1 L231.6,192.4 L231.9,192.8 L232.3,193.1 L232.7,193.4 L233.1,193.7 L233.5,194.0 L233.9,194.3 L234.3,194.6 L234.7,194.9 L235.1,195.3 L235.5,195.6 L235.9,195.9 L236.3,196.2 L236.7,196.5 L237.0,196.8 L237.4,197.1 L237.8,197.4 L238.1,197.7 L238.5,198.0 L238.9,198.3 L239.2,198.6 L239.6,198.9 L240.0,199.3 L240.3,199.6 L240.7,199.9 L241.1,200.2 L241.4,200.6 L241.8,200.9 L242.2,201.2 L242.5,201.5 L242.9,201.9 L243.3,202.2 L243.7,202.5 L244.0,202.9 L244.4,203.2 L244.8,203.5 L245.2,203.9 L245.5,204.2 L245.9,204.5 L246.3,204.9 L246.7,205.2 L247.1,205.6 L247.5,205.9 L247.9,206.2 L248.3,206.6 L248.7,206.9 L249.1,207.2 L249.5,207.6 L249.9,207.9 L250.3,208.2 L250.7,208.5 L251.1,208.8 L251.4,209.2 L251.8,209.5 L252.2,209.8 L252.6,210.1 L253.0,210.4 L253.4,210.7 L253.8,211.0 L254.2,211.4 L254.6,211.7 L255.0,212.0 L255.4,212.3 L255.8,212.6 L256.2,212.9 L256.6,213.3 L257.0,213.6 L257.4,213.9 L257.8,214.2 L258.2,214.5 L258.6,214.8 L259.0,215.1 L259.4,215.4 L259.8,215.8 L260.3,216.1 L260.7,216.4 L261.1,216.7 L261.5,217.0 L262.0,217.3 L262.4,217.6 L262.8,217.9 L263.3,218.2 L263.7,218.5 L264.1,218.8 L264.6,219.1 L265.0,219.4 L265.5,219.6 L265.9,219.9 L266.3,220.2 L266.8,220.5 L267.2,220.7 L267.7,221.0 L268.1,221.3 L268.5,221.5 L269.0,221.8 L269.4,222.1 L269.9,222.3 L270.3,222.6 L270.8,222.8 L271.2,223.1 L271.7,223.4 L272.1,223.6 L272.6,223.9 L273.1,224.1 L273.5,224.4 L274.0,224.6 L274.4,224.9 L274.9,225.1 L275.4,225.3 L275.8,225.6 L276.3,225.8 L276.8,226.0 L277.3,226.3 L277.7,226.5 L278.2,226.7 L278.7,226.9 L279.2,227.2 L279.7,227.4 L280.2,227.6 L280.6,227.8 L281.1,228.0 L281.6,228.2 L282.1,228.4 L282.6,228.6 L283.1,228.8 L283.6,229.0 L284.1,229.2 L284.6,229.3 L285.0,229.5 L285.5,229.7 L286.0,229.9 L286.5,230.1 L287.0,230.2 L287.5,230.4 L288.1,230.6 L288.6,230.7 L289.1,230.9 L289.6,231.0 L290.2,231.2 L290.7,231.3 L291.2,231.5 L291.7,231.6 L292.3,231.7 L292.8,231.9 L293.3,232.0 L293.9,232.1 L294.4,232.2 L294.9,232.3 L295.4,232.4 L296.0,232.5 L296.5,232.6 L297.0,232.7 L297.5,232.7 L298.0,232.8 L298.6,232.9 L299.1,233.0 L299.6,233.0 L300.1,233.1 L300.6,233.2 L301.1,233.2 L301.6,233.3 L302.1,233.4 L302.6,233.4 L303.2,233.5 L303.7,233.6 L304.2,233.6 L304.7,233.7 L305.2,233.7 L305.7,233.8 L306.2,233.8 L306.7,233.9 L307.2,233.9 L307.7,234.0 L308.2,234.0 L308.7,234.1 L309.2,234.1 L309.7,234.2 L310.3,234.2 L310.8,234.3 L311.3,234.3 L311.8,234.3 L312.3,234.4 L312.8,234.4 L313.3,234.5 L313.8,234.5 L314.3,234.5 L314.8,234.6 L315.3,234.6 L315.8,234.6 L316.3,234.7 L316.8,234.7 L317.3,234.7 L317.8,234.8 L318.4,234.8 L318.9,234.8 L319.4,234.9 L319.9,234.9 L320.4,234.9 L320.9,234.9 L321.4,235.0 L321.9,235.0 L322.4,235.0 L322.9,235.0 L323.4,235.1 L323.9,235.1 L324.4,235.1 L324.9,235.1 L325.4,235.2 L325.9,235.2 L326.4,235.2 L327.0,235.2 L327.5,235.2 L328.0,235.2 L328.5,235.3 L329.0,235.3 L329.5,235.3 L330.0,235.3 L330.5,235.3 L331.0,235.3 L331.5,235.3 L332.0,235.4 L332.5,235.4 L333.0,235.4 L333.5,235.4 L334.0,235.4 L334.6,235.4 L335.1,235.4 L335.6,235.4 L336.1,235.4 L336.6,235.4 L337.2,235.4 L337.7,235.4 L338.2,235.4 L338.7,235.4 L339.2,235.4 L339.7,235.4 L340.2,235.4 L340.7,235.3 L341.2,235.3 L341.8,235.3 L342.3,235.3 L342.8,235.3 L343.3,235.3 L343.8,235.2 L344.3,235.2 L344.8,235.2 L345.3,235.2 L345.8,235.1 L346.3,235.1 L346.8,235.1 L347.3,235.1 L347.8,235.0 L348.3,235.0 L348.8,235.0 L349.4,235.0 L349.9,234.9 L350.4,234.9 L350.9,234.9 L351.4,234.9 L351.9,234.8 L352.4,234.8 L352.9,234.8 L353.4,234.7 L353.9,234.7 L354.4,234.7 L354.9,234.7 L355.4,234.6 L355.8,234.6 L356.3,234.6 L356.8,234.6 L357.3,234.5 L357.8,234.5 L358.3,234.5 L358.8,234.4 L359.3,234.4 L359.8,234.4 L360.3,234.4 L360.8,234.3 L361.3,234.3 L361.8,234.3 L362.3,234.3 L362.8,234.3 L363.3,234.2 L363.8,234.2 L364.3,234.2 L364.8,234.2 L365.2,234.2 L365.7,234.1 L366.2,234.1 L366.7,234.1 L367.2,234.1 L367.7,234.1 L368.2,234.1 L368.7,234.1 L369.1,234.1 L369.6,234.1 L370.1,234.1 L370.6,234.1 L371.1,234.1 L371.6,234.1 L372.0,234.1 L372.5,234.1 L373.0,234.1 L373.5,234.1 L374.0,234.1 L374.5,234.1 L374.9,234.1 L375.4,234.1 L375.9,234.2 L376.4,234.2 L376.8,234.2 L377.3,234.2 L377.8,234.3 L378.3,234.3 L378.7,234.3 L379.2,234.4 L379.7,234.4 L380.2,234.4 L380.7,234.5 L381.2,234.5 L381.6,234.6 L382.1,234.6 L382.6,234.6 L383.1,234.7 L383.6,234.8 L384.0,234.8 L384.5,234.9 L385.0,234.9 L385.5,235.0 L386.0,235.0 L386.4,235.1 L386.9,235.2 L387.4,235.2 L387.9,235.3 L388.3,235.4 L388.8,235.4 L389.3,235.5 L389.8,235.6 L390.3,235.7 L390.7,235.7 L391.2,235.8 L391.7,235.9 L392.2,236.0 L392.7,236.1 L393.1,236.1 L393.6,236.2 L394.1,236.3 L394.6,236.4 L395.1,236.5 L395.6,236.6 L396.0,236.7 L396.5,236.8 L397.0,236.9 L397.5,237.0 L398.0,237.1 L398.5,237.1 L398.9,237.2 L399.4,237.3 L399.9,237.4 L400.4,237.5 L400.9,237.6 L401.4,237.7 L401.9,237.8 L402.4,237.9 L402.8,238.0 L403.3,238.1 L403.8,238.2 L404.3,238.3 L404.8,238.4 L405.3,238.5 L405.8,238.6 L406.3,238.7 L406.8,238.8 L407.3,238.9 L407.7,239.0 L408.2,239.1 L408.7,239.2 L409.2,239.3 L409.7,239.4 L410.2,239.5 L410.7,239.6 L411.2,239.7 L411.7,239.8 L412.1,239.9 L412.6,240.0 L413.1,240.1 L413.6,240.2 L414.1,240.3 L414.5,240.4 L415.0,240.5 L415.5,240.6 L416.0,240.8 L416.5,240.9 L417.0,241.0 L417.4,241.1 L417.9,241.2 L418.4,241.3 L418.9,241.4 L419.4,241.5 L419.8,241.6 L420.3,241.7 L420.8,241.9 L421.3,242.0 L421.8,242.1 L422.3,242.2 L422.8,242.3 L423.2,242.4 L423.7,242.5 L424.2,242.7 L424.7,242.8 L425.2,242.9 L425.7,243.0 L426.1,243.1 L426.6,243.2 L427.1,243.3 L427.6,243.5 L428.1,243.6 L428.6,243.7 L429.0,243.8 L429.5,243.9 L430.0,244.1 L430.5,244.2 L431.0,244.3 L431.5,244.4 L432.0,244.5 L432.4,244.6 L432.9,244.8 L433.4,244.9 L433.9,245.0 L434.4,245.1 L434.9,245.2 L435.4,245.4 L435.8,245.5 L436.3,245.6 L436.8,245.7 L437.3,245.8 L437.8,245.9 L438.3,246.1 L438.8,246.2 L439.3,246.3 L439.7,246.4 L440.2,246.5 L440.7,246.6 L441.2,246.8 L441.7,246.9 L442.2,247.0 L442.7,247.1 L443.2,247.2 L443.7,247.3 L444.2,247.4 L444.6,247.6 L445.1,247.7 L445.6,247.8 L446.1,247.9 L446.6,248.0 L447.1,248.1 L447.6,248.2 L448.1,248.3 L448.6,248.5 L449.1,248.6 L449.6,248.7 L450.1,248.8 L450.6,248.9 L451.0,249.0 L451.5,249.1 L452.0,249.2 L452.5,249.3 L453.0,249.4 L453.5,249.5 L453.9,249.6 L454.4,249.7 L454.9,249.9 L455.4,250.0 L455.9,250.1 L456.4,250.2 L456.8,250.3 L457.3,250.4 L457.8,250.5 L458.3,250.6 L458.8,250.8 L459.3,250.9 L459.7,251.0 L460.2,251.1 L460.7,251.2 L461.2,251.3 L461.7,251.4 L462.2,251.6 L462.7,251.7 L463.1,251.8 L463.6,251.9 L464.1,252.0 L464.6,252.1 L465.1,252.3 L465.6,252.4 L466.1,252.5 L466.6,252.6 L467.1,252.7 L467.6,252.8 L468.0,252.9 L468.5,253.0 L469.0,253.2 L469.5,253.3 L470.0,253.4 L470.5,253.5 L471.0,253.6 L471.5,253.7 L472.0,253.8 L472.5,253.9 L473.0,254.0 L473.5,254.1 L474.0,254.2 L474.5,254.3 L475.0,254.4 L475.5,254.6 L476.0,254.7 L476.5,254.8 L477.0,254.9 L477.5,255.0 L478.0,255.0 L478.5,255.1 L479.0,255.2 L479.5,255.3 L480.0,255.4 L480.5,255.5 L481.0,255.6 L481.5,255.7 L482.0,255.8 L482.5,255.9 L483.1,255.9 L483.5,256.0 L484.1,256.1 L484.6,256.2 L485.1,256.2 L485.6,256.3 L486.1,256.4 L486.6,256.5 L487.1,256.5 L487.6,256.6 L488.2,256.7 L488.7,256.7 L489.2,256.8 L489.7,256.9 L490.2,256.9 L490.7,257.0 L491.2,257.0 L491.7,257.1 L492.3,257.1 L492.7,257.2 L493.3,257.2 L493.8,257.3 L494.3,257.3 L494.8,257.4 L495.3,257.4 L495.8,257.5 L496.4,257.5 L496.9,257.5 L497.4,257.6 L497.9,257.6 L498.4,257.6 L498.9,257.7 L499.4,257.7 L499.9,257.7 L500.4,257.8 L500.9,257.8 L501.4,257.8 L501.9,257.8 L502.5,257.9 L503.0,257.9 L503.5,257.9 L504.0,257.9 L504.5,258.0 L505.0,258.0 L505.5,258.0 L506.0,258.0 L506.5,258.0 L507.0,258.1 L507.5,258.1 L508.0,258.1 L508.5,258.1 L509.0,258.1 L509.5,258.1 L510.0,258.2 L510.5,258.2 L511.0,258.2 L511.5,258.2 L512.1,258.2 L512.6,258.2 L513.1,258.2 L513.6,258.2 L514.1,258.3 L514.6,258.3 L515.1,258.3 L515.6,258.3 L516.1,258.3 L516.6,258.3 L517.1,258.3 L517.6,258.3 L518.1,258.3 L518.6,258.3 L519.1,258.4 L519.6,258.4 L520.1,258.4 L520.6,258.4 L521.1,258.4 L521.6,258.4 L522.1,258.4 L522.6,258.4 L523.1,258.4 L523.6,258.4 L524.1,258.4 L524.6,258.4 L525.1,258.4 L525.6,258.4 L526.1,258.4 L526.6,258.4 L527.1,258.4 L527.6,258.4 L528.1,258.5 L528.6,258.5 L529.1,258.5 L529.6,258.5 L530.1,258.5 L530.6,258.5 L531.1,258.5 L531.6,258.5 L532.1,258.5 L532.6,258.5 L533.1,258.5 L533.6,258.5 L534.1,258.5 L534.6,258.5 L535.1,258.5 L535.6,258.5 L536.1,258.5 L536.6,258.5 L537.1,258.5 L537.6,258.5 L538.1,258.5 L538.6,258.5 L539.1,258.6 L539.6,258.6 L540.1,258.6 L540.6,258.6 L540.9,258.6 L541.1,249.4 L540.8,249.4 L540.3,249.4 L539.8,249.4 L539.3,249.4 L538.7,249.3 L538.2,249.3 L537.7,249.3 L537.2,249.3 L536.7,249.3 L536.2,249.3 L535.7,249.3 L535.2,249.3 L534.7,249.3 L534.2,249.3 L533.7,249.3 L533.2,249.3 L532.7,249.3 L532.2,249.3 L531.7,249.3 L531.2,249.3 L530.7,249.3 L530.2,249.3 L529.7,249.3 L529.2,249.3 L528.7,249.3 L528.2,249.3 L527.7,249.2 L527.2,249.2 L526.7,249.2 L526.2,249.2 L525.7,249.2 L525.2,249.2 L524.7,249.2 L524.2,249.2 L523.7,249.2 L523.2,249.2 L522.7,249.2 L522.2,249.2 L521.7,249.2 L521.2,249.2 L520.7,249.2 L520.2,249.2 L519.7,249.2 L519.2,249.2 L518.7,249.1 L518.2,249.1 L517.7,249.1 L517.2,249.1 L516.8,249.1 L516.3,249.1 L515.8,249.1 L515.3,249.1 L514.8,249.1 L514.3,249.1 L513.8,249.0 L513.3,249.0 L512.8,249.0 L512.3,249.0 L511.8,249.0 L511.3,249.0 L510.8,249.0 L510.3,249.0 L509.8,248.9 L509.3,248.9 L508.8,248.9 L508.3,248.9 L507.8,248.9 L507.3,248.9 L506.9,248.8 L506.4,248.8 L505.9,248.8 L505.4,248.8 L504.9,248.8 L504.4,248.7 L503.9,248.7 L503.4,248.7 L502.9,248.7 L502.4,248.7 L501.9,248.6 L501.4,248.6 L500.9,248.6 L500.4,248.5 L500.0,248.5 L499.5,248.5 L499.0,248.5 L498.5,248.4 L498.0,248.4 L497.5,248.4 L497.0,248.3 L496.5,248.3 L496.1,248.3 L495.6,248.2 L495.1,248.2 L494.6,248.1 L494.1,248.1 L493.7,248.0 L493.2,248.0 L492.7,247.9 L492.2,247.9 L491.7,247.8 L491.2,247.8 L490.8,247.7 L490.3,247.7 L489.8,247.6 L489.3,247.5 L488.8,247.5 L488.4,247.4 L487.9,247.4 L487.4,247.3 L486.9,247.2 L486.4,247.1 L485.9,247.1 L485.5,247.0 L485.0,246.9 L484.5,246.9 L484.0,246.8 L483.6,246.7 L483.1,246.6 L482.6,246.5 L482.1,246.4 L481.6,246.4 L481.2,246.3 L480.7,246.2 L480.2,246.1 L479.7,246.0 L479.2,245.9 L478.8,245.8 L478.3,245.7 L477.8,245.6 L477.3,245.5 L476.8,245.4 L476.4,245.3 L475.9,245.2 L475.4,245.1 L474.9,245.0 L474.4,244.9 L474.0,244.8 L473.5,244.7 L473.0,244.6 L472.5,244.5 L472.0,244.4 L471.5,244.3 L471.1,244.2 L470.6,244.1 L470.1,244.0 L469.6,243.9 L469.1,243.7 L468.7,243.6 L468.2,243.5 L467.7,243.4 L467.2,243.3 L466.7,243.2 L466.2,243.1 L465.8,243.0 L465.3,242.8 L464.8,242.7 L464.3,242.6 L463.8,242.5 L463.3,242.4 L462.8,242.3 L462.3,242.1 L461.9,242.0 L461.4,241.9 L460.9,241.8 L460.4,241.7 L459.9,241.6 L459.4,241.5 L458.9,241.3 L458.4,241.2 L457.9,241.1 L457.4,241.0 L457.0,240.9 L456.5,240.8 L456.0,240.7 L455.5,240.6 L455.0,240.4 L454.5,240.3 L454.0,240.2 L453.5,240.1 L453.0,240.0 L452.5,239.9 L452.0,239.8 L451.5,239.7 L451.1,239.6 L450.6,239.5 L450.1,239.4 L449.6,239.3 L449.1,239.2 L448.7,239.0 L448.2,238.9 L447.7,238.8 L447.2,238.7 L446.7,238.6 L446.2,238.5 L445.8,238.4 L445.3,238.3 L444.8,238.1 L444.3,238.0 L443.8,237.9 L443.3,237.8 L442.9,237.7 L442.4,237.6 L441.9,237.5 L441.4,237.3 L440.9,237.2 L440.4,237.1 L440.0,237.0 L439.5,236.9 L439.0,236.8 L438.5,236.6 L438.0,236.5 L437.5,236.4 L437.0,236.3 L436.6,236.2 L436.1,236.1 L435.6,235.9 L435.1,235.8 L434.6,235.7 L434.1,235.6 L433.6,235.5 L433.2,235.3 L432.7,235.2 L432.2,235.1 L431.7,235.0 L431.2,234.9 L430.7,234.8 L430.2,234.6 L429.7,234.5 L429.3,234.4 L428.8,234.3 L428.3,234.2 L427.8,234.1 L427.3,233.9 L426.8,233.8 L426.3,233.7 L425.8,233.6 L425.4,233.5 L424.9,233.4 L424.4,233.2 L423.9,233.1 L423.4,233.0 L422.9,232.9 L422.4,232.8 L421.9,232.7 L421.4,232.6 L420.9,232.4 L420.4,232.3 L420.0,232.2 L419.5,232.1 L419.0,232.0 L418.5,231.9 L418.0,231.8 L417.5,231.7 L417.0,231.6 L416.5,231.4 L416.0,231.3 L415.5,231.2 L415.0,231.1 L414.5,231.0 L414.0,230.9 L413.5,230.8 L413.0,230.7 L412.5,230.6 L412.0,230.5 L411.5,230.4 L411.0,230.3 L410.5,230.2 L410.1,230.1 L409.6,230.0 L409.1,229.9 L408.6,229.8 L408.1,229.7 L407.6,229.6 L407.1,229.5 L406.6,229.4 L406.2,229.3 L405.7,229.2 L405.2,229.1 L404.7,229.0 L404.2,228.9 L403.7,228.8 L403.2,228.7 L402.7,228.6 L402.2,228.5 L401.7,228.4 L401.2,228.3 L400.7,228.2 L400.2,228.1 L399.8,228.0 L399.3,227.9 L398.8,227.8 L398.3,227.7 L397.8,227.6 L397.3,227.5 L396.8,227.4 L396.3,227.4 L395.8,227.3 L395.3,227.2 L394.8,227.1 L394.2,227.0 L393.7,226.9 L393.2,226.8 L392.7,226.7 L392.2,226.7 L391.7,226.6 L391.2,226.5 L390.7,226.4 L390.2,226.3 L389.7,226.3 L389.2,226.2 L388.7,226.1 L388.1,226.0 L387.6,226.0 L387.1,225.9 L386.6,225.8 L386.1,225.8 L385.6,225.7 L385.1,225.7 L384.5,225.6 L384.0,225.6 L383.5,225.5 L383.0,225.4 L382.5,225.4 L382.0,225.3 L381.5,225.3 L381.0,225.3 L380.4,225.2 L379.9,225.2 L379.4,225.1 L378.9,225.1 L378.4,225.1 L377.9,225.0 L377.3,225.0 L376.8,225.0 L376.3,225.0 L375.8,224.9 L375.2,224.9 L374.7,224.9 L374.2,224.9 L373.7,224.9 L373.1,224.9 L372.6,224.9 L372.1,224.9 L371.6,224.9 L371.1,224.9 L370.6,224.9 L370.0,224.9 L369.5,224.9 L369.0,224.9 L368.5,224.9 L368.0,224.9 L367.5,224.9 L367.0,224.9 L366.5,224.9 L365.9,224.9 L365.4,225.0 L364.9,225.0 L364.4,225.0 L363.9,225.0 L363.4,225.0 L362.9,225.0 L362.4,225.1 L361.9,225.1 L361.4,225.1 L360.9,225.1 L360.4,225.2 L359.9,225.2 L359.4,225.2 L358.9,225.2 L358.4,225.3 L357.9,225.3 L357.3,225.3 L356.8,225.3 L356.3,225.4 L355.8,225.4 L355.3,225.4 L354.8,225.4 L354.3,225.5 L353.8,225.5 L353.3,225.5 L352.8,225.6 L352.3,225.6 L351.8,225.6 L351.3,225.6 L350.8,225.7 L350.3,225.7 L349.9,225.7 L349.4,225.8 L348.9,225.8 L348.4,225.8 L347.9,225.8 L347.4,225.9 L346.9,225.9 L346.4,225.9 L345.9,225.9 L345.4,226.0 L344.9,226.0 L344.4,226.0 L343.9,226.0 L343.4,226.0 L342.9,226.1 L342.4,226.1 L341.9,226.1 L341.5,226.1 L341.0,226.1 L340.5,226.1 L340.0,226.2 L339.5,226.2 L339.0,226.2 L338.5,226.2 L338.1,226.2 L337.6,226.2 L337.1,226.2 L336.6,226.2 L336.1,226.2 L335.6,226.2 L335.2,226.2 L334.7,226.2 L334.2,226.2 L333.7,226.2 L333.2,226.2 L332.7,226.2 L332.2,226.2 L331.7,226.1 L331.2,226.1 L330.7,226.1 L330.2,226.1 L329.7,226.1 L329.2,226.1 L328.8,226.1 L328.3,226.0 L327.8,226.0 L327.3,226.0 L326.8,226.0 L326.3,226.0 L325.8,226.0 L325.3,225.9 L324.8,225.9 L324.3,225.9 L323.8,225.9 L323.3,225.9 L322.8,225.8 L322.4,225.8 L321.9,225.8 L321.4,225.8 L320.9,225.7 L320.4,225.7 L319.9,225.7 L319.4,225.6 L318.9,225.6 L318.4,225.6 L317.9,225.6 L317.4,225.5 L316.9,225.5 L316.4,225.5 L315.9,225.4 L315.5,225.4 L315.0,225.4 L314.5,225.3 L314.0,225.3 L313.5,225.2 L313.0,225.2 L312.5,225.2 L312.0,225.1 L311.5,225.1 L311.0,225.0 L310.6,225.0 L310.1,225.0 L309.6,224.9 L309.1,224.9 L308.6,224.8 L308.1,224.8 L307.6,224.7 L307.1,224.7 L306.6,224.6 L306.2,224.6 L305.7,224.5 L305.2,224.5 L304.7,224.4 L304.2,224.4 L303.7,224.3 L303.2,224.2 L302.8,224.2 L302.3,224.1 L301.8,224.1 L301.3,224.0 L300.8,223.9 L300.4,223.9 L299.9,223.8 L299.4,223.7 L298.9,223.7 L298.5,223.6 L298.0,223.5 L297.5,223.4 L297.1,223.3 L296.6,223.3 L296.2,223.2 L295.7,223.1 L295.3,223.0 L294.8,222.9 L294.4,222.8 L293.9,222.7 L293.5,222.6 L293.1,222.4 L292.6,222.3 L292.2,222.2 L291.8,222.1 L291.3,221.9 L290.9,221.8 L290.4,221.7 L290.0,221.5 L289.6,221.4 L289.1,221.2 L288.7,221.0 L288.2,220.9 L287.8,220.7 L287.3,220.5 L286.9,220.4 L286.4,220.2 L286.0,220.0 L285.5,219.9 L285.1,219.7 L284.7,219.5 L284.2,219.3 L283.8,219.2 L283.4,219.0 L282.9,218.8 L282.5,218.6 L282.1,218.4 L281.7,218.2 L281.2,218.0 L280.8,217.8 L280.4,217.6 L280.0,217.4 L279.5,217.1 L279.1,216.9 L278.7,216.7 L278.3,216.5 L277.9,216.3 L277.4,216.0 L277.0,215.8 L276.6,215.6 L276.2,215.3 L275.8,215.1 L275.4,214.9 L274.9,214.6 L274.5,214.4 L274.1,214.1 L273.7,213.9 L273.3,213.6 L272.9,213.4 L272.4,213.1 L272.0,212.9 L271.6,212.6 L271.2,212.4 L270.8,212.1 L270.4,211.9 L270.0,211.6 L269.6,211.4 L269.2,211.1 L268.8,210.8 L268.4,210.6 L268.0,210.3 L267.7,210.0 L267.3,209.8 L266.9,209.5 L266.5,209.2 L266.1,208.9 L265.7,208.7 L265.3,208.4 L264.9,208.1 L264.6,207.8 L264.2,207.5 L263.8,207.2 L263.4,206.9 L263.0,206.6 L262.6,206.3 L262.2,206.0 L261.9,205.7 L261.5,205.4 L261.1,205.1 L260.7,204.8 L260.3,204.5 L259.9,204.2 L259.5,203.9 L259.2,203.6 L258.8,203.2 L258.4,202.9 L258.0,202.6 L257.6,202.3 L257.2,202.0 L256.8,201.7 L256.4,201.4 L256.0,201.0 L255.7,200.7 L255.3,200.4 L254.9,200.1 L254.6,199.8 L254.2,199.5 L253.8,199.2 L253.5,198.9 L253.1,198.6 L252.7,198.3 L252.4,197.9 L252.0,197.6 L251.6,197.3 L251.3,197.0 L250.9,196.7 L250.5,196.3 L250.1,196.0 L249.8,195.7 L249.4,195.3 L249.0,195.0 L248.7,194.7 L248.3,194.3 L247.9,194.0 L247.5,193.7 L247.1,193.3 L246.8,193.0 L246.4,192.6 L246.0,192.3 L245.6,192.0 L245.2,191.6 L244.8,191.3 L244.4,191.0 L244.0,190.6 L243.6,190.3 L243.2,190.0 L242.8,189.6 L242.4,189.3 L242.0,189.0 L241.6,188.7 L241.2,188.4 L240.8,188.1 L240.4,187.8 L240.0,187.5 L239.7,187.1 L239.3,186.8 L238.9,186.5 L238.5,186.2 L238.1,185.9 L237.7,185.6 L237.3,185.2 L236.9,184.9 L236.5,184.6 L236.1,184.3 L235.6,184.0 L235.2,183.6 L234.8,183.3 L234.4,183.0 L233.9,182.7 L233.5,182.4 L233.0,182.1 L232.6,181.8 L232.1,181.4 L231.6,181.1 L231.2,180.9 L230.7,180.6 L230.2,180.3 L229.7,180.0 L229.3,179.7 L228.8,179.5 L228.3,179.2 L227.8,178.9 L227.3,178.7 L226.8,178.5 L226.3,178.2 L225.8,178.0 L225.3,177.8 L224.7,177.6 L224.2,177.3 L223.7,177.1 L223.3,176.9 L222.8,176.8 L222.3,176.6 L221.8,176.4 L221.3,176.2 L220.8,176.0 L220.3,175.9 L219.8,175.7 L219.3,175.5 L218.8,175.4 L218.3,175.2 L217.9,175.0 L217.4,174.9 L216.9,174.7 L216.4,174.5 L215.9,174.4 L215.4,174.2 L214.9,174.1 L214.5,173.9 L214.0,173.8 L213.5,173.6 L213.0,173.5 L212.5,173.3 L212.0,173.2 L211.6,173.0 L211.1,172.9 L210.6,172.7 L210.1,172.6 L209.6,172.4 L209.2,172.3 L208.7,172.2 L208.2,172.0 L207.7,171.9 L207.3,171.7 L206.8,171.6 L206.3,171.4 L205.9,171.3 L205.5,171.1 Z" fill="#fff" stroke="none"/><path d="M202.5,179.9 L203.0,180.0 L203.6,180.2 L204.1,180.4 L204.5,180.5 L205.0,180.7 L205.5,180.8 L206.0,181.0 L206.5,181.1 L207.0,181.2 L207.4,181.4 L207.9,181.5 L208.4,181.7 L208.9,181.8 L209.3,182.0 L209.8,182.1 L210.3,182.3 L210.8,182.4 L211.2,182.6 L211.7,182.7 L212.2,182.8 L212.6,183.0 L213.1,183.1 L213.6,183.3 L214.0,183.4 L214.5,183.6 L215.0,183.8 L215.4,183.9 L215.9,184.1 L216.3,184.2 L216.8,184.4 L217.2,184.5 L217.7,184.7 L218.1,184.9 L218.6,185.0 L219.0,185.2 L219.5,185.4 L219.9,185.5 L220.4,185.7 L220.8,185.9 L221.2,186.0 L221.6,186.2 L222.0,186.4 L222.4,186.6 L222.8,186.8 L223.2,187.0 L223.6,187.1 L224.0,187.4 L224.4,187.6 L224.8,187.8 L225.2,188.0 L225.6,188.2 L225.9,188.4 L226.3,188.7 L226.7,188.9 L227.1,189.2 L227.5,189.4 L227.8,189.7 L228.2,189.9 L228.6,190.2 L228.9,190.4 L229.3,190.7 L229.7,191.0 L230.1,191.3 L230.4,191.6 L230.8,191.9 L231.2,192.1 L231.6,192.4 L231.9,192.8 L232.3,193.1 L232.7,193.4 L233.1,193.7 L233.5,194.0 L233.9,194.3 L234.3,194.6 L234.7,194.9 L235.1,195.3 L235.5,195.6 L235.9,195.9 L236.3,196.2 L236.7,196.5 L237.0,196.8 L237.4,197.1 L237.8,197.4 L238.1,197.7 L238.5,198.0 L238.9,198.3 L239.2,198.6 L239.6,198.9 L240.0,199.3 L240.3,199.6 L240.7,199.9 L241.1,200.2 L241.4,200.6 L241.8,200.9 L242.2,201.2 L242.5,201.5 L242.9,201.9 L243.3,202.2 L243.7,202.5 L244.0,202.9 L244.4,203.2 L244.8,203.5 L245.2,203.9 L245.5,204.2 L245.9,204.5 L246.3,204.9 L246.7,205.2 L247.1,205.6 L247.5,205.9 L247.9,206.2 L248.3,206.6 L248.7,206.9 L249.1,207.2 L249.5,207.6 L249.9,207.9 L250.3,208.2 L250.7,208.5 L251.1,208.8 L251.4,209.2 L251.8,209.5 L252.2,209.8 L252.6,210.1 L253.0,210.4 L253.4,210.7 L253.8,211.0 L254.2,211.4 L254.6,211.7 L255.0,212.0 L255.4,212.3 L255.8,212.6 L256.2,212.9 L256.6,213.3 L257.0,213.6 L257.4,213.9 L257.8,214.2 L258.2,214.5 L258.6,214.8 L259.0,215.1 L259.4,215.4 L259.8,215.8 L260.3,216.1 L260.7,216.4 L261.1,216.7 L261.5,217.0 L262.0,217.3 L262.4,217.6 L262.8,217.9 L263.3,218.2 L263.7,218.5 L264.1,218.8 L264.6,219.1 L265.0,219.4 L265.5,219.6 L265.9,219.9 L266.3,220.2 L266.8,220.5 L267.2,220.7 L267.7,221.0 L268.1,221.3 L268.5,221.5 L269.0,221.8 L269.4,222.1 L269.9,222.3 L270.3,222.6 L270.8,222.8 L271.2,223.1 L271.7,223.4 L272.1,223.6 L272.6,223.9 L273.1,224.1 L273.5,224.4 L274.0,224.6 L274.4,224.9 L274.9,225.1 L275.4,225.3 L275.8,225.6 L276.3,225.8 L276.8,226.0 L277.3,226.3 L277.7,226.5 L278.2,226.7 L278.7,226.9 L279.2,227.2 L279.7,227.4 L280.2,227.6 L280.6,227.8 L281.1,228.0 L281.6,228.2 L282.1,228.4 L282.6,228.6 L283.1,228.8 L283.6,229.0 L284.1,229.2 L284.6,229.3 L285.0,229.5 L285.5,229.7 L286.0,229.9 L286.5,230.1 L287.0,230.2 L287.5,230.4 L288.1,230.6 L288.6,230.7 L289.1,230.9 L289.6,231.0 L290.2,231.2 L290.7,231.3 L291.2,231.5 L291.7,231.6 L292.3,231.7 L292.8,231.9 L293.3,232.0 L293.9,232.1 L294.4,232.2 L294.9,232.3 L295.4,232.4 L296.0,232.5 L296.5,232.6 L297.0,232.7 L297.5,232.7 L298.0,232.8 L298.6,232.9 L299.1,233.0 L299.6,233.0 L300.1,233.1 L300.6,233.2 L301.1,233.2 L301.6,233.3 L302.1,233.4 L302.6,233.4 L303.2,233.5 L303.7,233.6 L304.2,233.6 L304.7,233.7 L305.2,233.7 L305.7,233.8 L306.2,233.8 L306.7,233.9 L307.2,233.9 L307.7,234.0 L308.2,234.0 L308.7,234.1 L309.2,234.1 L309.7,234.2 L310.3,234.2 L310.8,234.3 L311.3,234.3 L311.8,234.3 L312.3,234.4 L312.8,234.4 L313.3,234.5 L313.8,234.5 L314.3,234.5 L314.8,234.6 L315.3,234.6 L315.8,234.6 L316.3,234.7 L316.8,234.7 L317.3,234.7 L317.8,234.8 L318.4,234.8 L318.9,234.8 L319.4,234.9 L319.9,234.9 L320.4,234.9 L320.9,234.9 L321.4,235.0 L321.9,235.0 L322.4,235.0 L322.9,235.0 L323.4,235.1 L323.9,235.1 L324.4,235.1 L324.9,235.1 L325.4,235.2 L325.9,235.2 L326.4,235.2 L327.0,235.2 L327.5,235.2 L328.0,235.2 L328.5,235.3 L329.0,235.3 L329.5,235.3 L330.0,235.3 L330.5,235.3 L331.0,235.3 L331.5,235.3 L332.0,235.4 L332.5,235.4 L333.0,235.4 L333.5,235.4 L334.0,235.4 L334.6,235.4 L335.1,235.4 L335.6,235.4 L336.1,235.4 L336.6,235.4 L337.2,235.4 L337.7,235.4 L338.2,235.4 L338.7,235.4 L339.2,235.4 L339.7,235.4 L340.2,235.4 L340.7,235.3 L341.2,235.3 L341.8,235.3 L342.3,235.3 L342.8,235.3 L343.3,235.3 L343.8,235.2 L344.3,235.2 L344.8,235.2 L345.3,235.2 L345.8,235.1 L346.3,235.1 L346.8,235.1 L347.3,235.1 L347.8,235.0 L348.3,235.0 L348.8,235.0 L349.4,235.0 L349.9,234.9 L350.4,234.9 L350.9,234.9 L351.4,234.9 L351.9,234.8 L352.4,234.8 L352.9,234.8 L353.4,234.7 L353.9,234.7 L354.4,234.7 L354.9,234.7 L355.4,234.6 L355.8,234.6 L356.3,234.6 L356.8,234.6 L357.3,234.5 L357.8,234.5 L358.3,234.5 L358.8,234.4 L359.3,234.4 L359.8,234.4 L360.3,234.4 L360.8,234.3 L361.3,234.3 L361.8,234.3 L362.3,234.3 L362.8,234.3 L363.3,234.2 L363.8,234.2 L364.3,234.2 L364.8,234.2 L365.2,234.2 L365.7,234.1 L366.2,234.1 L366.7,234.1 L367.2,234.1 L367.7,234.1 L368.2,234.1 L368.7,234.1 L369.1,234.1 L369.6,234.1 L370.1,234.1 L370.6,234.1 L371.1,234.1 L371.6,234.1 L372.0,234.1 L372.5,234.1 L373.0,234.1 L373.5,234.1 L374.0,234.1 L374.5,234.1 L374.9,234.1 L375.4,234.1 L375.9,234.2 L376.4,234.2 L376.8,234.2 L377.3,234.2 L377.8,234.3 L378.3,234.3 L378.7,234.3 L379.2,234.4 L379.7,234.4 L380.2,234.4 L380.7,234.5 L381.2,234.5 L381.6,234.6 L382.1,234.6 L382.6,234.6 L383.1,234.7 L383.6,234.8 L384.0,234.8 L384.5,234.9 L385.0,234.9 L385.5,235.0 L386.0,235.0 L386.4,235.1 L386.9,235.2 L387.4,235.2 L387.9,235.3 L388.3,235.4 L388.8,235.4 L389.3,235.5 L389.8,235.6 L390.3,235.7 L390.7,235.7 L391.2,235.8 L391.7,235.9 L392.2,236.0 L392.7,236.1 L393.1,236.1 L393.6,236.2 L394.1,236.3 L394.6,236.4 L395.1,236.5 L395.6,236.6 L396.0,236.7 L396.5,236.8 L397.0,236.9 L397.5,237.0 L398.0,237.1 L398.5,237.1 L398.9,237.2 L399.4,237.3 L399.9,237.4 L400.4,237.5 L400.9,237.6 L401.4,237.7 L401.9,237.8 L402.4,237.9 L402.8,238.0 L403.3,238.1 L403.8,238.2 L404.3,238.3 L404.8,238.4 L405.3,238.5 L405.8,238.6 L406.3,238.7 L406.8,238.8 L407.3,238.9 L407.7,239.0 L408.2,239.1 L408.7,239.2 L409.2,239.3 L409.7,239.4 L410.2,239.5 L410.7,239.6 L411.2,239.7 L411.7,239.8 L412.1,239.9 L412.6,240.0 L413.1,240.1 L413.6,240.2 L414.1,240.3 L414.5,240.4 L415.0,240.5 L415.5,240.6 L416.0,240.8 L416.5,240.9 L417.0,241.0 L417.4,241.1 L417.9,241.2 L418.4,241.3 L418.9,241.4 L419.4,241.5 L419.8,241.6 L420.3,241.7 L420.8,241.9 L421.3,242.0 L421.8,242.1 L422.3,242.2 L422.8,242.3 L423.2,242.4 L423.7,242.5 L424.2,242.7 L424.7,242.8 L425.2,242.9 L425.7,243.0 L426.1,243.1 L426.6,243.2 L427.1,243.3 L427.6,243.5 L428.1,243.6 L428.6,243.7 L429.0,243.8 L429.5,243.9 L430.0,244.1 L430.5,244.2 L431.0,244.3 L431.5,244.4 L432.0,244.5 L432.4,244.6 L432.9,244.8 L433.4,244.9 L433.9,245.0 L434.4,245.1 L434.9,245.2 L435.4,245.4 L435.8,245.5 L436.3,245.6 L436.8,245.7 L437.3,245.8 L437.8,245.9 L438.3,246.1 L438.8,246.2 L439.3,246.3 L439.7,246.4 L440.2,246.5 L440.7,246.6 L441.2,246.8 L441.7,246.9 L442.2,247.0 L442.7,247.1 L443.2,247.2 L443.7,247.3 L444.2,247.4 L444.6,247.6 L445.1,247.7 L445.6,247.8 L446.1,247.9 L446.6,248.0 L447.1,248.1 L447.6,248.2 L448.1,248.3 L448.6,248.5 L449.1,248.6 L449.6,248.7 L450.1,248.8 L450.6,248.9 L451.0,249.0 L451.5,249.1 L452.0,249.2 L452.5,249.3 L453.0,249.4 L453.5,249.5 L453.9,249.6 L454.4,249.7 L454.9,249.9 L455.4,250.0 L455.9,250.1 L456.4,250.2 L456.8,250.3 L457.3,250.4 L457.8,250.5 L458.3,250.6 L458.8,250.8 L459.3,250.9 L459.7,251.0 L460.2,251.1 L460.7,251.2 L461.2,251.3 L461.7,251.4 L462.2,251.6 L462.7,251.7 L463.1,251.8 L463.6,251.9 L464.1,252.0 L464.6,252.1 L465.1,252.3 L465.6,252.4 L466.1,252.5 L466.6,252.6 L467.1,252.7 L467.6,252.8 L468.0,252.9 L468.5,253.0 L469.0,253.2 L469.5,253.3 L470.0,253.4 L470.5,253.5 L471.0,253.6 L471.5,253.7 L472.0,253.8 L472.5,253.9 L473.0,254.0 L473.5,254.1 L474.0,254.2 L474.5,254.3 L475.0,254.4 L475.5,254.6 L476.0,254.7 L476.5,254.8 L477.0,254.9 L477.5,255.0 L478.0,255.0 L478.5,255.1 L479.0,255.2 L479.5,255.3 L480.0,255.4 L480.5,255.5 L481.0,255.6 L481.5,255.7 L482.0,255.8 L482.5,255.9 L483.1,255.9 L483.5,256.0 L484.1,256.1 L484.6,256.2 L485.1,256.2 L485.6,256.3 L486.1,256.4 L486.6,256.5 L487.1,256.5 L487.6,256.6 L488.2,256.7 L488.7,256.7 L489.2,256.8 L489.7,256.9 L490.2,256.9 L490.7,257.0 L491.2,257.0 L491.7,257.1 L492.3,257.1 L492.7,257.2 L493.3,257.2 L493.8,257.3 L494.3,257.3 L494.8,257.4 L495.3,257.4 L495.8,257.5 L496.4,257.5 L496.9,257.5 L497.4,257.6 L497.9,257.6 L498.4,257.6 L498.9,257.7 L499.4,257.7 L499.9,257.7 L500.4,257.8 L500.9,257.8 L501.4,257.8 L501.9,257.8 L502.5,257.9 L503.0,257.9 L503.5,257.9 L504.0,257.9 L504.5,258.0 L505.0,258.0 L505.5,258.0 L506.0,258.0 L506.5,258.0 L507.0,258.1 L507.5,258.1 L508.0,258.1 L508.5,258.1 L509.0,258.1 L509.5,258.1 L510.0,258.2 L510.5,258.2 L511.0,258.2 L511.5,258.2 L512.1,258.2 L512.6,258.2 L513.1,258.2 L513.6,258.2 L514.1,258.3 L514.6,258.3 L515.1,258.3 L515.6,258.3 L516.1,258.3 L516.6,258.3 L517.1,258.3 L517.6,258.3 L518.1,258.3 L518.6,258.3 L519.1,258.4 L519.6,258.4 L520.1,258.4 L520.6,258.4 L521.1,258.4 L521.6,258.4 L522.1,258.4 L522.6,258.4 L523.1,258.4 L523.6,258.4 L524.1,258.4 L524.6,258.4 L525.1,258.4 L525.6,258.4 L526.1,258.4 L526.6,258.4 L527.1,258.4 L527.6,258.4 L528.1,258.5 L528.6,258.5 L529.1,258.5 L529.6,258.5 L530.1,258.5 L530.6,258.5 L531.1,258.5 L531.6,258.5 L532.1,258.5 L532.6,258.5 L533.1,258.5 L533.6,258.5 L534.1,258.5 L534.6,258.5 L535.1,258.5 L535.6,258.5 L536.1,258.5 L536.6,258.5 L537.1,258.5 L537.6,258.5 L538.1,258.5 L538.6,258.5 L539.1,258.6 L539.6,258.6 L540.1,258.6 L540.6,258.6 L540.9,258.6" fill="none" stroke="#000" stroke-width="1.00"/><path d="M205.5,171.1 L205.9,171.3 L206.3,171.4 L206.8,171.6 L207.3,171.7 L207.7,171.9 L208.2,172.0 L208.7,172.2 L209.2,172.3 L209.6,172.4 L210.1,172.6 L210.6,172.7 L211.1,172.9 L211.6,173.0 L212.0,173.2 L212.5,173.3 L213.0,173.5 L213.5,173.6 L214.0,173.8 L214.5,173.9 L214.9,174.1 L215.4,174.2 L215.9,174.4 L216.4,174.5 L216.9,174.7 L217.4,174.9 L217.9,175.0 L218.3,175.2 L218.8,175.4 L219.3,175.5 L219.8,175.7 L220.3,175.9 L220.8,176.0 L221.3,176.2 L221.8,176.4 L222.3,176.6 L222.8,176.8 L223.3,176.9 L223.7,177.1 L224.2,177.3 L224.7,177.6 L225.3,177.8 L225.8,178.0 L226.3,178.2 L226.8,178.5 L227.3,178.7 L227.8,178.9 L228.3,179.2 L228.8,179.5 L229.3,179.7 L229.7,180.0 L230.2,180.3 L230.7,180.6 L231.2,180.9 L231.6,181.1 L232.1,181.4 L232.6,181.8 L233.0,182.1 L233.5,182.4 L233.9,182.7 L234.4,183.0 L234.8,183.3 L235.2,183.6 L235.6,184.0 L236.1,184.3 L236.5,184.6 L236.9,184.9 L237.3,185.2 L237.7,185.6 L238.1,185.9 L238.5,186.2 L238.9,186.5 L239.3,186.8 L239.7,187.1 L240.0,187.5 L240.4,187.8 L240.8,188.1 L241.2,188.4 L241.6,188.7 L242.0,189.0 L242.4,189.3 L242.8,189.6 L243.2,190.0 L243.6,190.3 L244.0,190.6 L244.4,191.0 L244.8,191.3 L245.2,191.6 L245.6,192.0 L246.0,192.3 L246.4,192.6 L246.8,193.0 L247.1,193.3 L247.5,193.7 L247.9,194.0 L248.3,194.3 L248.7,194.7 L249.0,195.0 L249.4,195.3 L249.8,195.7 L250.1,196.0 L250.5,196.3 L250.9,196.7 L251.3,197.0 L251.6,197.3 L252.0,197.6 L252.4,197.9 L252.7,198.3 L253.1,198.6 L253.5,198.9 L253.8,199.2 L254.2,199.5 L254.6,199.8 L254.9,200.1 L255.3,200.4 L255.7,200.7 L256.0,201.0 L256.4,201.4 L256.8,201.7 L257.2,202.0 L257.6,202.3 L258.0,202.6 L258.4,202.9 L258.8,203.2 L259.2,203.6 L259.5,203.9 L259.9,204.2 L260.3,204.5 L260.7,204.8 L261.1,205.1 L261.5,205.4 L261.9,205.7 L262.2,206.0 L262.6,206.3 L263.0,206.6 L263.4,206.9 L263.8,207.2 L264.2,207.5 L264.6,207.8 L264.9,208.1 L265.3,208.4 L265.7,208.7 L266.1,208.9 L266.5,209.2 L266.9,209.5 L267.3,209.8 L267.7,210.0 L268.0,210.3 L268.4,210.6 L268.8,210.8 L269.2,211.1 L269.6,211.4 L270.0,211.6 L270.4,211.9 L270.8,212.1 L271.2,212.4 L271.6,212.6 L272.0,212.9 L272.4,213.1 L272.9,213.4 L273.3,213.6 L273.7,213.9 L274.1,214.1 L274.5,214.4 L274.9,214.6 L275.4,214.9 L275.8,215.1 L276.2,215.3 L276.6,215.6 L277.0,215.8 L277.4,216.0 L277.9,216.3 L278.3,216.5 L278.7,216.7 L279.1,216.9 L279.5,217.1 L280.0,217.4 L280.4,217.6 L280.8,217.8 L281.2,218.0 L281.7,218.2 L282.1,218.4 L282.5,218.6 L282.9,218.8 L283.4,219.0 L283.8,219.2 L284.2,219.3 L284.7,219.5 L285.1,219.7 L285.5,219.9 L286.0,220.0 L286.4,220.2 L286.9,220.4 L287.3,220.5 L287.8,220.7 L288.2,220.9 L288.7,221.0 L289.1,221.2 L289.6,221.4 L290.0,221.5 L290.4,221.7 L290.9,221.8 L291.3,221.9 L291.8,222.1 L292.2,222.2 L292.6,222.3 L293.1,222.4 L293.5,222.6 L293.9,222.7 L294.4,222.8 L294.8,222.9 L295.3,223.0 L295.7,223.1 L296.2,223.2 L296.6,223.3 L297.1,223.3 L297.5,223.4 L298.0,223.5 L298.5,223.6 L298.9,223.7 L299.4,223.7 L299.9,223.8 L300.4,223.9 L300.8,223.9 L301.3,224.0 L301.8,224.1 L302.3,224.1 L302.8,224.2 L303.2,224.2 L303.7,224.3 L304.2,224.4 L304.7,224.4 L305.2,224.5 L305.7,224.5 L306.2,224.6 L306.6,224.6 L307.1,224.7 L307.6,224.7 L308.1,224.8 L308.6,224.8 L309.1,224.9 L309.6,224.9 L310.1,225.0 L310.6,225.0 L311.0,225.0 L311.5,225.1 L312.0,225.1 L312.5,225.2 L313.0,225.2 L313.5,225.2 L314.0,225.3 L314.5,225.3 L315.0,225.4 L315.5,225.4 L315.9,225.4 L316.4,225.5 L316.9,225.5 L317.4,225.5 L317.9,225.6 L318.4,225.6 L318.9,225.6 L319.4,225.6 L319.9,225.7 L320.4,225.7 L320.9,225.7 L321.4,225.8 L321.9,225.8 L322.4,225.8 L322.8,225.8 L323.3,225.9 L323.8,225.9 L324.3,225.9 L324.8,225.9 L325.3,225.9 L325.8,226.0 L326.3,226.0 L326.8,226.0 L327.3,226.0 L327.8,226.0 L328.3,226.0 L328.8,226.1 L329.2,226.1 L329.7,226.1 L330.2,226.1 L330.7,226.1 L331.2,226.1 L331.7,226.1 L332.2,226.2 L332.7,226.2 L333.2,226.2 L333.7,226.2 L334.2,226.2 L334.7,226.2 L335.2,226.2 L335.6,226.2 L336.1,226.2 L336.6,226.2 L337.1,226.2 L337.6,226.2 L338.1,226.2 L338.5,226.2 L339.0,226.2 L339.5,226.2 L340.0,226.2 L340.5,226.1 L341.0,226.1 L341.5,226.1 L341.9,226.1 L342.4,226.1 L342.9,226.1 L343.4,226.0 L343.9,226.0 L344.4,226.0 L344.9,226.0 L345.4,226.0 L345.9,225.9 L346.4,225.9 L346.9,225.9 L347.4,225.9 L347.9,225.8 L348.4,225.8 L348.9,225.8 L349.4,225.8 L349.9,225.7 L350.3,225.7 L350.8,225.7 L351.3,225.6 L351.8,225.6 L352.3,225.6 L352.8,225.6 L353.3,225.5 L353.8,225.5 L354.3,225.5 L354.8,225.4 L355.3,225.4 L355.8,225.4 L356.3,225.4 L356.8,225.3 L357.3,225.3 L357.9,225.3 L358.4,225.3 L358.9,225.2 L359.4,225.2 L359.9,225.2 L360.4,225.2 L360.9,225.1 L361.4,225.1 L361.9,225.1 L362.4,225.1 L362.9,225.0 L363.4,225.0 L363.9,225.0 L364.4,225.0 L364.9,225.0 L365.4,225.0 L365.9,224.9 L366.5,224.9 L367.0,224.9 L367.5,224.9 L368.0,224.9 L368.5,224.9 L369.0,224.9 L369.5,224.9 L370.0,224.9 L370.6,224.9 L371.1,224.9 L371.6,224.9 L372.1,224.9 L372.6,224.9 L373.1,224.9 L373.7,224.9 L374.2,224.9 L374.7,224.9 L375.2,224.9 L375.8,224.9 L376.3,225.0 L376.8,225.0 L377.3,225.0 L377.9,225.0 L378.4,225.1 L378.9,225.1 L379.4,225.1 L379.9,225.2 L380.4,225.2 L381.0,225.3 L381.5,225.3 L382.0,225.3 L382.5,225.4 L383.0,225.4 L383.5,225.5 L384.0,225.6 L384.5,225.6 L385.1,225.7 L385.6,225.7 L386.1,225.8 L386.6,225.8 L387.1,225.9 L387.6,226.0 L388.1,226.0 L388.7,226.1 L389.2,226.2 L389.7,226.3 L390.2,226.3 L390.7,226.4 L391.2,226.5 L391.7,226.6 L392.2,226.7 L392.7,226.7 L393.2,226.8 L393.7,226.9 L394.2,227.0 L394.8,227.1 L395.3,227.2 L395.8,227.3 L396.3,227.4 L396.8,227.4 L397.3,227.5 L397.8,227.6 L398.3,227.7 L398.8,227.8 L399.3,227.9 L399.8,228.0 L400.2,228.1 L400.7,228.2 L401.2,228.3 L401.7,228.4 L402.2,228.5 L402.7,228.6 L403.2,228.7 L403.7,228.8 L404.2,228.9 L404.7,229.0 L405.2,229.1 L405.7,229.2 L406.2,229.3 L406.6,229.4 L407.1,229.5 L407.6,229.6 L408.1,229.7 L408.6,229.8 L409.1,229.9 L409.6,230.0 L410.1,230.1 L410.5,230.2 L411.0,230.3 L411.5,230.4 L412.0,230.5 L412.5,230.6 L413.0,230.7 L413.5,230.8 L414.0,230.9 L414.5,231.0 L415.0,231.1 L415.5,231.2 L416.0,231.3 L416.5,231.4 L417.0,231.6 L417.5,231.7 L418.0,231.8 L418.5,231.9 L419.0,232.0 L419.5,232.1 L420.0,232.2 L420.4,232.3 L420.9,232.4 L421.4,232.6 L421.9,232.7 L422.4,232.8 L422.9,232.9 L423.4,233.0 L423.9,233.1 L424.4,233.2 L424.9,233.4 L425.4,233.5 L425.8,233.6 L426.3,233.7 L426.8,233.8 L427.3,233.9 L427.8,234.1 L428.3,234.2 L428.8,234.3 L429.3,234.4 L429.7,234.5 L430.2,234.6 L430.7,234.8 L431.2,234.9 L431.7,235.0 L432.2,235.1 L432.7,235.2 L433.2,235.3 L433.6,235.5 L434.1,235.6 L434.6,235.7 L435.1,235.8 L435.6,235.9 L436.1,236.1 L436.6,236.2 L437.0,236.3 L437.5,236.4 L438.0,236.5 L438.5,236.6 L439.0,236.8 L439.5,236.9 L440.0,237.0 L440.4,237.1 L440.9,237.2 L441.4,237.3 L441.9,237.5 L442.4,237.6 L442.9,237.7 L443.3,237.8 L443.8,237.9 L444.3,238.0 L444.8,238.1 L445.3,238.3 L445.8,238.4 L446.2,238.5 L446.7,238.6 L447.2,238.7 L447.7,238.8 L448.2,238.9 L448.7,239.0 L449.1,239.2 L449.6,239.3 L450.1,239.4 L450.6,239.5 L451.1,239.6 L451.5,239.7 L452.0,239.8 L452.5,239.9 L453.0,240.0 L453.5,240.1 L454.0,240.2 L454.5,240.3 L455.0,240.4 L455.5,240.6 L456.0,240.7 L456.5,240.8 L457.0,240.9 L457.4,241.0 L457.9,241.1 L458.4,241.2 L458.9,241.3 L459.4,241.5 L459.9,241.6 L460.4,241.7 L460.9,241.8 L461.4,241.9 L461.9,242.0 L462.3,242.1 L462.8,242.3 L463.3,242.4 L463.8,242.5 L464.3,242.6 L464.8,242.7 L465.3,242.8 L465.8,243.0 L466.2,243.1 L466.7,243.2 L467.2,243.3 L467.7,243.4 L468.2,243.5 L468.7,243.6 L469.1,243.7 L469.6,243.9 L470.1,244.0 L470.6,244.1 L471.1,244.2 L471.5,244.3 L472.0,244.4 L472.5,244.5 L473.0,244.6 L473.5,244.7 L474.0,244.8 L474.4,244.9 L474.9,245.0 L475.4,245.1 L475.9,245.2 L476.4,245.3 L476.8,245.4 L477.3,245.5 L477.8,245.6 L478.3,245.7 L478.8,245.8 L479.2,245.9 L479.7,246.0 L480.2,246.1 L480.7,246.2 L481.2,246.3 L481.6,246.4 L482.1,246.4 L482.6,246.5 L483.1,246.6 L483.6,246.7 L484.0,246.8 L484.5,246.9 L485.0,246.9 L485.5,247.0 L485.9,247.1 L486.4,247.1 L486.9,247.2 L487.4,247.3 L487.9,247.4 L488.4,247.4 L488.8,247.5 L489.3,247.5 L489.8,247.6 L490.3,247.7 L490.8,247.7 L491.2,247.8 L491.7,247.8 L492.2,247.9 L492.7,247.9 L493.2,248.0 L493.7,248.0 L494.1,248.1 L494.6,248.1 L495.1,248.2 L495.6,248.2 L496.1,248.3 L496.5,248.3 L497.0,248.3 L497.5,248.4 L498.0,248.4 L498.5,248.4 L499.0,248.5 L499.5,248.5 L500.0,248.5 L500.4,248.5 L500.9,248.6 L501.4,248.6 L501.9,248.6 L502.4,248.7 L502.9,248.7 L503.4,248.7 L503.9,248.7 L504.4,248.7 L504.9,248.8 L505.4,248.8 L505.9,248.8 L506.4,248.8 L506.9,248.8 L507.3,248.9 L507.8,248.9 L508.3,248.9 L508.8,248.9 L509.3,248.9 L509.8,248.9 L510.3,249.0 L510.8,249.0 L511.3,249.0 L511.8,249.0 L512.3,249.0 L512.8,249.0 L513.3,249.0 L513.8,249.0 L514.3,249.1 L514.8,249.1 L515.3,249.1 L515.8,249.1 L516.3,249.1 L516.8,249.1 L517.2,249.1 L517.7,249.1 L518.2,249.1 L518.7,249.1 L519.2,249.2 L519.7,249.2 L520.2,249.2 L520.7,249.2 L521.2,249.2 L521.7,249.2 L522.2,249.2 L522.7,249.2 L523.2,249.2 L523.7,249.2 L524.2,249.2 L524.7,249.2 L525.2,249.2 L525.7,249.2 L526.2,249.2 L526.7,249.2 L527.2,249.2 L527.7,249.2 L528.2,249.3 L528.7,249.3 L529.2,249.3 L529.7,249.3 L530.2,249.3 L530.7,249.3 L531.2,249.3 L531.7,249.3 L532.2,249.3 L532.7,249.3 L533.2,249.3 L533.7,249.3 L534.2,249.3 L534.7,249.3 L535.2,249.3 L535.7,249.3 L536.2,249.3 L536.7,249.3 L537.2,249.3 L537.7,249.3 L538.2,249.3 L538.7,249.3 L539.3,249.4 L539.8,249.4 L540.3,249.4 L540.8,249.4 L541.1,249.4" fill="none" stroke="#000" stroke-width="1.00"/><path d="M207.4,181.4 L217.9,175.0 M216.8,184.4 L227.8,178.9 M225.2,188.0 L236.9,184.9 M232.7,193.4 L244.8,191.3 M240.3,199.6 L252.4,197.9 M247.9,206.2 L259.9,204.2 M255.8,212.6 L267.7,210.0 M264.1,218.8 L275.8,215.1 M273.1,224.1 L284.2,219.3 M282.6,228.6 L293.1,222.4 M292.8,231.9 L302.3,224.1 M303.2,233.5 L312.0,225.1 M313.3,234.5 L321.9,225.8 M323.4,235.1 L331.7,226.1 M337.7,235.4 L345.4,226.0 M351.9,234.8 L359.4,225.2 M365.7,234.1 L373.7,224.9 M379.2,234.4 L388.1,226.0 M392.7,236.1 L402.2,228.5 M406.3,238.7 L416.0,231.3 M419.8,241.6 L429.7,234.5 M433.4,244.9 L443.3,237.8 M447.1,248.1 L457.0,240.9 M458.8,250.8 L468.7,243.6 M470.5,253.5 L480.2,246.1 M482.5,255.9 L491.7,247.8 M494.8,257.4 L503.4,248.7 M507.0,258.1 L515.3,249.1 M519.1,258.4 L527.2,249.2 M531.1,258.5 L539.3,249.4" fill="none" stroke="#000" stroke-width="0.90"/>
<path d="M588.5,249.3 L588.8,248.6 L589.1,247.7 L589.4,246.7 L589.8,245.6 L590.3,244.4 L590.7,243.0 L591.2,241.6 L591.8,240.2 L592.3,238.8 L592.9,237.3 L593.4,235.9 L594.0,234.6 L594.6,233.3 L595.2,232.1 L595.8,231.0 L596.4,230.0 L597.0,229.1 L597.7,228.3 L598.4,227.5 L599.2,226.8 L600.0,226.1 L600.8,225.4 L601.6,224.8 L602.4,224.2 L603.2,223.6 L603.9,223.1 L604.7,222.7 L605.4,222.2 L606.0,221.8 L606.5,221.4 L607.0,221.1 L607.4,220.8" fill="none" stroke="#000" stroke-width="0.90"/>
<path d="M588.5,251.0 L588.8,250.4 L589.2,249.6 L589.7,248.6 L590.2,247.6 L590.8,246.5 L591.4,245.3 L592.0,244.0 L592.7,242.7 L593.3,241.3 L594.0,240.0 L594.7,238.7 L595.4,237.4 L596.1,236.2 L596.8,235.0 L597.4,234.0 L598.0,233.0 L598.6,232.1 L599.2,231.2 L599.9,230.4 L600.6,229.5 L601.3,228.7 L601.9,227.9 L602.6,227.2 L603.3,226.5 L603.9,225.8 L604.6,225.1 L605.2,224.5 L605.7,224.0 L606.2,223.5 L606.7,223.0 L607.1,222.6 L607.4,222.2" fill="none" stroke="#000" stroke-width="0.90"/>
<path d="M588.5,250.0 L588.8,249.5 L589.2,248.9 L589.7,248.1 L590.2,247.3 L590.8,246.4 L591.4,245.5 L592.0,244.5 L592.7,243.5 L593.3,242.4 L594.0,241.4 L594.7,240.4 L595.4,239.4 L596.1,238.4 L596.8,237.5 L597.4,236.7 L598.0,236.0 L598.6,235.3 L599.2,234.7 L599.9,234.1 L600.6,233.5 L601.3,232.9 L601.9,232.4 L602.6,231.9 L603.3,231.4 L603.9,230.9 L604.6,230.5 L605.2,230.1 L605.7,229.7 L606.2,229.3 L606.7,229.0 L607.1,228.8 L607.4,228.5" fill="none" stroke="#000" stroke-width="0.90"/>
<path d="M589.0,252.0 L589.4,251.5 L589.8,251.0 L590.3,250.3 L590.8,249.6 L591.4,248.8 L592.1,247.9 L592.8,247.0 L593.5,246.1 L594.2,245.1 L594.9,244.2 L595.7,243.2 L596.4,242.3 L597.1,241.4 L597.8,240.5 L598.4,239.7 L599.0,239.0 L599.6,238.3 L600.2,237.6 L600.8,236.9 L601.4,236.3 L602.0,235.6 L602.6,234.9 L603.2,234.3 L603.8,233.7 L604.4,233.1 L604.9,232.5 L605.4,232.0 L605.9,231.5 L606.4,231.1 L606.8,230.7 L607.1,230.3 L607.4,230.0" fill="none" stroke="#000" stroke-width="0.90"/>
<path d="M589.0,252.0 L589.2,251.7 L589.5,251.4 L589.9,251.0 L590.2,250.5 L590.7,250.0 L591.1,249.5 L591.6,248.9 L592.0,248.3 L592.5,247.7 L593.0,247.1 L593.5,246.5 L594.1,246.0 L594.6,245.4 L595.1,244.9 L595.5,244.4 L596.0,244.0 L596.5,243.6 L597.0,243.2 L597.5,242.8 L598.0,242.4 L598.6,242.0 L599.1,241.7 L599.7,241.3 L600.2,241.0 L600.7,240.7 L601.2,240.4 L601.7,240.1 L602.1,239.8 L602.6,239.6 L602.9,239.4 L603.2,239.2 L603.5,239.0" fill="none" stroke="#000" stroke-width="0.90"/>
<path d="M607.4,219.2 L614.6,219.2 L615.5,220.8 L614.6,222.4 L607.4,222.4 Z" fill="#fff" stroke="#000" stroke-width="0.90"/>
<path d="M607.4,227.0 L614.6,227.0 L615.5,228.6 L614.6,230.3 L607.4,230.3 Z" fill="#fff" stroke="#000" stroke-width="0.90"/>
<path d="M603.5,236.6 L611.4,236.6 L611.4,242.0 L603.5,242.0 Z" fill="#fff" stroke="#000" stroke-width="0.90"/>
<path d="M589.0,253.0 L589.4,253.0 L589.9,253.0 L590.4,253.0 L591.1,253.0 L591.8,253.0 L592.5,253.0 L593.3,253.1 L594.1,253.1 L594.9,253.1 L595.7,253.1 L596.5,253.1 L597.3,253.1 L598.0,253.1 L598.7,253.0 L599.4,253.0 L600.0,253.0 L600.6,253.0 L601.1,252.9 L601.7,252.9 L602.2,252.8 L602.7,252.7 L603.2,252.7 L603.7,252.6 L604.2,252.5 L604.6,252.4 L605.1,252.3 L605.5,252.3 L605.8,252.2 L606.2,252.1 L606.5,252.1 L606.8,252.0 L607.0,252.0" fill="none" stroke="#000" stroke-width="1.60"/>
<path d="M606.0,248.0 L624.8,247.0 L624.8,256.0 L606.0,257.0 Z" fill="#fff" stroke="#000" stroke-width="0.90"/>
<path d="M612.0,248.0 L612.0,256.5" fill="none" stroke="#000" stroke-width="0.90"/>
<path d="M607,249 L611,249 L611,257 L607,257 Z" fill="#000"/>
<path d="M591.0,254.0 L591.2,254.1 L591.4,254.2 L591.6,254.3 L591.9,254.5 L592.2,254.6 L592.6,254.8 L592.9,255.0 L593.3,255.2 L593.6,255.4 L594.0,255.6 L594.4,255.8 L594.7,256.0 L595.1,256.3 L595.4,256.5 L595.7,256.8 L596.0,257.0 L596.3,257.2 L596.5,257.5 L596.8,257.7 L597.0,257.9 L597.3,258.2 L597.5,258.4 L597.8,258.6 L598.0,258.9 L598.2,259.2 L598.5,259.5 L598.7,259.8 L598.9,260.2 L599.0,260.6 L599.2,261.0 L599.4,261.5 L599.5,262.0 L599.6,262.6 L599.7,263.3 L599.8,264.1 L599.9,264.9 L600.0,265.8 L600.0,266.7 L600.1,267.6 L600.1,268.6 L600.2,269.5 L600.2,270.4 L600.2,271.3 L600.2,272.1 L600.2,272.8 L600.3,273.5 L600.3,274.0 L600.3,274.5" fill="none" stroke="#000" stroke-width="0.90"/>
<path d="M593.5,253.0 L593.7,253.1 L593.9,253.2 L594.2,253.3 L594.4,253.5 L594.8,253.6 L595.1,253.8 L595.4,253.9 L595.8,254.1 L596.2,254.3 L596.5,254.5 L596.9,254.7 L597.3,255.0 L597.6,255.2 L597.9,255.5 L598.2,255.7 L598.5,256.0 L598.8,256.3 L599.0,256.6 L599.3,256.9 L599.5,257.2 L599.7,257.5 L600.0,257.9 L600.2,258.2 L600.4,258.6 L600.6,258.9 L600.8,259.3 L601.0,259.7 L601.2,260.1 L601.4,260.6 L601.5,261.0 L601.7,261.5 L601.8,262.0 L601.9,262.5 L602.0,263.1 L602.1,263.8 L602.2,264.5 L602.2,265.2 L602.3,265.9 L602.3,266.6 L602.4,267.4 L602.4,268.1 L602.4,268.8 L602.4,269.5 L602.4,270.1 L602.4,270.7 L602.5,271.2 L602.5,271.6 L602.5,272.0" fill="none" stroke="#000" stroke-width="0.90"/>
<path d="M599.5,271.0 L614.0,270.6 L614.0,279.0 L599.5,280.0 Z" fill="#fff" stroke="#000" stroke-width="0.90"/>
<path d="M614.0,270.6 L625.0,271.0 L625.0,279.0 L614.0,279.0 Z" fill="#fff" stroke="#000" stroke-width="0.90"/>
<path d="M601.0,279.8 L629.6,280.5" fill="none" stroke="#000" stroke-width="1.60"/>
<path d="M539.5,246.0 L542.6,246.0 L542.6,263.5 L539.5,263.5 Z" fill="#fff" stroke="#000" stroke-width="1.00"/>
<path d="M542.6,245.3 L553.7,245.3 L553.7,262.7 L542.6,262.7 Z" fill="#fff" stroke="#000" stroke-width="1.00"/>
<path d="M556,235.8 L577.4,235 L577.4,268 L558,268.2 Q553,267 553,262 L553,240 Q553,236.2 556,235.8 Z" fill="#fff" stroke="#000" stroke-width="1"/>
<path d="M577.4,234.2 L581.0,234.2 L583.0,236.0 L583.0,267.0 L581.0,268.2 L577.4,268.2 Z" fill="#fff" stroke="#000" stroke-width="1.00"/>
<path d="M583.0,245.3 L588.5,246.5 L588.5,255.0 L583.0,255.6 Z" fill="#fff" stroke="#000" stroke-width="1.00"/>
<path d="M583.0,253.0 L588.0,247.0" fill="none" stroke="#000" stroke-width="0.80"/>
<path d="M487.4,258.6 L478.0,275.0" fill="none" stroke="#000" stroke-width="0.90"/>
<path d="M491.0,258.6 L481.0,276.0" fill="none" stroke="#000" stroke-width="0.90"/>
<path d="M471.6,280.0 L478.5,270.5 L482.5,273.0 L475.3,284.6 Z" fill="#fff" stroke="#000" stroke-width="1.00"/>
<path d="M473.0,283.0 L472.7,283.6 L472.4,284.3 L472.0,285.0 L471.6,285.9 L471.1,286.9 L470.6,287.9 L470.1,289.0 L469.6,290.1 L469.0,291.3 L468.5,292.4 L468.0,293.6 L467.5,294.8 L467.1,296.0 L466.7,297.2 L466.3,298.4 L466.0,299.5 L465.8,300.6 L465.6,301.8 L465.4,303.1 L465.2,304.3 L465.1,305.7 L465.0,307.0 L465.0,308.3 L464.9,309.6 L464.9,310.9 L464.9,312.1 L464.8,313.3 L464.8,314.4 L464.8,315.5 L464.8,316.4 L464.7,317.3 L464.7,318.0 L464.7,318.6 L464.6,319.1 L464.6,319.6 L464.6,319.9 L464.5,320.2 L464.5,320.4 L464.5,320.5 L464.5,320.7 L464.5,320.7 L464.5,320.8 L464.5,320.8 L464.5,320.8 L464.5,320.8 L464.5,320.9 L464.5,320.9 L464.5,321.0" fill="none" stroke="#000" stroke-width="2.00"/>
<ellipse cx="489.3" cy="279" rx="4.5" ry="8.5" transform="rotate(28 489.3 279)" fill="#fff" stroke="#000" stroke-width="1"/>
<ellipse cx="489.3" cy="279" rx="2.3" ry="6" transform="rotate(28 489.3 279)" fill="none" stroke="#000" stroke-width="0.8"/>
<path d="M494.0,259.0 L494.1,259.4 L494.2,259.8 L494.3,260.4 L494.5,260.9 L494.6,261.6 L494.8,262.2 L495.0,262.9 L495.1,263.7 L495.3,264.5 L495.5,265.2 L495.6,266.0 L495.7,266.9 L495.8,267.7 L495.9,268.5 L496.0,269.2 L496.0,270.0 L496.0,270.8 L495.9,271.6 L495.8,272.5 L495.7,273.4 L495.6,274.4 L495.5,275.3 L495.3,276.2 L495.1,277.2 L495.0,278.1 L494.8,279.0 L494.6,279.8 L494.5,280.6 L494.3,281.3 L494.2,282.0 L494.1,282.5 L494.0,283.0" fill="none" stroke="#000" stroke-width="0.90"/>
<path d="M514.3,260.4 L513.8,261.0 L513.2,261.8 L512.5,262.7 L511.7,263.7 L510.9,264.8 L509.9,266.0 L509.0,267.2 L508.0,268.4 L507.0,269.7 L505.9,271.0 L504.9,272.3 L503.9,273.6 L502.8,274.8 L501.8,275.9 L500.9,277.0 L500.0,278.0 L499.1,278.9 L498.3,279.8 L497.4,280.6 L496.6,281.4 L495.7,282.1 L494.9,282.9 L494.0,283.6 L493.2,284.3 L492.4,285.0 L491.5,285.7 L490.7,286.4 L489.9,287.1 L489.0,287.8 L488.2,288.5 L487.3,289.2 L486.5,290.0 L485.6,290.8 L484.8,291.5 L483.8,292.3 L482.9,293.1 L482.0,293.9 L481.0,294.6 L480.1,295.4 L479.2,296.2 L478.3,297.0 L477.4,297.8 L476.6,298.6 L475.7,299.4 L475.0,300.3 L474.3,301.2 L473.6,302.1 L473.0,303.0 L472.5,304.0 L472.0,305.0 L471.5,306.2 L471.1,307.4 L470.8,308.6 L470.5,309.8 L470.2,311.1 L469.9,312.3 L469.7,313.5 L469.5,314.7 L469.3,315.8 L469.1,316.9 L468.9,317.8 L468.8,318.7 L468.6,319.4 L468.5,320.0" fill="none" stroke="#000" stroke-width="0.90"/>
<path d="M517.5,260.4 L517.0,261.1 L516.4,262.0 L515.7,263.0 L514.9,264.1 L514.0,265.3 L513.1,266.6 L512.1,268.0 L511.1,269.4 L510.1,270.9 L509.0,272.3 L507.9,273.8 L506.9,275.2 L505.9,276.5 L504.9,277.8 L503.9,278.9 L503.0,280.0 L502.1,281.0 L501.3,281.9 L500.4,282.7 L499.6,283.5 L498.7,284.2 L497.9,285.0 L497.0,285.7 L496.2,286.4 L495.4,287.0 L494.5,287.7 L493.7,288.4 L492.9,289.0 L492.0,289.7 L491.2,290.5 L490.3,291.2 L489.5,292.0 L488.6,292.8 L487.8,293.7 L486.8,294.5 L485.9,295.4 L485.0,296.2 L484.0,297.1 L483.1,298.0 L482.2,298.9 L481.3,299.8 L480.4,300.7 L479.6,301.6 L478.7,302.5 L478.0,303.3 L477.3,304.2 L476.6,305.1 L476.0,306.0 L475.5,306.9 L475.0,307.8 L474.5,308.8 L474.1,309.8 L473.8,310.8 L473.5,311.9 L473.2,312.9 L472.9,313.9 L472.7,314.8 L472.5,315.8 L472.3,316.7 L472.1,317.5 L471.9,318.2 L471.8,318.9 L471.6,319.5 L471.5,320.0" fill="none" stroke="#000" stroke-width="0.90"/>
<ellipse cx="465" cy="325.5" rx="6.8" ry="5" transform="rotate(-20 465 325.5)" fill="#fff" stroke="#000" stroke-width="1.1"/>
<ellipse cx="465" cy="325.5" rx="3" ry="2" transform="rotate(-20 465 325.5)" fill="none" stroke="#000" stroke-width="0.9"/>
<path d="M521.8,258.6 L523.0,301.3" fill="none" stroke="#000" stroke-width="0.90"/>
<path d="M525.0,258.6 L526.0,300.0" fill="none" stroke="#000" stroke-width="0.90"/>
<ellipse cx="524" cy="305.5" rx="5" ry="6" transform="rotate(20 524 305.5)" fill="#fff" stroke="#000" stroke-width="1.1"/>
<ellipse cx="524" cy="305.5" rx="2.2" ry="3" transform="rotate(20 524 305.5)" fill="none" stroke="#000" stroke-width="0.9"/>
<path d="M447.0,304.0 L455.0,300.4 L459.5,309.0 L456.0,316.0 L449.0,316.2 L446.5,312.0 Z" fill="#fff" stroke="#000" stroke-width="1.00"/>
<path d="M447.0,307.0 L447.3,307.2 L447.6,307.3 L448.1,307.6 L448.5,307.9 L449.0,308.2 L449.6,308.5 L450.1,308.8 L450.7,309.1 L451.3,309.4 L451.9,309.8 L452.5,310.1 L453.1,310.3 L453.6,310.6 L454.1,310.8 L454.6,310.9 L455.0,311.0 L455.4,311.0 L455.8,311.0 L456.1,311.0 L456.5,310.9 L456.8,310.8 L457.1,310.6 L457.5,310.4 L457.8,310.2 L458.0,310.1 L458.3,309.9 L458.5,309.7 L458.8,309.5 L459.0,309.3 L459.2,309.2 L459.3,309.1 L459.5,309.0" fill="none" stroke="#000" stroke-width="0.90"/>
<path d="M455.0,311.0 L456.0,316.0" fill="none" stroke="#000" stroke-width="0.90"/>
<ellipse cx="327.5" cy="43.3" rx="2.6" ry="1.9" fill="#fff" stroke="#000" stroke-width="1.5"/>
<ellipse cx="335.2" cy="46.7" rx="2.6" ry="1.9" fill="#fff" stroke="#000" stroke-width="1.5"/>
<ellipse cx="327.0" cy="51.7" rx="2.2" ry="1.6" fill="#fff" stroke="#000" stroke-width="1.5"/>
<ellipse cx="334.7" cy="55.0" rx="2.3" ry="1.6" fill="#fff" stroke="#000" stroke-width="1.5"/>
<path d="M324.5,59.0 L328.2,58.5 L328.5,66.5 L324.5,67.0 Z" fill="#000" stroke="#000" stroke-width="0.6"/>
<path d="M331.3,61.0 L335.0,60.5 L335.0,68.5 L331.3,69.0 Z" fill="#000" stroke="#000" stroke-width="0.6"/>
<path d="M319.5,70 L319.5,82 Q320,86.5 329,86.5 Q339,86.5 339,82 L339.2,70" fill="#fff" stroke="#000" stroke-width="1.1"/>
<ellipse cx="329.3" cy="69.5" rx="10" ry="5" fill="#fff" stroke="#000" stroke-width="1.3"/>
<path d="M320,71 Q329,77 338.5,71" fill="none" stroke="#000" stroke-width="1.6"/>
<path d="M324.0,65.0 L328.0,64.5 L329.0,71.0 L325.0,71.5 Z" fill="#000" stroke="#000" stroke-width="0.6"/>
<path d="M331.0,67.0 L335.0,66.5 L336.0,72.0 L332.0,72.5 Z" fill="#000" stroke="#000" stroke-width="0.6"/>
<path d="M310.6,113 L310.8,125 Q322,132 335,127.5 L334.5,113" fill="#fff" stroke="#000" stroke-width="1.1"/>
<ellipse cx="322.5" cy="112.9" rx="11.9" ry="4.4" fill="#fff" stroke="#000" stroke-width="1.2"/>
<path d="M327.3,117.0 L335.0,115.5 L335.1,128.0 L327.5,129.5 Z" fill="none" stroke="#000" stroke-width="1.00"/>
<path d="M329.0,117.0 L329.2,129.0" fill="none" stroke="#000" stroke-width="0.80"/>
<path d="M326.3,86.5 L326.3,121.0" fill="none" stroke="#000" stroke-width="0.90"/>
<path d="M320.2,69.0 L319.9,69.3 L319.6,69.6 L319.2,70.0 L318.8,70.4 L318.3,70.9 L317.7,71.4 L317.2,71.9 L316.6,72.4 L316.1,73.0 L315.5,73.6 L315.0,74.2 L314.5,74.7 L314.0,75.3 L313.6,75.9 L313.3,76.5 L313.0,77.0 L312.8,77.5 L312.6,78.1 L312.4,78.6 L312.3,79.2 L312.2,79.7 L312.1,80.3 L312.1,80.9 L312.0,81.4 L312.0,82.0 L312.0,82.6 L312.1,83.2 L312.1,83.7 L312.2,84.3 L312.2,84.9 L312.3,85.4 L312.4,86.0 L312.5,86.6 L312.6,87.1 L312.7,87.7 L312.8,88.2 L312.9,88.8 L313.0,89.3 L313.1,89.9 L313.3,90.4 L313.5,91.0 L313.7,91.6 L314.0,92.1 L314.3,92.7 L314.6,93.3 L315.0,93.8 L315.5,94.4 L316.0,95.0 L316.6,95.6 L317.2,96.2 L317.9,96.8 L318.7,97.4 L319.5,98.0 L320.4,98.6 L321.2,99.3 L322.2,99.9 L323.1,100.5 L324.1,101.1 L325.1,101.8 L326.0,102.4 L327.0,103.0 L328.0,103.7 L329.0,104.3 L330.0,105.0 L331.0,105.7 L332.1,106.4 L333.2,107.2 L334.4,107.9 L335.7,108.7 L336.9,109.5 L338.1,110.3 L339.4,111.1 L340.6,111.9 L341.7,112.6 L342.8,113.3 L343.9,114.0 L344.8,114.6 L345.7,115.1 L346.4,115.6 L347.0,116.0" fill="none" stroke="#000" stroke-width="0.90"/>
<path d="M321.5,71.0 L321.3,71.2 L321.0,71.5 L320.6,71.9 L320.2,72.2 L319.7,72.6 L319.3,73.1 L318.8,73.5 L318.3,74.0 L317.8,74.5 L317.3,75.0 L316.8,75.5 L316.4,76.0 L315.9,76.5 L315.6,77.0 L315.3,77.5 L315.0,78.0 L314.8,78.5 L314.6,79.0 L314.5,79.4 L314.4,79.9 L314.3,80.4 L314.2,80.9 L314.2,81.4 L314.1,81.9 L314.1,82.4 L314.1,83.0 L314.2,83.5 L314.2,84.0 L314.3,84.5 L314.3,85.0 L314.4,85.5 L314.5,86.0 L314.6,86.5 L314.7,87.0 L314.8,87.5 L314.8,88.0 L314.9,88.4 L315.1,88.9 L315.2,89.4 L315.3,89.9 L315.5,90.4 L315.7,90.9 L316.0,91.4 L316.3,91.9 L316.6,92.4 L317.0,92.9 L317.5,93.4 L318.0,94.0 L318.6,94.6 L319.2,95.2 L319.9,95.8 L320.7,96.4 L321.5,97.0 L322.4,97.6 L323.3,98.2 L324.2,98.9 L325.2,99.5 L326.1,100.2 L327.1,100.8 L328.1,101.5 L329.1,102.1 L330.1,102.7 L331.1,103.4 L332.0,104.0 L333.0,104.6 L334.0,105.3 L335.1,106.0 L336.2,106.7 L337.4,107.5 L338.6,108.2 L339.7,108.9 L340.9,109.6 L342.0,110.3 L343.1,111.0 L344.1,111.6 L345.1,112.2 L346.0,112.7 L346.8,113.2 L347.4,113.6 L348.0,114.0" fill="none" stroke="#000" stroke-width="0.90"/>
<path d="M349.0,113.6 L356.8,121.4 L352.6,125.6 L344.8,117.8 Z" fill="#fff" stroke="#000" stroke-width="1.10"/>
<path d="M358.2,119.9 L370.9,132.7 L365.6,138.0 L352.6,125.6 Z" fill="#fff" stroke="#000" stroke-width="1.10"/>
<path d="M349.0,113.6 L351.1,115.7 L346.9,119.9 L344.8,117.8 Z" fill="#000" stroke="#000" stroke-width="0.6"/>
<path d="M352.2,123.1 L355.0,125.9 L353.3,127.7 L350.4,124.9 Z" fill="#000" stroke="#000" stroke-width="0.6"/>
<path d="M354.7,123.5 L366.7,135.5" fill="none" stroke="#000" stroke-width="0.80"/>
<path d="M366.7,134.1 L368.8,136.2 L366.0,139.0 L363.9,136.9 Z" fill="#000" stroke="#000" stroke-width="0.6"/>
<path d="M366.5,137.0 L367.5,140.5" fill="none" stroke="#000" stroke-width="1.20"/>
<path d="M417.8,54.1 L434.2,59.3 L444.6,63.8 L444.6,77.2 L432.0,81.6 L420.1,80.1 L411.9,72.0 Z" fill="#fff" stroke="#000" stroke-width="1.10"/>
<path d="M417.8,54.1 L425.3,60.8 L420.1,80.1" fill="none" stroke="#000" stroke-width="1.00"/>
<path d="M425.3,60.8 L435.7,61.6 L432.0,81.6" fill="none" stroke="#000" stroke-width="1.00"/>
<path d="M419.5,56.0 L435.0,61.0" fill="none" stroke="#000" stroke-width="0.80"/>
<path d="M436.5,63.0 L444.6,63.8 L444.6,77.2 L434.0,79.0 Z" fill="none" stroke="#000" stroke-width="1.00"/>
<path d="M437.5,66.0 L441.5,66.5 L441.0,70.0 L437.0,70.0 Z" fill="#000" stroke="#000" stroke-width="0.6"/>
<path d="M437.0,72.0 L441.0,72.0 L440.5,76.0 L436.5,76.5 Z" fill="#000" stroke="#000" stroke-width="0.6"/>
<path d="M442.0,64.0 L442.0,77.0" fill="none" stroke="#000" stroke-width="0.90"/>
<path d="M414.1,77.2 L418.0,78.5 L419.3,83.1 L415.0,82.0 Z" fill="#000" stroke="#000" stroke-width="0.6"/>
<path d="M420.8,80.0 L432.0,82.0 L431.0,87.6 L422.0,86.5 Z" fill="#fff" stroke="#000" stroke-width="1.00"/>
<path d="M420.8,80.0 L424.5,80.6 L425.0,86.8 L422.0,86.5 Z" fill="#000" stroke="#000" stroke-width="0.6"/>
<path d="M576.5,83.2 L576.0,83.3 L575.5,83.3 L575.0,83.4 L574.5,83.4 L574.0,83.5 L573.5,83.5 L573.0,83.6 L572.5,83.6 L572.0,83.7 L571.5,83.8 L571.0,83.8 L570.5,83.9 L570.0,83.9 L569.5,84.0 L569.0,84.0 L568.5,84.1 L568.0,84.1 L567.5,84.2 L567.0,84.2 L566.5,84.3 L566.0,84.4 L565.5,84.4 L565.0,84.5 L564.5,84.5 L564.0,84.6 L563.5,84.6 L563.0,84.7 L562.5,84.7 L562.0,84.8 L561.5,84.9 L561.1,84.9 L560.6,85.0 L560.1,85.0 L559.6,85.1 L559.1,85.1 L558.6,85.2 L558.1,85.2 L557.6,85.3 L557.1,85.3 L556.6,85.4 L556.1,85.5 L555.6,85.5 L555.1,85.6 L554.6,85.6 L554.1,85.7 L553.6,85.7 L553.1,85.8 L552.6,85.8 L552.1,85.9 L551.6,86.0 L551.1,86.0 L550.6,86.1 L550.1,86.1 L549.6,86.2 L549.1,86.2 L548.6,86.3 L548.1,86.3 L547.6,86.4 L547.1,86.5 L546.6,86.5 L546.1,86.6 L545.6,86.6 L545.1,86.7 L544.6,86.7 L544.2,86.8 L543.7,86.8 L543.2,86.9 L542.7,87.0 L542.2,87.0 L541.7,87.1 L541.2,87.1 L540.7,87.2 L540.2,87.2 L539.7,87.3 L539.2,87.3 L538.7,87.4 L538.2,87.5 L537.7,87.5 L537.2,87.6 L536.7,87.6 L536.2,87.7 L535.7,87.7 L535.2,87.8 L534.7,87.9 L534.2,87.9 L533.7,88.0 L533.2,88.0 L532.7,88.1 L532.2,88.1 L531.7,88.2 L531.2,88.3 L530.7,88.3 L530.2,88.4 L529.7,88.4 L529.2,88.5 L528.7,88.5 L528.3,88.6 L527.8,88.7 L527.3,88.7 L526.8,88.8 L526.3,88.8 L525.8,88.9 L525.3,88.9 L524.8,89.0 L524.3,89.1 L523.8,89.1 L523.3,89.2 L522.8,89.2 L522.3,89.3 L521.8,89.3 L521.3,89.4 L520.8,89.4 L520.3,89.5 L519.8,89.6 L519.3,89.6 L518.8,89.7 L518.3,89.7 L517.8,89.8 L517.3,89.8 L516.8,89.9 L516.3,90.0 L515.8,90.0 L515.3,90.1 L514.8,90.1 L514.3,90.2 L513.8,90.2 L513.3,90.3 L512.9,90.4 L512.4,90.4 L511.9,90.5 L511.6,90.5 L511.8,93.1 L512.2,93.1 L512.7,93.0 L513.1,92.9 L513.6,92.9 L514.1,92.8 L514.6,92.8 L515.1,92.7 L515.6,92.7 L516.1,92.6 L516.6,92.5 L517.1,92.5 L517.6,92.4 L518.1,92.4 L518.6,92.3 L519.1,92.3 L519.6,92.2 L520.1,92.1 L520.6,92.1 L521.1,92.0 L521.6,92.0 L522.1,91.9 L522.6,91.9 L523.1,91.8 L523.6,91.7 L524.1,91.7 L524.6,91.6 L525.1,91.6 L525.6,91.5 L526.1,91.5 L526.6,91.4 L527.1,91.3 L527.6,91.3 L528.1,91.2 L528.5,91.2 L529.0,91.1 L529.5,91.1 L530.0,91.0 L530.5,91.0 L531.0,90.9 L531.5,90.8 L532.0,90.8 L532.5,90.7 L533.0,90.7 L533.5,90.6 L534.0,90.6 L534.5,90.5 L535.0,90.4 L535.5,90.4 L536.0,90.3 L536.5,90.3 L537.0,90.2 L537.5,90.2 L538.0,90.1 L538.5,90.0 L539.0,90.0 L539.5,89.9 L540.0,89.9 L540.5,89.8 L541.0,89.8 L541.5,89.7 L542.0,89.7 L542.5,89.6 L543.0,89.5 L543.4,89.5 L543.9,89.4 L544.4,89.4 L544.9,89.3 L545.4,89.3 L545.9,89.2 L546.4,89.1 L546.9,89.1 L547.4,89.0 L547.9,89.0 L548.4,88.9 L548.9,88.9 L549.4,88.8 L549.9,88.8 L550.4,88.7 L550.9,88.6 L551.4,88.6 L551.9,88.5 L552.4,88.5 L552.9,88.4 L553.4,88.4 L553.9,88.3 L554.4,88.3 L554.9,88.2 L555.4,88.2 L555.9,88.1 L556.4,88.0 L556.9,88.0 L557.4,87.9 L557.9,87.9 L558.4,87.8 L558.9,87.8 L559.3,87.7 L559.8,87.7 L560.3,87.6 L560.8,87.5 L561.3,87.5 L561.8,87.4 L562.3,87.4 L562.8,87.3 L563.3,87.3 L563.8,87.2 L564.3,87.2 L564.8,87.1 L565.3,87.1 L565.8,87.0 L566.3,86.9 L566.8,86.9 L567.3,86.8 L567.8,86.8 L568.3,86.7 L568.8,86.7 L569.3,86.6 L569.8,86.6 L570.3,86.5 L570.8,86.4 L571.3,86.4 L571.8,86.3 L572.3,86.3 L572.8,86.2 L573.3,86.2 L573.8,86.1 L574.3,86.1 L574.8,86.0 L575.3,86.0 L575.7,85.9 L576.2,85.8 L576.7,85.8 Z" fill="#fff" stroke="none"/><path d="M576.5,83.2 L576.0,83.3 L575.5,83.3 L575.0,83.4 L574.5,83.4 L574.0,83.5 L573.5,83.5 L573.0,83.6 L572.5,83.6 L572.0,83.7 L571.5,83.8 L571.0,83.8 L570.5,83.9 L570.0,83.9 L569.5,84.0 L569.0,84.0 L568.5,84.1 L568.0,84.1 L567.5,84.2 L567.0,84.2 L566.5,84.3 L566.0,84.4 L565.5,84.4 L565.0,84.5 L564.5,84.5 L564.0,84.6 L563.5,84.6 L563.0,84.7 L562.5,84.7 L562.0,84.8 L561.5,84.9 L561.1,84.9 L560.6,85.0 L560.1,85.0 L559.6,85.1 L559.1,85.1 L558.6,85.2 L558.1,85.2 L557.6,85.3 L557.1,85.3 L556.6,85.4 L556.1,85.5 L555.6,85.5 L555.1,85.6 L554.6,85.6 L554.1,85.7 L553.6,85.7 L553.1,85.8 L552.6,85.8 L552.1,85.9 L551.6,86.0 L551.1,86.0 L550.6,86.1 L550.1,86.1 L549.6,86.2 L549.1,86.2 L548.6,86.3 L548.1,86.3 L547.6,86.4 L547.1,86.5 L546.6,86.5 L546.1,86.6 L545.6,86.6 L545.1,86.7 L544.6,86.7 L544.2,86.8 L543.7,86.8 L543.2,86.9 L542.7,87.0 L542.2,87.0 L541.7,87.1 L541.2,87.1 L540.7,87.2 L540.2,87.2 L539.7,87.3 L539.2,87.3 L538.7,87.4 L538.2,87.5 L537.7,87.5 L537.2,87.6 L536.7,87.6 L536.2,87.7 L535.7,87.7 L535.2,87.8 L534.7,87.9 L534.2,87.9 L533.7,88.0 L533.2,88.0 L532.7,88.1 L532.2,88.1 L531.7,88.2 L531.2,88.3 L530.7,88.3 L530.2,88.4 L529.7,88.4 L529.2,88.5 L528.7,88.5 L528.3,88.6 L527.8,88.7 L527.3,88.7 L526.8,88.8 L526.3,88.8 L525.8,88.9 L525.3,88.9 L524.8,89.0 L524.3,89.1 L523.8,89.1 L523.3,89.2 L522.8,89.2 L522.3,89.3 L521.8,89.3 L521.3,89.4 L520.8,89.4 L520.3,89.5 L519.8,89.6 L519.3,89.6 L518.8,89.7 L518.3,89.7 L517.8,89.8 L517.3,89.8 L516.8,89.9 L516.3,90.0 L515.8,90.0 L515.3,90.1 L514.8,90.1 L514.3,90.2 L513.8,90.2 L513.3,90.3 L512.9,90.4 L512.4,90.4 L511.9,90.5 L511.6,90.5" fill="none" stroke="#000" stroke-width="0.90"/><path d="M576.7,85.8 L576.2,85.8 L575.7,85.9 L575.3,86.0 L574.8,86.0 L574.3,86.1 L573.8,86.1 L573.3,86.2 L572.8,86.2 L572.3,86.3 L571.8,86.3 L571.3,86.4 L570.8,86.4 L570.3,86.5 L569.8,86.6 L569.3,86.6 L568.8,86.7 L568.3,86.7 L567.8,86.8 L567.3,86.8 L566.8,86.9 L566.3,86.9 L565.8,87.0 L565.3,87.1 L564.8,87.1 L564.3,87.2 L563.8,87.2 L563.3,87.3 L562.8,87.3 L562.3,87.4 L561.8,87.4 L561.3,87.5 L560.8,87.5 L560.3,87.6 L559.8,87.7 L559.3,87.7 L558.9,87.8 L558.4,87.8 L557.9,87.9 L557.4,87.9 L556.9,88.0 L556.4,88.0 L555.9,88.1 L555.4,88.2 L554.9,88.2 L554.4,88.3 L553.9,88.3 L553.4,88.4 L552.9,88.4 L552.4,88.5 L551.9,88.5 L551.4,88.6 L550.9,88.6 L550.4,88.7 L549.9,88.8 L549.4,88.8 L548.9,88.9 L548.4,88.9 L547.9,89.0 L547.4,89.0 L546.9,89.1 L546.4,89.1 L545.9,89.2 L545.4,89.3 L544.9,89.3 L544.4,89.4 L543.9,89.4 L543.4,89.5 L543.0,89.5 L542.5,89.6 L542.0,89.7 L541.5,89.7 L541.0,89.8 L540.5,89.8 L540.0,89.9 L539.5,89.9 L539.0,90.0 L538.5,90.0 L538.0,90.1 L537.5,90.2 L537.0,90.2 L536.5,90.3 L536.0,90.3 L535.5,90.4 L535.0,90.4 L534.5,90.5 L534.0,90.6 L533.5,90.6 L533.0,90.7 L532.5,90.7 L532.0,90.8 L531.5,90.8 L531.0,90.9 L530.5,91.0 L530.0,91.0 L529.5,91.1 L529.0,91.1 L528.5,91.2 L528.1,91.2 L527.6,91.3 L527.1,91.3 L526.6,91.4 L526.1,91.5 L525.6,91.5 L525.1,91.6 L524.6,91.6 L524.1,91.7 L523.6,91.7 L523.1,91.8 L522.6,91.9 L522.1,91.9 L521.6,92.0 L521.1,92.0 L520.6,92.1 L520.1,92.1 L519.6,92.2 L519.1,92.3 L518.6,92.3 L518.1,92.4 L517.6,92.4 L517.1,92.5 L516.6,92.5 L516.1,92.6 L515.6,92.7 L515.1,92.7 L514.6,92.8 L514.1,92.8 L513.6,92.9 L513.1,92.9 L512.7,93.0 L512.2,93.1 L511.8,93.1" fill="none" stroke="#000" stroke-width="0.90"/><path d="M574.5,83.4 L572.8,86.2 M570.5,83.9 L568.8,86.7 M566.5,84.3 L564.8,87.1 M562.5,84.7 L560.8,87.5 M558.6,85.2 L556.9,88.0 M554.6,85.6 L552.9,88.4 M550.6,86.1 L548.9,88.9 M546.6,86.5 L544.9,89.3 M542.7,87.0 L541.0,89.8 M538.7,87.4 L537.0,90.2 M534.7,87.9 L533.0,90.7 M530.7,88.3 L529.0,91.1 M526.8,88.8 L525.1,91.6 M522.8,89.2 L521.1,92.0 M518.8,89.7 L517.1,92.5 M514.8,90.1 L513.1,92.9" fill="none" stroke="#000" stroke-width="0.81"/>
<path d="M519,87.6 L504,92 L505,97 L512,94 Z" fill="#000"/>
<path d="M475.0,101.0 L481.0,96.0 L498.0,91.0 L504.0,93.5 L504.0,104.0 L482.0,110.0 L478.0,108.0 Z" fill="#fff" stroke="#000" stroke-width="1.00"/>
<path d="M481.0,96.0 L482.0,110.0" fill="none" stroke="#000" stroke-width="0.90"/>
<path d="M493.0,92.5 L495.0,106.0" fill="none" stroke="#000" stroke-width="0.90"/>
<path d="M498,91 L504,93.5 L504,104 L498,105 Z" fill="#000"/>
<path d="M586.8,47.2 L618.0,67.9 L592.3,92.4 L567.2,66.2 Z" fill="#fff" stroke="#000" stroke-width="1.20"/>
<path d="M567.2,66.2 L567.2,66.3 L567.1,66.3 L566.9,66.3 L566.7,66.3 L566.5,66.3 L566.3,66.3 L566.1,66.3 L565.9,66.4 L565.8,66.5 L565.7,66.6 L565.7,66.9 L565.9,67.2 L566.1,67.7 L566.5,68.2 L567.0,68.9 L567.7,69.7 L568.6,70.7 L569.8,72.0 L571.2,73.5 L572.7,75.1 L574.4,76.9 L576.2,78.8 L578.1,80.7 L580.0,82.7 L581.9,84.6 L583.8,86.5 L585.6,88.3 L587.3,90.0 L588.9,91.6 L590.2,92.9 L591.4,94.0 L592.3,94.9 L593.0,95.5 L593.5,95.9 L593.8,96.1 L594.0,96.2 L594.1,96.1 L594.1,95.9 L594.0,95.6 L593.8,95.2 L593.6,94.8 L593.4,94.4 L593.1,93.9 L592.9,93.5 L592.7,93.1 L592.5,92.8 L592.3,92.5 L592.3,92.4" fill="none" stroke="#000" stroke-width="1.00"/>
<path d="M567.2,66.2 L567.7,69.7 L592.6,94.9 L592.3,92.4" fill="none" stroke="#000" stroke-width="1.00"/>
<path d="M592.4,53.0 L609.7,64.7 L607.1,67.2 L590.2,55.1 Z" fill="none" stroke="#000" stroke-width="1.50"/>
<path d="M586.2,49.4 L591.4,52.9" fill="none" stroke="#000" stroke-width="1.20"/>
<path d="M608.2,67.2 L613.3,70.8" fill="none" stroke="#000" stroke-width="1.20"/>
<path d="M588.7,56.5 L605.4,68.8 L602.8,71.3 L586.5,58.7 Z" fill="none" stroke="#000" stroke-width="1.50"/>
<path d="M582.7,52.7 L587.7,56.5" fill="none" stroke="#000" stroke-width="1.20"/>
<path d="M603.9,71.3 L608.9,75.1" fill="none" stroke="#000" stroke-width="1.20"/>
<path d="M585.0,60.1 L601.1,72.9 L598.5,75.4 L582.8,62.2 Z" fill="none" stroke="#000" stroke-width="1.50"/>
<path d="M579.2,56.1 L584.0,60.0" fill="none" stroke="#000" stroke-width="1.20"/>
<path d="M599.6,75.4 L604.4,79.4" fill="none" stroke="#000" stroke-width="1.20"/>
<path d="M581.4,63.6 L596.8,77.0 L594.2,79.5 L579.1,65.8 Z" fill="none" stroke="#000" stroke-width="1.50"/>
<path d="M575.7,59.5 L580.4,63.6" fill="none" stroke="#000" stroke-width="1.20"/>
<path d="M595.3,79.5 L599.9,83.7" fill="none" stroke="#000" stroke-width="1.20"/>
<path d="M577.7,67.2 L592.5,81.1 L590.0,83.6 L575.5,69.3 Z" fill="none" stroke="#000" stroke-width="1.50"/>
<path d="M572.2,62.8 L576.7,67.1" fill="none" stroke="#000" stroke-width="1.20"/>
<path d="M591.0,83.6 L595.4,88.0" fill="none" stroke="#000" stroke-width="1.20"/>
<path d="M593.0,51.3 L572.2,71.4" fill="none" stroke="#000" stroke-width="1.30"/>
<path d="M611.8,63.8 L587.3,87.2" fill="none" stroke="#000" stroke-width="1.30"/>
<ellipse cx="584.2" cy="55.4" rx="2.8" ry="2.2" transform="rotate(33 584.2 55.4)" fill="#fff" stroke="#000" stroke-width="1"/>
<circle cx="584.2" cy="55.4" r="1" fill="none" stroke="#000" stroke-width="0.7"/>
<ellipse cx="597.0" cy="82.3" rx="2.8" ry="2.2" transform="rotate(33 597.0 82.3)" fill="#fff" stroke="#000" stroke-width="1"/>
<circle cx="597.0" cy="82.3" r="1" fill="none" stroke="#000" stroke-width="0.7"/>
<path d="M610.0,39.0 q-3,-1 -5,1 l-1,3 q3,2 6,0 Z" fill="#000" stroke="#000" stroke-width="1"/>
<circle cx="612.5" cy="40.5" r="3.3" fill="#fff" stroke="#000" stroke-width="1.1"/>
<path d="M642.0,62.7 q-3,-1 -5,1 l-1,3 q3,2 6,0 Z" fill="#000" stroke="#000" stroke-width="1"/>
<circle cx="644.5" cy="64.2" r="3.3" fill="#fff" stroke="#000" stroke-width="1.1"/>
<path d="M719.5,92.3 q-3,-1 -5,1 l-1,3 q3,2 6,0 Z" fill="#000" stroke="#000" stroke-width="1"/>
<circle cx="722.0" cy="93.8" r="3.3" fill="#fff" stroke="#000" stroke-width="1.1"/>
<path d="M697.0,142.3 q-3,-1 -5,1 l-1,3 q3,2 6,0 Z" fill="#000" stroke="#000" stroke-width="1"/>
<circle cx="699.5" cy="143.8" r="3.3" fill="#fff" stroke="#000" stroke-width="1.1"/>
<path d="M737.0,177.0 L737.1,177.8 L737.2,178.8 L737.3,179.9 L737.5,181.2 L737.6,182.5 L737.8,184.0 L738.0,185.5 L738.2,187.1 L738.4,188.8 L738.6,190.4 L738.8,192.1 L739.0,193.8 L739.3,195.4 L739.5,197.0 L739.8,198.5 L740.0,200.0 L740.2,201.4 L740.5,202.8 L740.7,204.3 L741.0,205.7 L741.2,207.2 L741.5,208.6 L741.8,210.0 L742.1,211.4 L742.4,212.8 L742.7,214.2 L743.0,215.6 L743.4,216.9 L743.7,218.3 L744.1,219.5 L744.5,220.8 L745.0,222.0 L745.5,223.2 L746.0,224.3 L746.5,225.4 L747.0,226.5 L747.6,227.5 L748.2,228.5 L748.8,229.5 L749.4,230.5 L750.0,231.5 L750.7,232.4 L751.3,233.3 L752.0,234.3 L752.7,235.2 L753.5,236.1 L754.2,237.1 L755.0,238.0 L755.8,238.9 L756.7,239.9 L757.6,240.9 L758.6,241.9 L759.7,242.9 L760.7,243.8 L761.8,244.8 L762.8,245.8 L763.9,246.7 L764.9,247.6 L765.9,248.4 L766.8,249.2 L767.7,250.0 L768.6,250.7 L769.3,251.4 L770.0,252.0 L770.6,252.5 L771.1,253.0 L771.6,253.4 L772.1,253.8 L772.5,254.1 L772.8,254.4 L773.1,254.7 L773.4,254.9 L773.7,255.1 L773.9,255.2 L774.1,255.4 L774.3,255.5 L774.5,255.6 L774.7,255.8 L774.8,255.9 L775.0,256.0" fill="none" stroke="#000" stroke-width="1.00"/>
<path d="M744.5,177.0 L744.6,177.8 L744.7,178.8 L744.8,179.9 L744.9,181.2 L745.0,182.6 L745.2,184.1 L745.3,185.7 L745.5,187.3 L745.7,189.0 L745.8,190.7 L746.0,192.3 L746.2,194.0 L746.4,195.6 L746.6,197.2 L746.8,198.6 L747.0,200.0 L747.2,201.3 L747.4,202.6 L747.6,203.9 L747.8,205.1 L748.0,206.4 L748.2,207.6 L748.4,208.9 L748.6,210.1 L748.8,211.2 L749.1,212.4 L749.3,213.6 L749.6,214.7 L749.9,215.8 L750.3,216.9 L750.6,218.0 L751.0,219.0 L751.4,220.0 L751.8,221.0 L752.3,221.9 L752.8,222.9 L753.2,223.8 L753.7,224.7 L754.3,225.5 L754.8,226.4 L755.4,227.2 L756.0,228.0 L756.6,228.9 L757.2,229.7 L757.9,230.5 L758.6,231.3 L759.3,232.2 L760.0,233.0 L760.8,233.8 L761.6,234.7 L762.6,235.6 L763.5,236.4 L764.5,237.3 L765.6,238.1 L766.6,239.0 L767.7,239.8 L768.7,240.6 L769.8,241.5 L770.8,242.3 L771.7,243.1 L772.7,243.8 L773.5,244.6 L774.3,245.3 L775.0,246.0 L775.6,246.7 L776.2,247.4 L776.8,248.1 L777.3,248.7 L777.7,249.4 L778.2,250.1 L778.6,250.7 L778.9,251.3 L779.3,251.9 L779.6,252.5 L779.9,253.0 L780.1,253.5 L780.4,253.9 L780.6,254.3 L780.8,254.7 L781.0,255.0" fill="none" stroke="#000" stroke-width="1.00"/>
<path d="M729.8,140.4 L764.2,134.5 L768.8,163.8 L744.7,168.3 L734.3,171.0 Z" fill="#fff" stroke="#000" stroke-width="1.10"/>
<path d="M734.3,147.5 L737.0,169.6" fill="none" stroke="#000" stroke-width="1.00"/>
<path d="M740.8,147.5 L744.7,168.3" fill="none" stroke="#000" stroke-width="1.00"/>
<path d="M731.0,141.0 L745.4,139.0 L745.4,146.9 L731.0,147.5 Z" fill="#fff" stroke="#000" stroke-width="1.00"/>
<path d="M743.4,126.5 L752.0,125.4 L754.5,136.0 L746.0,137.8 Z" fill="#fff" stroke="#000" stroke-width="1.10"/>
<path d="M746.5,129.0 L751.0,128.5 L752.0,134.0 L747.5,134.5 Z" fill="none" stroke="#000" stroke-width="0.90"/>
<path d="M731.7,170 Q739,167 746,170 L746,176 Q739,179 731.7,176 Z" fill="#fff" stroke="#000" stroke-width="1"/>
<path d="M750.6,167.0 L759.0,166.4 L761.0,174.0 L752.0,175.5 Z" fill="#fff" stroke="#000" stroke-width="1.00"/>
<circle cx="756" cy="171" r="1.8" fill="none" stroke="#000" stroke-width="0.8"/>
<path d="M757,256.5 L781,255.5 Q790,256 790.4,265 Q790,274 781,274 L757,275 Q752.8,274 752.8,265.5 Q753,257 757,256.5 Z" fill="#fff" stroke="#000" stroke-width="1.1"/>
<path d="M766.0,256.5 L768.0,274.5" fill="none" stroke="#000" stroke-width="0.90"/>
<path d="M753,259 L756,258 L756,274 L753,272 Z" fill="#000"/>
<path d="M786,257.5 Q791.5,260 791.5,265.5 Q791,271 786,273.5" fill="none" stroke="#000" stroke-width="2.2"/>
<path d="M310.3,352.2 L310.8,351.8 L311.2,351.5 L311.6,351.1 L311.9,350.7 L312.3,350.4 L312.6,350.1 L313.0,349.7 L313.3,349.4 L313.7,349.1 L314.1,348.8 L314.4,348.5 L314.8,348.2 L315.2,347.9 L315.5,347.6 L315.9,347.3 L316.3,347.1 L316.7,346.8 L317.1,346.6 L317.5,346.4 L317.9,346.2 L318.3,346.0 L318.7,345.8 L319.1,345.6 L319.5,345.5 L320.0,345.3 L320.4,345.2 L320.9,345.1 L321.3,345.0 L321.8,344.8 L322.3,344.7 L322.7,344.6 L323.2,344.5 L323.7,344.5 L324.2,344.4 L324.7,344.3 L325.1,344.2 L325.6,344.1 L326.1,344.0 L326.6,344.0 L327.1,343.9 L327.6,343.8 L328.1,343.8 L328.6,343.7 L329.0,343.6 L329.5,343.6 L330.0,343.5 L330.5,343.5 L331.0,343.4 L331.5,343.4 L332.0,343.3 L332.5,343.3 L333.0,343.2 L333.5,343.1 L334.0,343.1 L334.5,343.0 L335.0,343.0 L335.5,343.0 L336.0,342.9 L336.5,342.9 L337.0,342.8 L337.5,342.8 L338.0,342.7 L338.4,342.7 L338.9,342.6 L339.4,342.6 L339.9,342.5 L340.4,342.5 L340.9,342.4 L341.4,342.4 L341.9,342.3 L342.4,342.3 L342.9,342.3 L343.4,342.2 L343.9,342.2 L344.4,342.2 L344.9,342.1 L345.4,342.1 L345.9,342.1 L346.3,342.1 L346.8,342.0 L347.3,342.0 L347.8,342.0 L348.3,342.0 L348.8,342.0 L349.3,341.9 L349.8,341.9 L350.3,341.9 L350.8,341.9 L351.3,341.9 L351.8,341.9 L352.3,341.9 L352.8,341.9 L353.3,341.9 L353.8,341.8 L354.3,341.8 L354.8,341.8 L355.1,341.8 L354.9,338.8 L354.7,338.8 L354.2,338.8 L353.7,338.8 L353.2,338.9 L352.7,338.9 L352.2,338.9 L351.7,338.9 L351.2,338.9 L350.7,338.9 L350.2,338.9 L349.7,338.9 L349.2,338.9 L348.7,339.0 L348.2,339.0 L347.7,339.0 L347.2,339.0 L346.7,339.0 L346.2,339.1 L345.7,339.1 L345.2,339.1 L344.7,339.1 L344.2,339.2 L343.7,339.2 L343.2,339.2 L342.7,339.3 L342.2,339.3 L341.7,339.3 L341.2,339.4 L340.7,339.4 L340.1,339.5 L339.6,339.5 L339.1,339.6 L338.7,339.6 L338.2,339.7 L337.7,339.7 L337.2,339.8 L336.7,339.8 L336.2,339.9 L335.7,339.9 L335.2,340.0 L334.7,340.0 L334.2,340.1 L333.7,340.1 L333.2,340.2 L332.7,340.2 L332.2,340.3 L331.7,340.3 L331.2,340.4 L330.7,340.4 L330.2,340.5 L329.7,340.5 L329.2,340.6 L328.7,340.7 L328.2,340.7 L327.7,340.8 L327.2,340.9 L326.7,340.9 L326.2,341.0 L325.7,341.1 L325.2,341.2 L324.7,341.2 L324.2,341.3 L323.6,341.4 L323.1,341.5 L322.6,341.6 L322.1,341.7 L321.6,341.8 L321.1,341.9 L320.6,342.0 L320.1,342.2 L319.6,342.3 L319.1,342.5 L318.6,342.6 L318.1,342.8 L317.5,343.0 L317.0,343.2 L316.5,343.5 L316.1,343.7 L315.6,344.0 L315.1,344.3 L314.7,344.6 L314.2,344.9 L313.8,345.2 L313.3,345.5 L312.9,345.8 L312.5,346.1 L312.1,346.5 L311.7,346.8 L311.3,347.2 L310.9,347.5 L310.6,347.9 L310.2,348.2 L309.8,348.6 L309.5,348.9 L309.1,349.3 L308.8,349.5 L308.5,349.8 Z" fill="#fff" stroke="none"/><path d="M310.3,352.2 L310.8,351.8 L311.2,351.5 L311.6,351.1 L311.9,350.7 L312.3,350.4 L312.6,350.1 L313.0,349.7 L313.3,349.4 L313.7,349.1 L314.1,348.8 L314.4,348.5 L314.8,348.2 L315.2,347.9 L315.5,347.6 L315.9,347.3 L316.3,347.1 L316.7,346.8 L317.1,346.6 L317.5,346.4 L317.9,346.2 L318.3,346.0 L318.7,345.8 L319.1,345.6 L319.5,345.5 L320.0,345.3 L320.4,345.2 L320.9,345.1 L321.3,345.0 L321.8,344.8 L322.3,344.7 L322.7,344.6 L323.2,344.5 L323.7,344.5 L324.2,344.4 L324.7,344.3 L325.1,344.2 L325.6,344.1 L326.1,344.0 L326.6,344.0 L327.1,343.9 L327.6,343.8 L328.1,343.8 L328.6,343.7 L329.0,343.6 L329.5,343.6 L330.0,343.5 L330.5,343.5 L331.0,343.4 L331.5,343.4 L332.0,343.3 L332.5,343.3 L333.0,343.2 L333.5,343.1 L334.0,343.1 L334.5,343.0 L335.0,343.0 L335.5,343.0 L336.0,342.9 L336.5,342.9 L337.0,342.8 L337.5,342.8 L338.0,342.7 L338.4,342.7 L338.9,342.6 L339.4,342.6 L339.9,342.5 L340.4,342.5 L340.9,342.4 L341.4,342.4 L341.9,342.3 L342.4,342.3 L342.9,342.3 L343.4,342.2 L343.9,342.2 L344.4,342.2 L344.9,342.1 L345.4,342.1 L345.9,342.1 L346.3,342.1 L346.8,342.0 L347.3,342.0 L347.8,342.0 L348.3,342.0 L348.8,342.0 L349.3,341.9 L349.8,341.9 L350.3,341.9 L350.8,341.9 L351.3,341.9 L351.8,341.9 L352.3,341.9 L352.8,341.9 L353.3,341.9 L353.8,341.8 L354.3,341.8 L354.8,341.8 L355.1,341.8" fill="none" stroke="#000" stroke-width="0.90"/><path d="M308.5,349.8 L308.8,349.5 L309.1,349.3 L309.5,348.9 L309.8,348.6 L310.2,348.2 L310.6,347.9 L310.9,347.5 L311.3,347.2 L311.7,346.8 L312.1,346.5 L312.5,346.1 L312.9,345.8 L313.3,345.5 L313.8,345.2 L314.2,344.9 L314.7,344.6 L315.1,344.3 L315.6,344.0 L316.1,343.7 L316.5,343.5 L317.0,343.2 L317.5,343.0 L318.1,342.8 L318.6,342.6 L319.1,342.5 L319.6,342.3 L320.1,342.2 L320.6,342.0 L321.1,341.9 L321.6,341.8 L322.1,341.7 L322.6,341.6 L323.1,341.5 L323.6,341.4 L324.2,341.3 L324.7,341.2 L325.2,341.2 L325.7,341.1 L326.2,341.0 L326.7,340.9 L327.2,340.9 L327.7,340.8 L328.2,340.7 L328.7,340.7 L329.2,340.6 L329.7,340.5 L330.2,340.5 L330.7,340.4 L331.2,340.4 L331.7,340.3 L332.2,340.3 L332.7,340.2 L333.2,340.2 L333.7,340.1 L334.2,340.1 L334.7,340.0 L335.2,340.0 L335.7,339.9 L336.2,339.9 L336.7,339.8 L337.2,339.8 L337.7,339.7 L338.2,339.7 L338.7,339.6 L339.1,339.6 L339.6,339.5 L340.1,339.5 L340.7,339.4 L341.2,339.4 L341.7,339.3 L342.2,339.3 L342.7,339.3 L343.2,339.2 L343.7,339.2 L344.2,339.2 L344.7,339.1 L345.2,339.1 L345.7,339.1 L346.2,339.1 L346.7,339.0 L347.2,339.0 L347.7,339.0 L348.2,339.0 L348.7,339.0 L349.2,338.9 L349.7,338.9 L350.2,338.9 L350.7,338.9 L351.2,338.9 L351.7,338.9 L352.2,338.9 L352.7,338.9 L353.2,338.9 L353.7,338.8 L354.2,338.8 L354.7,338.8 L354.9,338.8" fill="none" stroke="#000" stroke-width="0.90"/><path d="M311.9,350.7 L310.9,347.5 M314.8,348.2 L314.2,344.9 M317.9,346.2 L318.1,342.8 M321.3,345.0 L322.1,341.7 M325.1,344.2 L326.2,341.0 M329.0,343.6 L330.2,340.5 M333.0,343.2 L334.2,340.1 M337.0,342.8 L338.2,339.7 M340.9,342.4 L342.2,339.3 M344.9,342.1 L346.2,339.1 M348.8,342.0 L350.2,338.9 M352.8,341.9 L354.2,338.8" fill="none" stroke="#000" stroke-width="0.81"/>
<path d="M309.4,357.9 L309.9,357.9 L310.4,357.9 L310.9,357.9 L311.4,357.9 L311.9,358.0 L312.4,358.0 L312.9,358.0 L313.4,358.0 L313.9,358.0 L314.4,358.0 L314.9,358.0 L315.4,358.0 L315.9,358.0 L316.4,358.1 L316.9,358.1 L317.4,358.1 L317.9,358.1 L318.4,358.1 L318.9,358.1 L319.4,358.1 L319.9,358.1 L320.4,358.1 L320.9,358.2 L321.4,358.2 L321.9,358.2 L322.4,358.2 L322.9,358.2 L323.4,358.2 L323.9,358.2 L324.4,358.2 L324.9,358.2 L325.4,358.2 L325.9,358.3 L326.4,358.3 L326.9,358.3 L327.4,358.3 L327.9,358.3 L328.4,358.3 L328.9,358.3 L329.4,358.3 L329.9,358.3 L330.4,358.3 L330.9,358.4 L331.4,358.4 L331.9,358.4 L332.4,358.4 L332.9,358.4 L333.4,358.4 L333.9,358.4 L334.4,358.4 L334.9,358.4 L335.4,358.4 L335.9,358.4 L336.4,358.4 L336.9,358.5 L337.4,358.5 L337.9,358.5 L338.4,358.5 L338.9,358.5 L339.4,358.5 L339.9,358.5 L340.4,358.5 L340.9,358.5 L341.4,358.5 L341.9,358.5 L342.4,358.5 L342.9,358.5 L343.4,358.5 L343.9,358.5 L344.4,358.6 L344.9,358.6 L345.4,358.6 L345.9,358.6 L346.4,358.6 L346.9,358.6 L347.4,358.6 L347.9,358.6 L348.4,358.6 L348.9,358.6 L349.4,358.6 L349.9,358.6 L350.4,358.6 L350.9,358.6 L351.4,358.6 L351.9,358.6 L352.4,358.6 L352.9,358.6 L353.4,358.6 L353.9,358.6 L354.4,358.6 L354.9,358.6 L355.4,358.6 L355.9,358.7 L356.4,358.7 L356.9,358.7 L357.4,358.7 L357.9,358.7 L358.4,358.7 L358.9,358.7 L359.4,358.7 L359.9,358.7 L360.4,358.7 L360.9,358.7 L361.4,358.7 L361.9,358.7 L362.4,358.7 L362.9,358.7 L363.4,358.7 L363.9,358.7 L364.4,358.7 L364.9,358.7 L365.4,358.7 L365.9,358.7 L366.4,358.7 L366.9,358.7 L367.4,358.7 L367.9,358.7 L368.4,358.7 L368.9,358.7 L369.4,358.7 L369.9,358.7 L370.4,358.7 L370.9,358.8 L371.4,358.8 L371.9,358.8 L372.4,358.8 L372.9,358.8 L373.4,358.8 L373.9,358.8 L374.4,358.8 L374.9,358.8 L375.4,358.8 L375.9,358.8 L376.4,358.8 L376.9,358.8 L377.4,358.8 L377.9,358.8 L378.0,358.8 L378.0,355.8 L377.9,355.8 L377.4,355.8 L376.9,355.8 L376.4,355.8 L375.9,355.8 L375.4,355.8 L374.9,355.8 L374.4,355.8 L373.9,355.8 L373.4,355.8 L372.9,355.8 L372.4,355.8 L371.9,355.8 L371.4,355.8 L370.9,355.8 L370.4,355.7 L369.9,355.7 L369.4,355.7 L368.9,355.7 L368.4,355.7 L367.9,355.7 L367.4,355.7 L366.9,355.7 L366.4,355.7 L365.9,355.7 L365.4,355.7 L364.9,355.7 L364.4,355.7 L363.9,355.7 L363.4,355.7 L362.9,355.7 L362.4,355.7 L361.9,355.7 L361.4,355.7 L360.9,355.7 L360.4,355.7 L359.9,355.7 L359.4,355.7 L358.9,355.7 L358.4,355.7 L357.9,355.7 L357.4,355.7 L356.9,355.7 L356.4,355.7 L355.9,355.7 L355.4,355.6 L354.9,355.6 L354.4,355.6 L353.9,355.6 L353.4,355.6 L352.9,355.6 L352.4,355.6 L351.9,355.6 L351.4,355.6 L350.9,355.6 L350.4,355.6 L349.9,355.6 L349.4,355.6 L348.9,355.6 L348.4,355.6 L347.9,355.6 L347.4,355.6 L346.9,355.6 L346.4,355.6 L345.9,355.6 L345.4,355.6 L344.9,355.6 L344.4,355.6 L343.9,355.5 L343.4,355.5 L342.9,355.5 L342.4,355.5 L341.9,355.5 L341.4,355.5 L340.9,355.5 L340.4,355.5 L339.9,355.5 L339.4,355.5 L338.9,355.5 L338.4,355.5 L337.9,355.5 L337.4,355.5 L336.9,355.5 L336.4,355.4 L335.9,355.4 L335.4,355.4 L334.9,355.4 L334.4,355.4 L333.9,355.4 L333.4,355.4 L332.9,355.4 L332.4,355.4 L331.9,355.4 L331.4,355.4 L330.9,355.4 L330.4,355.3 L329.9,355.3 L329.4,355.3 L328.9,355.3 L328.4,355.3 L327.9,355.3 L327.4,355.3 L326.9,355.3 L326.4,355.3 L325.9,355.3 L325.4,355.2 L324.9,355.2 L324.4,355.2 L323.9,355.2 L323.4,355.2 L322.9,355.2 L322.4,355.2 L321.9,355.2 L321.4,355.2 L320.9,355.2 L320.4,355.1 L319.9,355.1 L319.4,355.1 L318.9,355.1 L318.4,355.1 L317.9,355.1 L317.4,355.1 L316.9,355.1 L316.4,355.1 L315.9,355.0 L315.4,355.0 L314.9,355.0 L314.4,355.0 L313.9,355.0 L313.4,355.0 L312.9,355.0 L312.4,355.0 L311.9,355.0 L311.4,354.9 L310.9,354.9 L310.4,354.9 L309.9,354.9 L309.4,354.9 Z" fill="#fff" stroke="none"/><path d="M309.4,357.9 L309.9,357.9 L310.4,357.9 L310.9,357.9 L311.4,357.9 L311.9,358.0 L312.4,358.0 L312.9,358.0 L313.4,358.0 L313.9,358.0 L314.4,358.0 L314.9,358.0 L315.4,358.0 L315.9,358.0 L316.4,358.1 L316.9,358.1 L317.4,358.1 L317.9,358.1 L318.4,358.1 L318.9,358.1 L319.4,358.1 L319.9,358.1 L320.4,358.1 L320.9,358.2 L321.4,358.2 L321.9,358.2 L322.4,358.2 L322.9,358.2 L323.4,358.2 L323.9,358.2 L324.4,358.2 L324.9,358.2 L325.4,358.2 L325.9,358.3 L326.4,358.3 L326.9,358.3 L327.4,358.3 L327.9,358.3 L328.4,358.3 L328.9,358.3 L329.4,358.3 L329.9,358.3 L330.4,358.3 L330.9,358.4 L331.4,358.4 L331.9,358.4 L332.4,358.4 L332.9,358.4 L333.4,358.4 L333.9,358.4 L334.4,358.4 L334.9,358.4 L335.4,358.4 L335.9,358.4 L336.4,358.4 L336.9,358.5 L337.4,358.5 L337.9,358.5 L338.4,358.5 L338.9,358.5 L339.4,358.5 L339.9,358.5 L340.4,358.5 L340.9,358.5 L341.4,358.5 L341.9,358.5 L342.4,358.5 L342.9,358.5 L343.4,358.5 L343.9,358.5 L344.4,358.6 L344.9,358.6 L345.4,358.6 L345.9,358.6 L346.4,358.6 L346.9,358.6 L347.4,358.6 L347.9,358.6 L348.4,358.6 L348.9,358.6 L349.4,358.6 L349.9,358.6 L350.4,358.6 L350.9,358.6 L351.4,358.6 L351.9,358.6 L352.4,358.6 L352.9,358.6 L353.4,358.6 L353.9,358.6 L354.4,358.6 L354.9,358.6 L355.4,358.6 L355.9,358.7 L356.4,358.7 L356.9,358.7 L357.4,358.7 L357.9,358.7 L358.4,358.7 L358.9,358.7 L359.4,358.7 L359.9,358.7 L360.4,358.7 L360.9,358.7 L361.4,358.7 L361.9,358.7 L362.4,358.7 L362.9,358.7 L363.4,358.7 L363.9,358.7 L364.4,358.7 L364.9,358.7 L365.4,358.7 L365.9,358.7 L366.4,358.7 L366.9,358.7 L367.4,358.7 L367.9,358.7 L368.4,358.7 L368.9,358.7 L369.4,358.7 L369.9,358.7 L370.4,358.7 L370.9,358.8 L371.4,358.8 L371.9,358.8 L372.4,358.8 L372.9,358.8 L373.4,358.8 L373.9,358.8 L374.4,358.8 L374.9,358.8 L375.4,358.8 L375.9,358.8 L376.4,358.8 L376.9,358.8 L377.4,358.8 L377.9,358.8 L378.0,358.8" fill="none" stroke="#000" stroke-width="0.90"/><path d="M309.4,354.9 L309.9,354.9 L310.4,354.9 L310.9,354.9 L311.4,354.9 L311.9,355.0 L312.4,355.0 L312.9,355.0 L313.4,355.0 L313.9,355.0 L314.4,355.0 L314.9,355.0 L315.4,355.0 L315.9,355.0 L316.4,355.1 L316.9,355.1 L317.4,355.1 L317.9,355.1 L318.4,355.1 L318.9,355.1 L319.4,355.1 L319.9,355.1 L320.4,355.1 L320.9,355.2 L321.4,355.2 L321.9,355.2 L322.4,355.2 L322.9,355.2 L323.4,355.2 L323.9,355.2 L324.4,355.2 L324.9,355.2 L325.4,355.2 L325.9,355.3 L326.4,355.3 L326.9,355.3 L327.4,355.3 L327.9,355.3 L328.4,355.3 L328.9,355.3 L329.4,355.3 L329.9,355.3 L330.4,355.3 L330.9,355.4 L331.4,355.4 L331.9,355.4 L332.4,355.4 L332.9,355.4 L333.4,355.4 L333.9,355.4 L334.4,355.4 L334.9,355.4 L335.4,355.4 L335.9,355.4 L336.4,355.4 L336.9,355.5 L337.4,355.5 L337.9,355.5 L338.4,355.5 L338.9,355.5 L339.4,355.5 L339.9,355.5 L340.4,355.5 L340.9,355.5 L341.4,355.5 L341.9,355.5 L342.4,355.5 L342.9,355.5 L343.4,355.5 L343.9,355.5 L344.4,355.6 L344.9,355.6 L345.4,355.6 L345.9,355.6 L346.4,355.6 L346.9,355.6 L347.4,355.6 L347.9,355.6 L348.4,355.6 L348.9,355.6 L349.4,355.6 L349.9,355.6 L350.4,355.6 L350.9,355.6 L351.4,355.6 L351.9,355.6 L352.4,355.6 L352.9,355.6 L353.4,355.6 L353.9,355.6 L354.4,355.6 L354.9,355.6 L355.4,355.6 L355.9,355.7 L356.4,355.7 L356.9,355.7 L357.4,355.7 L357.9,355.7 L358.4,355.7 L358.9,355.7 L359.4,355.7 L359.9,355.7 L360.4,355.7 L360.9,355.7 L361.4,355.7 L361.9,355.7 L362.4,355.7 L362.9,355.7 L363.4,355.7 L363.9,355.7 L364.4,355.7 L364.9,355.7 L365.4,355.7 L365.9,355.7 L366.4,355.7 L366.9,355.7 L367.4,355.7 L367.9,355.7 L368.4,355.7 L368.9,355.7 L369.4,355.7 L369.9,355.7 L370.4,355.7 L370.9,355.8 L371.4,355.8 L371.9,355.8 L372.4,355.8 L372.9,355.8 L373.4,355.8 L373.9,355.8 L374.4,355.8 L374.9,355.8 L375.4,355.8 L375.9,355.8 L376.4,355.8 L376.9,355.8 L377.4,355.8 L377.9,355.8 L378.0,355.8" fill="none" stroke="#000" stroke-width="0.90"/><path d="M311.4,357.9 L312.9,355.0 M315.4,358.0 L316.9,355.1 M319.4,358.1 L320.9,355.2 M323.4,358.2 L324.9,355.2 M327.4,358.3 L328.9,355.3 M331.4,358.4 L332.9,355.4 M335.4,358.4 L336.9,355.5 M339.4,358.5 L340.9,355.5 M343.4,358.5 L344.9,355.6 M347.4,358.6 L348.9,355.6 M351.4,358.6 L352.9,355.6 M355.4,358.6 L356.9,355.7 M359.4,358.7 L360.9,355.7 M363.4,358.7 L364.9,355.7 M367.4,358.7 L368.9,355.7 M371.4,358.8 L372.9,355.8 M375.4,358.8 L376.9,355.8" fill="none" stroke="#000" stroke-width="0.81"/>
<path d="M309.4,358.0 L310.0,358.2 L310.7,358.5 L311.5,358.9 L312.3,359.2 L313.3,359.6 L314.3,360.1 L315.4,360.5 L316.5,361.0 L317.7,361.5 L318.9,362.0 L320.1,362.5 L321.4,363.1 L322.6,363.6 L323.9,364.2 L325.1,364.7 L326.3,365.3 L327.5,365.9 L328.8,366.5 L330.0,367.2 L331.3,367.9 L332.7,368.6 L334.0,369.4 L335.4,370.1 L336.7,370.9 L338.1,371.6 L339.5,372.4 L340.9,373.1 L342.3,373.7 L343.6,374.4 L345.0,375.0 L346.4,375.5 L347.7,376.0 L349.1,376.4 L350.5,376.8 L352.0,377.2 L353.5,377.5 L355.1,377.8 L356.6,378.0 L358.2,378.3 L359.7,378.5 L361.2,378.7 L362.6,378.8 L363.9,379.0 L365.2,379.1 L366.3,379.2 L367.4,379.4 L368.3,379.5 L369.0,379.6" fill="none" stroke="#000" stroke-width="0.90"/>
<path d="M309.4,360.0 L310.0,360.3 L310.7,360.6 L311.4,361.0 L312.3,361.4 L313.2,361.8 L314.2,362.3 L315.3,362.8 L316.4,363.3 L317.5,363.9 L318.7,364.4 L319.9,365.0 L321.2,365.6 L322.4,366.2 L323.6,366.8 L324.8,367.4 L326.0,368.0 L327.2,368.6 L328.4,369.3 L329.7,370.0 L330.9,370.7 L332.2,371.5 L333.5,372.2 L334.8,373.0 L336.2,373.8 L337.5,374.5 L338.9,375.3 L340.2,376.0 L341.6,376.7 L342.9,377.4 L344.3,378.0 L345.7,378.5 L347.0,379.0 L348.4,379.4 L349.9,379.8 L351.4,380.2 L352.9,380.5 L354.5,380.8 L356.1,381.0 L357.7,381.2 L359.3,381.4 L360.8,381.6 L362.3,381.8 L363.7,381.9 L365.0,382.0 L366.2,382.2 L367.3,382.3 L368.2,382.4 L369.0,382.5" fill="none" stroke="#000" stroke-width="0.90"/>
<path d="M309.4,359.0 L309.6,359.7 L309.8,360.5 L310.1,361.5 L310.4,362.6 L310.7,363.8 L311.1,365.1 L311.4,366.5 L311.8,367.8 L312.2,369.2 L312.7,370.6 L313.1,372.0 L313.6,373.4 L314.1,374.6 L314.6,375.8 L315.1,376.9 L315.6,377.8 L316.2,378.6 L316.8,379.4 L317.5,380.2 L318.2,380.9 L319.0,381.6 L319.8,382.3 L320.5,382.9 L321.3,383.4 L322.1,384.0 L322.9,384.4 L323.6,384.9 L324.3,385.3 L324.9,385.7 L325.4,386.1 L325.9,386.4 L326.3,386.7" fill="none" stroke="#000" stroke-width="0.90"/>
<path d="M311.5,359.0 L311.7,359.6 L312.0,360.5 L312.3,361.4 L312.6,362.5 L312.9,363.6 L313.3,364.9 L313.7,366.2 L314.1,367.5 L314.5,368.8 L315.0,370.2 L315.5,371.5 L315.9,372.8 L316.4,374.0 L317.0,375.1 L317.5,376.1 L318.0,377.0 L318.6,377.8 L319.2,378.5 L319.9,379.2 L320.6,379.9 L321.3,380.5 L322.1,381.1 L322.9,381.6 L323.7,382.1 L324.4,382.6 L325.2,383.0 L325.9,383.4 L326.5,383.8 L327.1,384.1 L327.7,384.5 L328.1,384.7 L328.5,385.0" fill="none" stroke="#000" stroke-width="0.90"/>
<path d="M355.4,337.3 L365.1,332.1 L368.1,337.8 L358.4,343.0 Z" fill="#fff" stroke="#000" stroke-width="1.00"/>
<path d="M358.9,335.4 L361.9,341.1" fill="none" stroke="#000" stroke-width="0.80"/>
<path d="M364.0,330.1 L376.4,323.5 L382.0,333.0 L369.2,339.8 Z" fill="#fff" stroke="#000" stroke-width="1.10"/>
<path d="M364.0,330.1 L365.1,327.8 L375.7,322.2 L376.4,323.5" fill="none" stroke="#000" stroke-width="0.90"/>
<path d="M364.3,331.7 L367.4,330.0 L371.1,337.1 L368.1,338.7 Z" fill="#000" stroke="#000" stroke-width="0.6"/>
<path d="M369.9,330.4 L376.9,326.7" fill="none" stroke="#000" stroke-width="0.70"/>
<path d="M371.0,332.6 L378.1,328.9" fill="none" stroke="#000" stroke-width="0.70"/>
<path d="M372.2,334.8 L379.3,331.1" fill="none" stroke="#000" stroke-width="0.70"/>
<path d="M377,353 L387,352 Q391.6,354 391.6,360 Q391,366.5 387,367.4 L378,367 Z" fill="#fff" stroke="#000" stroke-width="1.1"/>
<path d="M376.0,354.0 L381.0,353.5 L382.0,366.5 L376.5,366.0 Z" fill="#000" stroke="#000" stroke-width="0.6"/>
<path d="M383.0,359.0 L389.0,359.0" fill="none" stroke="#000" stroke-width="1.00"/>
<path d="M386.0,355.0 L386.0,364.0" fill="none" stroke="#000" stroke-width="0.80"/>
<path d="M366.5,376.0 L373.0,375.1 L381.9,378.0 L380.0,385.6 L370.0,385.0 Z" fill="#000" stroke="#000" stroke-width="0.6"/>
<path d="M371.0,377.0 L372.0,384.0" fill="none" stroke="#fff" stroke-width="0.70"/>
<path d="M373.6,377.0 L374.6,384.0" fill="none" stroke="#fff" stroke-width="0.70"/>
<path d="M376.2,377.0 L377.2,384.0" fill="none" stroke="#fff" stroke-width="0.70"/>
<path d="M378.8,377.0 L379.8,384.0" fill="none" stroke="#fff" stroke-width="0.70"/>
<path d="M324.6,388.0 L333.0,383.5 L344.2,386.0 L342.0,393.0 L330.0,393.5 Z" fill="#fff" stroke="#000" stroke-width="1.00"/>
<path d="M325,387 L331,384 L333,392 L327,393 Z" fill="#000"/>
<path d="M214.3,321.0 L214.2,320.7 L214.1,320.3 L214.0,319.8 L213.9,319.3 L213.7,318.7 L213.5,318.1 L213.4,317.5 L213.2,316.8 L213.0,316.1 L212.9,315.5 L212.7,314.8 L212.5,314.2 L212.4,313.6 L212.2,313.0 L212.1,312.5 L212.0,312.0 L211.9,311.6 L211.8,311.1 L211.7,310.7 L211.6,310.4 L211.6,310.0 L211.5,309.6 L211.4,309.3 L211.4,308.9 L211.3,308.6 L211.2,308.3 L211.2,308.1 L211.1,307.8 L211.1,307.6 L211.1,307.4 L211.0,307.2 L211.0,307.0" fill="none" stroke="#000" stroke-width="0.90"/>
<path d="M216.5,321.0 L216.4,320.7 L216.3,320.3 L216.2,319.8 L216.1,319.3 L216.0,318.7 L215.9,318.1 L215.7,317.5 L215.6,316.8 L215.4,316.1 L215.3,315.5 L215.1,314.8 L215.0,314.2 L214.8,313.6 L214.7,313.0 L214.6,312.5 L214.5,312.0 L214.4,311.6 L214.3,311.1 L214.2,310.7 L214.2,310.4 L214.1,310.0 L214.0,309.6 L213.9,309.3 L213.9,308.9 L213.8,308.6 L213.8,308.3 L213.7,308.1 L213.7,307.8 L213.6,307.6 L213.6,307.4 L213.5,307.2 L213.5,307.0" fill="none" stroke="#000" stroke-width="0.90"/>
<path d="M218.4,319.7 L218.6,319.2 L218.9,318.6 L219.3,317.9 L219.6,317.1 L220.0,316.2 L220.5,315.3 L220.9,314.3 L221.4,313.3 L221.9,312.2 L222.4,311.2 L222.8,310.1 L223.3,309.0 L223.8,308.0 L224.2,307.0 L224.6,306.0 L225.0,305.0 L225.4,304.0 L225.7,303.0 L226.1,302.0 L226.5,300.9 L226.8,299.8 L227.2,298.7 L227.6,297.7 L227.9,296.6 L228.2,295.5 L228.6,294.5 L228.9,293.6 L229.1,292.7 L229.4,291.9 L229.6,291.2 L229.8,290.5 L230.0,290.0" fill="none" stroke="#000" stroke-width="0.90"/>
<path d="M220.5,320.0 L220.7,319.5 L221.0,318.9 L221.3,318.3 L221.7,317.5 L222.1,316.7 L222.5,315.8 L222.9,314.9 L223.4,314.0 L223.9,313.0 L224.4,312.0 L224.8,311.0 L225.3,309.9 L225.8,308.9 L226.2,307.9 L226.6,306.9 L227.0,306.0 L227.4,305.0 L227.8,304.0 L228.2,303.0 L228.6,301.9 L229.0,300.7 L229.4,299.6 L229.8,298.5 L230.2,297.4 L230.5,296.3 L230.9,295.2 L231.2,294.2 L231.5,293.3 L231.8,292.5 L232.1,291.7 L232.3,291.0 L232.5,290.5" fill="none" stroke="#000" stroke-width="0.90"/>
<path d="M203.9,291.3 L214.2,303.6 L208.1,308.7 L197.8,296.4 Z" fill="#fff" stroke="#000" stroke-width="1.00"/>
<path d="M203.9,291.3 L206.7,291.5 L217.0,303.8 L214.2,303.6" fill="none" stroke="#000" stroke-width="0.90"/>
<path d="M201.8,293.1 L209.2,301.9" fill="none" stroke="#000" stroke-width="0.90"/>
<path d="M200.1,295.2 L206.9,303.2" fill="none" stroke="#000" stroke-width="0.80"/>
<path d="M212.5,299.1 L215.6,303.7 L208.7,310.2 L204.4,305.9 Z" fill="#000" stroke="#000" stroke-width="0.6"/>
<circle cx="210.6" cy="303.6" r="0.6" fill="#fff"/>
<circle cx="208.5" cy="305.4" r="0.6" fill="#fff"/>
<path d="M225.9,275.3 L236.2,287.6 L230.1,292.7 L219.8,280.4 Z" fill="#fff" stroke="#000" stroke-width="1.00"/>
<path d="M225.9,275.3 L228.7,275.5 L239.0,287.8 L236.2,287.6" fill="none" stroke="#000" stroke-width="0.90"/>
<path d="M223.8,277.1 L231.2,285.9" fill="none" stroke="#000" stroke-width="0.90"/>
<path d="M222.1,279.2 L228.9,287.2" fill="none" stroke="#000" stroke-width="0.80"/>
<path d="M234.5,283.1 L237.6,287.7 L230.7,294.2 L226.4,289.9 Z" fill="#000" stroke="#000" stroke-width="0.6"/>
<circle cx="232.6" cy="287.6" r="0.6" fill="#fff"/>
<circle cx="230.5" cy="289.4" r="0.6" fill="#fff"/>
<path d="M191.4,360.0 L191.1,360.6 L190.7,361.3 L190.2,362.0 L189.7,362.9 L189.2,363.9 L188.6,364.9 L188.0,366.0 L187.4,367.1 L186.7,368.3 L186.0,369.5 L185.4,370.6 L184.7,371.8 L184.0,372.9 L183.3,374.0 L182.6,375.0 L182.0,376.0 L181.3,376.9 L180.6,377.9 L179.9,378.9 L179.1,379.9 L178.4,380.9 L177.6,381.9 L176.8,382.9 L176.0,383.9 L175.3,384.8 L174.5,385.7 L173.8,386.5 L173.2,387.3 L172.6,388.0 L172.0,388.7 L171.6,389.2 L171.2,389.7" fill="none" stroke="#000" stroke-width="0.90"/>
<path d="M193.4,361.0 L193.1,361.6 L192.7,362.3 L192.2,363.1 L191.7,363.9 L191.2,364.9 L190.6,366.0 L190.0,367.1 L189.4,368.2 L188.7,369.3 L188.0,370.5 L187.4,371.7 L186.7,372.8 L186.0,374.0 L185.3,375.0 L184.6,376.1 L184.0,377.0 L183.3,377.9 L182.6,378.9 L181.9,379.8 L181.1,380.8 L180.4,381.7 L179.6,382.7 L178.8,383.6 L178.0,384.5 L177.3,385.4 L176.5,386.2 L175.8,387.0 L175.2,387.7 L174.6,388.4 L174.0,389.0 L173.6,389.6 L173.2,390.0" fill="none" stroke="#000" stroke-width="0.90"/>
<path d="M154.0,389.0 L166.0,386.0 L172.6,390.0 L171.0,396.5 L155.0,396.0 Z" fill="#fff" stroke="#000" stroke-width="1.00"/>
<path d="M154.0,392.5 L168.0,391.0" fill="none" stroke="#000" stroke-width="0.80"/>
<path d="M166,386 L172.6,389 L171,396.5 L165,396 Z" fill="#000"/>
<path d="M123.7,294.9 L124.1,295.1 L124.5,295.4 L125.0,295.6 L125.4,295.9 L125.8,296.1 L126.3,296.4 L126.7,296.7 L127.1,296.9 L127.5,297.2 L128.0,297.4 L128.4,297.7 L128.8,297.9 L129.3,298.2 L129.7,298.5 L130.1,298.7 L130.5,299.0 L131.0,299.2 L131.4,299.5 L131.8,299.7 L132.3,300.0 L132.7,300.3 L133.1,300.5 L133.5,300.8 L134.0,301.0 L134.4,301.3 L134.8,301.5 L135.3,301.8 L135.7,302.1 L136.1,302.3 L136.5,302.6 L137.0,302.8 L137.4,303.1 L137.8,303.3 L138.3,303.6 L138.7,303.9 L143.3,296.1 L142.9,295.9 L142.5,295.6 L142.0,295.4 L141.6,295.1 L141.2,294.9 L140.7,294.6 L140.3,294.3 L139.9,294.1 L139.5,293.8 L139.0,293.6 L138.6,293.3 L138.2,293.1 L137.7,292.8 L137.3,292.5 L136.9,292.3 L136.5,292.0 L136.0,291.8 L135.6,291.5 L135.2,291.3 L134.7,291.0 L134.3,290.7 L133.9,290.5 L133.5,290.2 L133.0,290.0 L132.6,289.7 L132.2,289.5 L131.7,289.2 L131.3,288.9 L130.9,288.7 L130.5,288.4 L130.0,288.2 L129.6,287.9 L129.2,287.7 L128.7,287.4 L128.3,287.1 Z" fill="#fff" stroke="none"/><path d="M123.7,294.9 L124.1,295.1 L124.5,295.4 L125.0,295.6 L125.4,295.9 L125.8,296.1 L126.3,296.4 L126.7,296.7 L127.1,296.9 L127.5,297.2 L128.0,297.4 L128.4,297.7 L128.8,297.9 L129.3,298.2 L129.7,298.5 L130.1,298.7 L130.5,299.0 L131.0,299.2 L131.4,299.5 L131.8,299.7 L132.3,300.0 L132.7,300.3 L133.1,300.5 L133.5,300.8 L134.0,301.0 L134.4,301.3 L134.8,301.5 L135.3,301.8 L135.7,302.1 L136.1,302.3 L136.5,302.6 L137.0,302.8 L137.4,303.1 L137.8,303.3 L138.3,303.6 L138.7,303.9" fill="none" stroke="#000" stroke-width="1.10"/><path d="M128.3,287.1 L128.7,287.4 L129.2,287.7 L129.6,287.9 L130.0,288.2 L130.5,288.4 L130.9,288.7 L131.3,288.9 L131.7,289.2 L132.2,289.5 L132.6,289.7 L133.0,290.0 L133.5,290.2 L133.9,290.5 L134.3,290.7 L134.7,291.0 L135.2,291.3 L135.6,291.5 L136.0,291.8 L136.5,292.0 L136.9,292.3 L137.3,292.5 L137.7,292.8 L138.2,293.1 L138.6,293.3 L139.0,293.6 L139.5,293.8 L139.9,294.1 L140.3,294.3 L140.7,294.6 L141.2,294.9 L141.6,295.1 L142.0,295.4 L142.5,295.6 L142.9,295.9 L143.3,296.1" fill="none" stroke="#000" stroke-width="1.10"/><path d="M124.1,295.1 L130.0,288.2 M125.0,295.6 L130.9,288.7 M125.8,296.1 L131.7,289.2 M126.7,296.7 L132.6,289.7 M127.5,297.2 L133.5,290.2 M128.4,297.7 L134.3,290.7 M129.3,298.2 L135.2,291.3 M130.1,298.7 L136.0,291.8 M131.0,299.2 L136.9,292.3 M131.8,299.7 L137.7,292.8 M132.7,300.3 L138.6,293.3 M133.5,300.8 L139.5,293.8 M134.4,301.3 L140.3,294.3 M135.3,301.8 L141.2,294.9 M136.1,302.3 L142.0,295.4 M137.0,302.8 L142.9,295.9" fill="none" stroke="#000" stroke-width="0.99"/>
<path d="M103.9,265.8 L121,271.5 Q127,274 128,280 L128,294 Q127,299 121,299 L113.3,298 L94.4,290 L94.4,279.3 Q95,268 103.9,265.8 Z" fill="#fff" stroke="#000" stroke-width="1.1"/>
<path d="M94.4,279.3 L95.1,279.5 L96.0,279.7 L97.0,279.9 L98.2,280.2 L99.5,280.4 L100.8,280.7 L102.2,281.0 L103.7,281.3 L105.1,281.7 L106.5,282.1 L107.9,282.5 L109.2,282.9 L110.4,283.4 L111.4,283.9 L112.3,284.4 L113.0,285.0 L113.5,285.6 L113.9,286.4 L114.2,287.2 L114.4,288.0 L114.5,289.0 L114.5,289.9 L114.4,290.9 L114.3,291.9 L114.2,292.8 L114.0,293.8 L113.8,294.7 L113.7,295.5 L113.5,296.3 L113.4,296.9 L113.3,297.5 L113.3,298.0" fill="none" stroke="#000" stroke-width="1.00"/>
<path d="M113,285 Q113,277 121,276" fill="none" stroke="#000" stroke-width="1"/>
<ellipse cx="121" cy="288.5" rx="5" ry="7.5" fill="#fff" stroke="#000" stroke-width="1.1"/>
<ellipse cx="121" cy="288.5" rx="3" ry="5" fill="none" stroke="#000" stroke-width="0.9"/>
<path d="M117,292 Q119,299 125,297 L126,293 Q122,295 120,291 Z" fill="#000"/>
<path d="M218.5,346.5 L218.5,346.0 L218.6,345.5 L218.6,345.0 L218.7,344.5 L218.8,344.0 L218.8,343.5 L218.9,343.0 L218.9,342.5 L219.0,342.0 L219.0,341.5 L219.1,341.0 L219.2,340.5 L219.2,340.0 L219.3,339.5 L219.3,339.0 L219.4,338.5 L219.4,338.0 L219.5,337.5 L219.5,337.0 L219.6,336.5 L219.6,336.0 L219.7,335.5 L219.7,335.0 L219.8,334.5 L219.8,334.0 L219.9,333.5 L219.9,333.0 L220.0,332.4 L220.0,331.9 L220.1,331.4 L220.1,330.9 L220.1,330.4 L220.2,329.8 L220.2,329.3 L220.2,328.8 L220.2,328.3 L220.3,327.8 L220.3,327.3 L220.3,326.8 L220.3,326.3 L220.3,325.8 L220.4,325.2 L220.4,324.7 L220.4,324.2 L220.4,323.7 L220.4,323.2 L220.4,322.7 L220.5,322.2 L220.5,321.8 L220.5,321.3 L220.5,321.2 L211.5,320.8 L211.5,320.9 L211.5,321.4 L211.5,321.9 L211.4,322.4 L211.4,323.0 L211.4,323.4 L211.4,323.9 L211.4,324.4 L211.4,324.9 L211.3,325.4 L211.3,325.9 L211.3,326.4 L211.3,326.9 L211.3,327.4 L211.2,327.9 L211.2,328.4 L211.2,328.8 L211.2,329.3 L211.1,329.8 L211.1,330.3 L211.1,330.8 L211.0,331.2 L211.0,331.7 L211.0,332.2 L210.9,332.7 L210.9,333.2 L210.8,333.6 L210.8,334.1 L210.7,334.6 L210.7,335.1 L210.6,335.6 L210.6,336.1 L210.5,336.6 L210.5,337.1 L210.4,337.6 L210.4,338.1 L210.3,338.5 L210.3,339.0 L210.2,339.5 L210.2,340.0 L210.1,340.5 L210.0,341.0 L210.0,341.5 L209.9,342.0 L209.9,342.5 L209.8,343.0 L209.8,343.5 L209.7,344.0 L209.6,344.5 L209.6,345.0 L209.5,345.5 Z" fill="#fff" stroke="none"/><path d="M218.5,346.5 L218.5,346.0 L218.6,345.5 L218.6,345.0 L218.7,344.5 L218.8,344.0 L218.8,343.5 L218.9,343.0 L218.9,342.5 L219.0,342.0 L219.0,341.5 L219.1,341.0 L219.2,340.5 L219.2,340.0 L219.3,339.5 L219.3,339.0 L219.4,338.5 L219.4,338.0 L219.5,337.5 L219.5,337.0 L219.6,336.5 L219.6,336.0 L219.7,335.5 L219.7,335.0 L219.8,334.5 L219.8,334.0 L219.9,333.5 L219.9,333.0 L220.0,332.4 L220.0,331.9 L220.1,331.4 L220.1,330.9 L220.1,330.4 L220.2,329.8 L220.2,329.3 L220.2,328.8 L220.2,328.3 L220.3,327.8 L220.3,327.3 L220.3,326.8 L220.3,326.3 L220.3,325.8 L220.4,325.2 L220.4,324.7 L220.4,324.2 L220.4,323.7 L220.4,323.2 L220.4,322.7 L220.5,322.2 L220.5,321.8 L220.5,321.3 L220.5,321.2" fill="none" stroke="#000" stroke-width="1.00"/><path d="M209.5,345.5 L209.6,345.0 L209.6,344.5 L209.7,344.0 L209.8,343.5 L209.8,343.0 L209.9,342.5 L209.9,342.0 L210.0,341.5 L210.0,341.0 L210.1,340.5 L210.2,340.0 L210.2,339.5 L210.3,339.0 L210.3,338.5 L210.4,338.1 L210.4,337.6 L210.5,337.1 L210.5,336.6 L210.6,336.1 L210.6,335.6 L210.7,335.1 L210.7,334.6 L210.8,334.1 L210.8,333.6 L210.9,333.2 L210.9,332.7 L211.0,332.2 L211.0,331.7 L211.0,331.2 L211.1,330.8 L211.1,330.3 L211.1,329.8 L211.2,329.3 L211.2,328.8 L211.2,328.4 L211.2,327.9 L211.3,327.4 L211.3,326.9 L211.3,326.4 L211.3,325.9 L211.3,325.4 L211.4,324.9 L211.4,324.4 L211.4,323.9 L211.4,323.4 L211.4,323.0 L211.4,322.4 L211.5,321.9 L211.5,321.4 L211.5,320.9 L211.5,320.8" fill="none" stroke="#000" stroke-width="1.00"/><path d="M218.6,345.0 L209.8,343.5 M219.0,341.5 L210.2,340.0 M219.4,338.0 L210.5,336.6 M219.8,334.5 L210.9,333.2 M220.1,330.9 L211.1,329.8 M220.3,327.3 L211.3,326.4 M220.4,323.7 L211.4,323.0" fill="none" stroke="#000" stroke-width="0.90"/>
<path d="M208.5,342.6 L208.1,342.9 L207.7,343.2 L207.3,343.5 L206.9,343.8 L206.5,344.1 L206.1,344.3 L205.7,344.6 L205.3,344.9 L204.9,345.2 L204.5,345.5 L204.1,345.8 L203.7,346.1 L203.3,346.4 L202.8,346.7 L202.4,347.0 L202.0,347.3 L201.6,347.6 L201.2,347.9 L200.8,348.2 L200.4,348.5 L200.0,348.8 L199.6,349.0 L199.2,349.3 L198.8,349.6 L198.4,349.9 L198.0,350.2 L197.6,350.5 L197.2,350.7 L196.8,351.0 L196.4,351.3 L196.0,351.6 L195.6,351.9 L195.2,352.2 L194.8,352.4 L194.4,352.7 L194.0,353.0 L193.6,353.3 L193.2,353.6 L192.8,353.8 L192.3,354.1 L191.9,354.4 L191.5,354.7 L191.1,354.9 L190.7,355.2 L190.3,355.5 L189.9,355.8 L189.5,356.1 L189.0,356.3 L188.6,356.6 L188.2,356.9 L187.8,357.2 L187.4,357.5 L187.0,357.7 L186.6,358.0 L191.4,365.0 L191.7,364.8 L192.1,364.5 L192.5,364.2 L193.0,364.0 L193.4,363.7 L193.8,363.4 L194.2,363.1 L194.6,362.8 L195.0,362.6 L195.5,362.3 L195.9,362.0 L196.3,361.7 L196.7,361.4 L197.1,361.1 L197.5,360.9 L197.9,360.6 L198.4,360.3 L198.8,360.0 L199.2,359.7 L199.6,359.4 L200.0,359.2 L200.4,358.9 L200.9,358.6 L201.3,358.3 L201.7,358.0 L202.1,357.7 L202.5,357.4 L202.9,357.1 L203.4,356.8 L203.8,356.5 L204.2,356.2 L204.6,355.9 L205.0,355.6 L205.4,355.3 L205.8,355.1 L206.2,354.8 L206.6,354.5 L207.1,354.2 L207.5,353.9 L207.9,353.6 L208.3,353.3 L208.7,353.0 L209.1,352.7 L209.5,352.4 L209.9,352.1 L210.3,351.8 L210.7,351.5 L211.1,351.2 L211.5,350.9 L211.9,350.6 L212.3,350.3 L212.7,350.0 L213.1,349.7 L213.5,349.4 Z" fill="#fff" stroke="none"/><path d="M208.5,342.6 L208.1,342.9 L207.7,343.2 L207.3,343.5 L206.9,343.8 L206.5,344.1 L206.1,344.3 L205.7,344.6 L205.3,344.9 L204.9,345.2 L204.5,345.5 L204.1,345.8 L203.7,346.1 L203.3,346.4 L202.8,346.7 L202.4,347.0 L202.0,347.3 L201.6,347.6 L201.2,347.9 L200.8,348.2 L200.4,348.5 L200.0,348.8 L199.6,349.0 L199.2,349.3 L198.8,349.6 L198.4,349.9 L198.0,350.2 L197.6,350.5 L197.2,350.7 L196.8,351.0 L196.4,351.3 L196.0,351.6 L195.6,351.9 L195.2,352.2 L194.8,352.4 L194.4,352.7 L194.0,353.0 L193.6,353.3 L193.2,353.6 L192.8,353.8 L192.3,354.1 L191.9,354.4 L191.5,354.7 L191.1,354.9 L190.7,355.2 L190.3,355.5 L189.9,355.8 L189.5,356.1 L189.0,356.3 L188.6,356.6 L188.2,356.9 L187.8,357.2 L187.4,357.5 L187.0,357.7 L186.6,358.0" fill="none" stroke="#000" stroke-width="1.00"/><path d="M213.5,349.4 L213.1,349.7 L212.7,350.0 L212.3,350.3 L211.9,350.6 L211.5,350.9 L211.1,351.2 L210.7,351.5 L210.3,351.8 L209.9,352.1 L209.5,352.4 L209.1,352.7 L208.7,353.0 L208.3,353.3 L207.9,353.6 L207.5,353.9 L207.1,354.2 L206.6,354.5 L206.2,354.8 L205.8,355.1 L205.4,355.3 L205.0,355.6 L204.6,355.9 L204.2,356.2 L203.8,356.5 L203.4,356.8 L202.9,357.1 L202.5,357.4 L202.1,357.7 L201.7,358.0 L201.3,358.3 L200.9,358.6 L200.4,358.9 L200.0,359.2 L199.6,359.4 L199.2,359.7 L198.8,360.0 L198.4,360.3 L197.9,360.6 L197.5,360.9 L197.1,361.1 L196.7,361.4 L196.3,361.7 L195.9,362.0 L195.5,362.3 L195.0,362.6 L194.6,362.8 L194.2,363.1 L193.8,363.4 L193.4,363.7 L193.0,364.0 L192.5,364.2 L192.1,364.5 L191.7,364.8 L191.4,365.0" fill="none" stroke="#000" stroke-width="1.00"/><path d="M207.3,343.5 L211.9,350.6 M204.5,345.5 L209.1,352.7 M201.6,347.6 L206.2,354.8 M198.8,349.6 L203.4,356.8 M196.0,351.6 L200.4,358.9 M193.2,353.6 L197.5,360.9 M190.3,355.5 L194.6,362.8 M187.4,357.5 L191.7,364.8" fill="none" stroke="#000" stroke-width="0.90"/>
<path d="M137.2,303.8 L137.7,304.0 L138.2,304.1 L138.7,304.3 L139.2,304.5 L139.7,304.7 L140.2,304.9 L140.6,305.0 L141.1,305.2 L141.6,305.4 L142.1,305.6 L142.5,305.7 L143.0,305.9 L143.5,306.1 L143.9,306.2 L144.4,306.4 L144.9,306.6 L145.4,306.7 L145.8,306.9 L146.3,307.1 L146.8,307.2 L147.2,307.4 L147.7,307.6 L148.2,307.8 L148.6,307.9 L149.1,308.1 L149.5,308.3 L150.0,308.4 L150.5,308.6 L150.9,308.8 L151.4,309.0 L151.9,309.1 L152.3,309.3 L152.8,309.5 L153.2,309.7 L153.7,309.8 L154.2,310.0 L154.6,310.2 L155.1,310.4 L155.5,310.5 L156.0,310.7 L156.4,310.9 L156.9,311.1 L157.3,311.3 L157.8,311.5 L158.2,311.6 L158.7,311.8 L159.1,312.0 L159.6,312.2 L160.0,312.4 L160.5,312.6 L160.9,312.8 L161.4,313.0 L161.8,313.2 L162.2,313.3 L162.7,313.5 L163.1,313.7 L163.5,313.9 L164.0,314.1 L164.4,314.4 L164.8,314.6 L165.2,314.8 L165.7,315.0 L166.1,315.2 L166.5,315.4 L166.9,315.6 L167.3,315.8 L167.7,316.0 L168.1,316.3 L168.5,316.5 L168.9,316.7 L169.3,317.0 L169.7,317.2 L170.1,317.5 L170.5,317.7 L170.9,318.0 L171.3,318.2 L171.7,318.5 L172.1,318.7 L172.5,319.0 L172.9,319.2 L173.3,319.5 L173.7,319.8 L174.1,320.0 L174.5,320.3 L174.9,320.6 L175.2,320.9 L175.6,321.1 L176.0,321.4 L176.4,321.7 L176.8,322.0 L177.2,322.3 L177.6,322.6 L178.0,322.9 L178.4,323.2 L178.8,323.5 L179.1,323.7 L179.5,324.0 L179.9,324.3 L180.3,324.6 L180.7,324.9 L181.1,325.2 L181.5,325.5 L181.9,325.9 L182.3,326.2 L182.7,326.5 L183.1,326.8 L183.5,327.1 L183.9,327.4 L184.3,327.7 L184.7,328.0 L185.0,328.3 L185.5,328.6 L185.9,328.9 L186.3,329.2 L186.7,329.5 L187.1,329.9 L187.5,330.2 L187.9,330.5 L188.3,330.8 L188.7,331.1 L189.1,331.4 L189.5,331.7 L190.0,332.0 L190.4,332.3 L190.8,332.6 L191.2,332.9 L191.6,333.2 L192.0,333.5 L192.4,333.8 L192.8,334.0 L193.2,334.3 L193.6,334.6 L194.0,334.9 L194.4,335.2 L194.8,335.5 L195.2,335.8 L195.5,336.1 L195.9,336.4 L196.3,336.7 L196.7,337.0 L197.1,337.3 L197.5,337.6 L197.9,337.9 L198.3,338.2 L198.7,338.5 L199.1,338.8 L199.5,339.1 L199.9,339.4 L200.3,339.7 L200.7,340.0 L201.1,340.3 L201.5,340.6 L201.9,340.9 L202.4,341.2 L202.8,341.5 L203.2,341.8 L203.6,342.2 L204.0,342.5 L204.4,342.8 L204.9,343.1 L205.3,343.4 L205.7,343.7 L206.2,344.0 L206.6,344.3 L207.0,344.6 L207.5,344.8 L207.9,345.1 L208.4,345.4 L208.8,345.7 L209.3,346.0 L209.7,346.3 L210.2,346.6 L210.6,346.8 L211.1,347.1 L211.6,347.4 L212.1,347.6 L212.5,347.9 L213.0,348.2 L213.5,348.4 L214.0,348.6 L214.4,348.9 L214.9,349.1 L215.3,349.3 L215.8,349.6 L216.3,349.8 L216.7,350.0 L217.2,350.3 L217.7,350.5 L218.1,350.7 L218.6,350.9 L219.1,351.1 L219.5,351.4 L220.0,351.6 L220.5,351.8 L221.0,352.0 L221.5,352.2 L221.9,352.4 L222.4,352.6 L222.9,352.8 L223.4,353.0 L223.9,353.2 L224.4,353.4 L224.9,353.6 L225.3,353.8 L225.8,354.0 L226.3,354.2 L226.8,354.4 L227.3,354.5 L227.8,354.7 L228.3,354.9 L228.8,355.1 L229.3,355.2 L229.8,355.4 L230.3,355.6 L230.8,355.7 L231.3,355.9 L231.8,356.0 L232.3,356.2 L232.8,356.3 L233.4,356.5 L233.9,356.6 L234.4,356.8 L234.9,356.9 L235.4,357.0 L235.9,357.2 L236.4,357.3 L236.9,357.4 L237.4,357.5 L237.9,357.7 L238.5,357.8 L239.0,357.9 L239.5,358.0 L240.0,358.1 L240.5,358.2 L241.0,358.3 L241.6,358.4 L242.1,358.5 L242.6,358.6 L243.1,358.7 L243.6,358.8 L244.2,358.8 L244.7,358.9 L245.2,359.0 L245.7,359.1 L246.2,359.1 L246.8,359.2 L247.3,359.3 L247.8,359.4 L248.3,359.4 L248.8,359.5 L249.3,359.5 L249.8,359.6 L250.4,359.6 L250.9,359.7 L251.4,359.8 L251.9,359.8 L252.4,359.8 L252.9,359.9 L253.4,359.9 L253.9,360.0 L254.5,360.0 L255.0,360.1 L255.5,360.1 L256.0,360.1 L256.5,360.2 L257.0,360.2 L257.5,360.2 L258.0,360.3 L258.5,360.3 L259.1,360.3 L259.6,360.4 L260.1,360.4 L260.6,360.4 L261.1,360.5 L261.6,360.5 L262.1,360.5 L262.6,360.5 L263.1,360.5 L263.6,360.6 L264.1,360.6 L264.7,360.6 L265.2,360.6 L265.7,360.6 L266.2,360.7 L266.7,360.7 L267.2,360.7 L267.7,360.7 L268.2,360.7 L268.7,360.7 L269.2,360.7 L269.7,360.7 L270.2,360.7 L270.7,360.8 L271.3,360.8 L271.8,360.8 L272.3,360.8 L272.8,360.8 L273.3,360.8 L273.8,360.8 L274.3,360.8 L274.8,360.8 L275.3,360.8 L275.8,360.8 L276.3,360.8 L276.8,360.8 L277.4,360.8 L277.9,360.8 L278.4,360.8 L278.9,360.8 L279.4,360.8 L279.9,360.8 L280.5,360.7 L281.0,360.7 L281.5,360.7 L282.0,360.7 L282.5,360.7 L283.0,360.6 L283.6,360.6 L284.1,360.6 L284.6,360.6 L285.1,360.5 L285.6,360.5 L286.1,360.5 L286.6,360.4 L287.1,360.4 L287.6,360.4 L288.2,360.3 L288.7,360.3 L289.2,360.3 L289.7,360.2 L290.2,360.2 L290.7,360.1 L291.2,360.1 L291.7,360.1 L292.2,360.0 L292.7,360.0 L293.2,359.9 L293.7,359.9 L294.2,359.8 L294.7,359.8 L295.2,359.7 L295.7,359.7 L296.2,359.7 L296.7,359.6 L297.2,359.6 L297.7,359.5 L298.2,359.5 L298.7,359.4 L299.2,359.4 L299.7,359.3 L300.2,359.3 L300.7,359.2 L301.2,359.2 L301.7,359.1 L302.2,359.1 L302.7,359.0 L303.2,358.9 L303.7,358.9 L304.2,358.8 L304.7,358.8 L305.2,358.7 L305.7,358.7 L306.2,358.6 L306.7,358.6 L307.2,358.5 L307.7,358.5 L308.2,358.4 L308.7,358.4 L309.1,358.4 L309.6,358.3 L310.0,358.3 L309.2,348.7 L308.8,348.7 L308.3,348.8 L307.8,348.8 L307.3,348.9 L306.8,348.9 L306.2,349.0 L305.7,349.0 L305.2,349.1 L304.7,349.1 L304.2,349.2 L303.7,349.2 L303.2,349.3 L302.7,349.3 L302.3,349.4 L301.8,349.5 L301.3,349.5 L300.8,349.6 L300.3,349.6 L299.8,349.7 L299.3,349.7 L298.8,349.8 L298.3,349.8 L297.8,349.9 L297.3,349.9 L296.8,350.0 L296.3,350.0 L295.8,350.0 L295.3,350.1 L294.8,350.1 L294.3,350.2 L293.8,350.2 L293.4,350.3 L292.9,350.3 L292.4,350.4 L291.9,350.4 L291.4,350.4 L290.9,350.5 L290.4,350.5 L289.9,350.6 L289.4,350.6 L288.9,350.6 L288.5,350.7 L288.0,350.7 L287.5,350.8 L287.0,350.8 L286.5,350.8 L286.0,350.9 L285.5,350.9 L285.0,350.9 L284.5,350.9 L284.1,351.0 L283.6,351.0 L283.1,351.0 L282.6,351.0 L282.1,351.1 L281.6,351.1 L281.1,351.1 L280.7,351.1 L280.2,351.1 L279.7,351.2 L279.2,351.2 L278.7,351.2 L278.3,351.2 L277.8,351.2 L277.3,351.2 L276.8,351.2 L276.3,351.2 L275.8,351.2 L275.3,351.2 L274.8,351.2 L274.3,351.2 L273.9,351.2 L273.4,351.2 L272.9,351.2 L272.4,351.2 L271.9,351.2 L271.4,351.2 L270.9,351.2 L270.4,351.1 L269.9,351.1 L269.4,351.1 L268.9,351.1 L268.4,351.1 L267.9,351.1 L267.4,351.1 L267.0,351.1 L266.5,351.1 L266.0,351.0 L265.5,351.0 L265.0,351.0 L264.5,351.0 L264.0,351.0 L263.5,351.0 L263.0,350.9 L262.5,350.9 L262.1,350.9 L261.6,350.9 L261.1,350.8 L260.6,350.8 L260.1,350.8 L259.6,350.8 L259.1,350.7 L258.6,350.7 L258.1,350.7 L257.7,350.6 L257.2,350.6 L256.7,350.6 L256.2,350.5 L255.7,350.5 L255.2,350.5 L254.7,350.4 L254.3,350.4 L253.8,350.3 L253.3,350.3 L252.8,350.2 L252.3,350.2 L251.8,350.1 L251.4,350.1 L250.9,350.0 L250.4,350.0 L249.9,349.9 L249.4,349.9 L249.0,349.8 L248.5,349.8 L248.0,349.7 L247.5,349.6 L247.1,349.6 L246.6,349.5 L246.1,349.4 L245.6,349.4 L245.2,349.3 L244.7,349.2 L244.2,349.1 L243.8,349.0 L243.3,349.0 L242.9,348.9 L242.4,348.8 L241.9,348.7 L241.5,348.6 L241.0,348.5 L240.5,348.4 L240.1,348.3 L239.6,348.2 L239.2,348.1 L238.7,348.0 L238.2,347.9 L237.8,347.7 L237.3,347.6 L236.9,347.5 L236.4,347.4 L236.0,347.2 L235.5,347.1 L235.1,347.0 L234.6,346.9 L234.1,346.7 L233.7,346.6 L233.2,346.4 L232.8,346.3 L232.4,346.1 L231.9,346.0 L231.5,345.8 L231.0,345.7 L230.6,345.5 L230.1,345.4 L229.7,345.2 L229.2,345.0 L228.8,344.9 L228.4,344.7 L227.9,344.5 L227.5,344.3 L227.0,344.2 L226.6,344.0 L226.2,343.8 L225.7,343.6 L225.3,343.4 L224.8,343.2 L224.4,343.0 L224.0,342.8 L223.5,342.6 L223.1,342.4 L222.7,342.2 L222.2,342.0 L221.8,341.8 L221.4,341.6 L220.9,341.4 L220.5,341.2 L220.1,341.0 L219.6,340.8 L219.2,340.5 L218.8,340.3 L218.3,340.1 L217.9,339.9 L217.5,339.7 L217.1,339.5 L216.7,339.2 L216.3,339.0 L215.9,338.8 L215.5,338.6 L215.1,338.3 L214.7,338.1 L214.3,337.8 L213.9,337.6 L213.5,337.3 L213.1,337.1 L212.8,336.8 L212.4,336.6 L212.0,336.3 L211.6,336.0 L211.2,335.8 L210.8,335.5 L210.4,335.2 L210.0,334.9 L209.6,334.7 L209.2,334.4 L208.8,334.1 L208.5,333.8 L208.1,333.5 L207.7,333.2 L207.3,332.9 L206.9,332.6 L206.5,332.4 L206.1,332.1 L205.7,331.8 L205.3,331.5 L204.9,331.2 L204.5,330.9 L204.1,330.6 L203.7,330.2 L203.3,329.9 L202.9,329.6 L202.5,329.3 L202.1,329.0 L201.7,328.7 L201.3,328.4 L200.9,328.1 L200.5,327.8 L200.1,327.5 L199.7,327.2 L199.3,326.9 L198.9,326.6 L198.4,326.3 L198.0,326.0 L197.6,325.7 L197.2,325.4 L196.8,325.1 L196.4,324.8 L196.0,324.5 L195.6,324.2 L195.2,324.0 L194.8,323.7 L194.4,323.4 L194.0,323.1 L193.7,322.8 L193.3,322.5 L192.9,322.2 L192.5,321.9 L192.1,321.6 L191.7,321.3 L191.3,321.0 L190.9,320.7 L190.5,320.4 L190.1,320.1 L189.7,319.8 L189.4,319.5 L189.0,319.2 L188.6,318.9 L188.2,318.6 L187.8,318.3 L187.4,318.0 L187.0,317.7 L186.6,317.3 L186.2,317.0 L185.8,316.7 L185.4,316.4 L185.0,316.1 L184.6,315.8 L184.1,315.5 L183.7,315.2 L183.3,314.9 L182.9,314.6 L182.5,314.3 L182.1,314.0 L181.7,313.6 L181.2,313.4 L180.8,313.0 L180.4,312.7 L180.0,312.4 L179.5,312.1 L179.1,311.9 L178.7,311.6 L178.2,311.3 L177.8,311.0 L177.4,310.7 L176.9,310.4 L176.5,310.1 L176.0,309.8 L175.6,309.5 L175.1,309.3 L174.7,309.0 L174.2,308.7 L173.7,308.4 L173.3,308.2 L172.8,307.9 L172.4,307.6 L171.9,307.4 L171.4,307.1 L170.9,306.9 L170.5,306.6 L170.0,306.4 L169.5,306.2 L169.0,305.9 L168.5,305.7 L168.1,305.5 L167.6,305.2 L167.1,305.0 L166.6,304.8 L166.2,304.6 L165.7,304.4 L165.2,304.2 L164.7,304.0 L164.3,303.8 L163.8,303.6 L163.3,303.4 L162.8,303.1 L162.4,303.0 L161.9,302.8 L161.4,302.6 L160.9,302.4 L160.5,302.2 L160.0,302.0 L159.5,301.8 L159.0,301.6 L158.6,301.4 L158.1,301.2 L157.6,301.1 L157.1,300.9 L156.7,300.7 L156.2,300.5 L155.7,300.3 L155.2,300.1 L154.8,300.0 L154.3,299.8 L153.8,299.6 L153.3,299.4 L152.9,299.3 L152.4,299.1 L151.9,298.9 L151.4,298.7 L151.0,298.6 L150.5,298.4 L150.0,298.2 L149.6,298.1 L149.1,297.9 L148.6,297.7 L148.1,297.5 L147.7,297.4 L147.2,297.2 L146.7,297.0 L146.3,296.9 L145.8,296.7 L145.3,296.5 L144.8,296.4 L144.4,296.2 L143.9,296.0 L143.5,295.8 L143.0,295.7 L142.5,295.5 L142.1,295.3 L141.6,295.2 L141.2,295.0 L140.8,294.8 Z" fill="#fff" stroke="none"/><path d="M137.2,303.8 L137.7,304.0 L138.2,304.1 L138.7,304.3 L139.2,304.5 L139.7,304.7 L140.2,304.9 L140.6,305.0 L141.1,305.2 L141.6,305.4 L142.1,305.6 L142.5,305.7 L143.0,305.9 L143.5,306.1 L143.9,306.2 L144.4,306.4 L144.9,306.6 L145.4,306.7 L145.8,306.9 L146.3,307.1 L146.8,307.2 L147.2,307.4 L147.7,307.6 L148.2,307.8 L148.6,307.9 L149.1,308.1 L149.5,308.3 L150.0,308.4 L150.5,308.6 L150.9,308.8 L151.4,309.0 L151.9,309.1 L152.3,309.3 L152.8,309.5 L153.2,309.7 L153.7,309.8 L154.2,310.0 L154.6,310.2 L155.1,310.4 L155.5,310.5 L156.0,310.7 L156.4,310.9 L156.9,311.1 L157.3,311.3 L157.8,311.5 L158.2,311.6 L158.7,311.8 L159.1,312.0 L159.6,312.2 L160.0,312.4 L160.5,312.6 L160.9,312.8 L161.4,313.0 L161.8,313.2 L162.2,313.3 L162.7,313.5 L163.1,313.7 L163.5,313.9 L164.0,314.1 L164.4,314.4 L164.8,314.6 L165.2,314.8 L165.7,315.0 L166.1,315.2 L166.5,315.4 L166.9,315.6 L167.3,315.8 L167.7,316.0 L168.1,316.3 L168.5,316.5 L168.9,316.7 L169.3,317.0 L169.7,317.2 L170.1,317.5 L170.5,317.7 L170.9,318.0 L171.3,318.2 L171.7,318.5 L172.1,318.7 L172.5,319.0 L172.9,319.2 L173.3,319.5 L173.7,319.8 L174.1,320.0 L174.5,320.3 L174.9,320.6 L175.2,320.9 L175.6,321.1 L176.0,321.4 L176.4,321.7 L176.8,322.0 L177.2,322.3 L177.6,322.6 L178.0,322.9 L178.4,323.2 L178.8,323.5 L179.1,323.7 L179.5,324.0 L179.9,324.3 L180.3,324.6 L180.7,324.9 L181.1,325.2 L181.5,325.5 L181.9,325.9 L182.3,326.2 L182.7,326.5 L183.1,326.8 L183.5,327.1 L183.9,327.4 L184.3,327.7 L184.7,328.0 L185.0,328.3 L185.5,328.6 L185.9,328.9 L186.3,329.2 L186.7,329.5 L187.1,329.9 L187.5,330.2 L187.9,330.5 L188.3,330.8 L188.7,331.1 L189.1,331.4 L189.5,331.7 L190.0,332.0 L190.4,332.3 L190.8,332.6 L191.2,332.9 L191.6,333.2 L192.0,333.5 L192.4,333.8 L192.8,334.0 L193.2,334.3 L193.6,334.6 L194.0,334.9 L194.4,335.2 L194.8,335.5 L195.2,335.8 L195.5,336.1 L195.9,336.4 L196.3,336.7 L196.7,337.0 L197.1,337.3 L197.5,337.6 L197.9,337.9 L198.3,338.2 L198.7,338.5 L199.1,338.8 L199.5,339.1 L199.9,339.4 L200.3,339.7 L200.7,340.0 L201.1,340.3 L201.5,340.6 L201.9,340.9 L202.4,341.2 L202.8,341.5 L203.2,341.8 L203.6,342.2 L204.0,342.5 L204.4,342.8 L204.9,343.1 L205.3,343.4 L205.7,343.7 L206.2,344.0 L206.6,344.3 L207.0,344.6 L207.5,344.8 L207.9,345.1 L208.4,345.4 L208.8,345.7 L209.3,346.0 L209.7,346.3 L210.2,346.6 L210.6,346.8 L211.1,347.1 L211.6,347.4 L212.1,347.6 L212.5,347.9 L213.0,348.2 L213.5,348.4 L214.0,348.6 L214.4,348.9 L214.9,349.1 L215.3,349.3 L215.8,349.6 L216.3,349.8 L216.7,350.0 L217.2,350.3 L217.7,350.5 L218.1,350.7 L218.6,350.9 L219.1,351.1 L219.5,351.4 L220.0,351.6 L220.5,351.8 L221.0,352.0 L221.5,352.2 L221.9,352.4 L222.4,352.6 L222.9,352.8 L223.4,353.0 L223.9,353.2 L224.4,353.4 L224.9,353.6 L225.3,353.8 L225.8,354.0 L226.3,354.2 L226.8,354.4 L227.3,354.5 L227.8,354.7 L228.3,354.9 L228.8,355.1 L229.3,355.2 L229.8,355.4 L230.3,355.6 L230.8,355.7 L231.3,355.9 L231.8,356.0 L232.3,356.2 L232.8,356.3 L233.4,356.5 L233.9,356.6 L234.4,356.8 L234.9,356.9 L235.4,357.0 L235.9,357.2 L236.4,357.3 L236.9,357.4 L237.4,357.5 L237.9,357.7 L238.5,357.8 L239.0,357.9 L239.5,358.0 L240.0,358.1 L240.5,358.2 L241.0,358.3 L241.6,358.4 L242.1,358.5 L242.6,358.6 L243.1,358.7 L243.6,358.8 L244.2,358.8 L244.7,358.9 L245.2,359.0 L245.7,359.1 L246.2,359.1 L246.8,359.2 L247.3,359.3 L247.8,359.4 L248.3,359.4 L248.8,359.5 L249.3,359.5 L249.8,359.6 L250.4,359.6 L250.9,359.7 L251.4,359.8 L251.9,359.8 L252.4,359.8 L252.9,359.9 L253.4,359.9 L253.9,360.0 L254.5,360.0 L255.0,360.1 L255.5,360.1 L256.0,360.1 L256.5,360.2 L257.0,360.2 L257.5,360.2 L258.0,360.3 L258.5,360.3 L259.1,360.3 L259.6,360.4 L260.1,360.4 L260.6,360.4 L261.1,360.5 L261.6,360.5 L262.1,360.5 L262.6,360.5 L263.1,360.5 L263.6,360.6 L264.1,360.6 L264.7,360.6 L265.2,360.6 L265.7,360.6 L266.2,360.7 L266.7,360.7 L267.2,360.7 L267.7,360.7 L268.2,360.7 L268.7,360.7 L269.2,360.7 L269.7,360.7 L270.2,360.7 L270.7,360.8 L271.3,360.8 L271.8,360.8 L272.3,360.8 L272.8,360.8 L273.3,360.8 L273.8,360.8 L274.3,360.8 L274.8,360.8 L275.3,360.8 L275.8,360.8 L276.3,360.8 L276.8,360.8 L277.4,360.8 L277.9,360.8 L278.4,360.8 L278.9,360.8 L279.4,360.8 L279.9,360.8 L280.5,360.7 L281.0,360.7 L281.5,360.7 L282.0,360.7 L282.5,360.7 L283.0,360.6 L283.6,360.6 L284.1,360.6 L284.6,360.6 L285.1,360.5 L285.6,360.5 L286.1,360.5 L286.6,360.4 L287.1,360.4 L287.6,360.4 L288.2,360.3 L288.7,360.3 L289.2,360.3 L289.7,360.2 L290.2,360.2 L290.7,360.1 L291.2,360.1 L291.7,360.1 L292.2,360.0 L292.7,360.0 L293.2,359.9 L293.7,359.9 L294.2,359.8 L294.7,359.8 L295.2,359.7 L295.7,359.7 L296.2,359.7 L296.7,359.6 L297.2,359.6 L297.7,359.5 L298.2,359.5 L298.7,359.4 L299.2,359.4 L299.7,359.3 L300.2,359.3 L300.7,359.2 L301.2,359.2 L301.7,359.1 L302.2,359.1 L302.7,359.0 L303.2,358.9 L303.7,358.9 L304.2,358.8 L304.7,358.8 L305.2,358.7 L305.7,358.7 L306.2,358.6 L306.7,358.6 L307.2,358.5 L307.7,358.5 L308.2,358.4 L308.7,358.4 L309.1,358.4 L309.6,358.3 L310.0,358.3" fill="none" stroke="#000" stroke-width="1.00"/><path d="M140.8,294.8 L141.2,295.0 L141.6,295.2 L142.1,295.3 L142.5,295.5 L143.0,295.7 L143.5,295.8 L143.9,296.0 L144.4,296.2 L144.8,296.4 L145.3,296.5 L145.8,296.7 L146.3,296.9 L146.7,297.0 L147.2,297.2 L147.7,297.4 L148.1,297.5 L148.6,297.7 L149.1,297.9 L149.6,298.1 L150.0,298.2 L150.5,298.4 L151.0,298.6 L151.4,298.7 L151.9,298.9 L152.4,299.1 L152.9,299.3 L153.3,299.4 L153.8,299.6 L154.3,299.8 L154.8,300.0 L155.2,300.1 L155.7,300.3 L156.2,300.5 L156.7,300.7 L157.1,300.9 L157.6,301.1 L158.1,301.2 L158.6,301.4 L159.0,301.6 L159.5,301.8 L160.0,302.0 L160.5,302.2 L160.9,302.4 L161.4,302.6 L161.9,302.8 L162.4,303.0 L162.8,303.1 L163.3,303.4 L163.8,303.6 L164.3,303.8 L164.7,304.0 L165.2,304.2 L165.7,304.4 L166.2,304.6 L166.6,304.8 L167.1,305.0 L167.6,305.2 L168.1,305.5 L168.5,305.7 L169.0,305.9 L169.5,306.2 L170.0,306.4 L170.5,306.6 L170.9,306.9 L171.4,307.1 L171.9,307.4 L172.4,307.6 L172.8,307.9 L173.3,308.2 L173.7,308.4 L174.2,308.7 L174.7,309.0 L175.1,309.3 L175.6,309.5 L176.0,309.8 L176.5,310.1 L176.9,310.4 L177.4,310.7 L177.8,311.0 L178.2,311.3 L178.7,311.6 L179.1,311.9 L179.5,312.1 L180.0,312.4 L180.4,312.7 L180.8,313.0 L181.2,313.4 L181.7,313.6 L182.1,314.0 L182.5,314.3 L182.9,314.6 L183.3,314.9 L183.7,315.2 L184.1,315.5 L184.6,315.8 L185.0,316.1 L185.4,316.4 L185.8,316.7 L186.2,317.0 L186.6,317.3 L187.0,317.7 L187.4,318.0 L187.8,318.3 L188.2,318.6 L188.6,318.9 L189.0,319.2 L189.4,319.5 L189.7,319.8 L190.1,320.1 L190.5,320.4 L190.9,320.7 L191.3,321.0 L191.7,321.3 L192.1,321.6 L192.5,321.9 L192.9,322.2 L193.3,322.5 L193.7,322.8 L194.0,323.1 L194.4,323.4 L194.8,323.7 L195.2,324.0 L195.6,324.2 L196.0,324.5 L196.4,324.8 L196.8,325.1 L197.2,325.4 L197.6,325.7 L198.0,326.0 L198.4,326.3 L198.9,326.6 L199.3,326.9 L199.7,327.2 L200.1,327.5 L200.5,327.8 L200.9,328.1 L201.3,328.4 L201.7,328.7 L202.1,329.0 L202.5,329.3 L202.9,329.6 L203.3,329.9 L203.7,330.2 L204.1,330.6 L204.5,330.9 L204.9,331.2 L205.3,331.5 L205.7,331.8 L206.1,332.1 L206.5,332.4 L206.9,332.6 L207.3,332.9 L207.7,333.2 L208.1,333.5 L208.5,333.8 L208.8,334.1 L209.2,334.4 L209.6,334.7 L210.0,334.9 L210.4,335.2 L210.8,335.5 L211.2,335.8 L211.6,336.0 L212.0,336.3 L212.4,336.6 L212.8,336.8 L213.1,337.1 L213.5,337.3 L213.9,337.6 L214.3,337.8 L214.7,338.1 L215.1,338.3 L215.5,338.6 L215.9,338.8 L216.3,339.0 L216.7,339.2 L217.1,339.5 L217.5,339.7 L217.9,339.9 L218.3,340.1 L218.8,340.3 L219.2,340.5 L219.6,340.8 L220.1,341.0 L220.5,341.2 L220.9,341.4 L221.4,341.6 L221.8,341.8 L222.2,342.0 L222.7,342.2 L223.1,342.4 L223.5,342.6 L224.0,342.8 L224.4,343.0 L224.8,343.2 L225.3,343.4 L225.7,343.6 L226.2,343.8 L226.6,344.0 L227.0,344.2 L227.5,344.3 L227.9,344.5 L228.4,344.7 L228.8,344.9 L229.2,345.0 L229.7,345.2 L230.1,345.4 L230.6,345.5 L231.0,345.7 L231.5,345.8 L231.9,346.0 L232.4,346.1 L232.8,346.3 L233.2,346.4 L233.7,346.6 L234.1,346.7 L234.6,346.9 L235.1,347.0 L235.5,347.1 L236.0,347.2 L236.4,347.4 L236.9,347.5 L237.3,347.6 L237.8,347.7 L238.2,347.9 L238.7,348.0 L239.2,348.1 L239.6,348.2 L240.1,348.3 L240.5,348.4 L241.0,348.5 L241.5,348.6 L241.9,348.7 L242.4,348.8 L242.9,348.9 L243.3,349.0 L243.8,349.0 L244.2,349.1 L244.7,349.2 L245.2,349.3 L245.6,349.4 L246.1,349.4 L246.6,349.5 L247.1,349.6 L247.5,349.6 L248.0,349.7 L248.5,349.8 L249.0,349.8 L249.4,349.9 L249.9,349.9 L250.4,350.0 L250.9,350.0 L251.4,350.1 L251.8,350.1 L252.3,350.2 L252.8,350.2 L253.3,350.3 L253.8,350.3 L254.3,350.4 L254.7,350.4 L255.2,350.5 L255.7,350.5 L256.2,350.5 L256.7,350.6 L257.2,350.6 L257.7,350.6 L258.1,350.7 L258.6,350.7 L259.1,350.7 L259.6,350.8 L260.1,350.8 L260.6,350.8 L261.1,350.8 L261.6,350.9 L262.1,350.9 L262.5,350.9 L263.0,350.9 L263.5,351.0 L264.0,351.0 L264.5,351.0 L265.0,351.0 L265.5,351.0 L266.0,351.0 L266.5,351.1 L267.0,351.1 L267.4,351.1 L267.9,351.1 L268.4,351.1 L268.9,351.1 L269.4,351.1 L269.9,351.1 L270.4,351.1 L270.9,351.2 L271.4,351.2 L271.9,351.2 L272.4,351.2 L272.9,351.2 L273.4,351.2 L273.9,351.2 L274.3,351.2 L274.8,351.2 L275.3,351.2 L275.8,351.2 L276.3,351.2 L276.8,351.2 L277.3,351.2 L277.8,351.2 L278.3,351.2 L278.7,351.2 L279.2,351.2 L279.7,351.2 L280.2,351.1 L280.7,351.1 L281.1,351.1 L281.6,351.1 L282.1,351.1 L282.6,351.0 L283.1,351.0 L283.6,351.0 L284.1,351.0 L284.5,350.9 L285.0,350.9 L285.5,350.9 L286.0,350.9 L286.5,350.8 L287.0,350.8 L287.5,350.8 L288.0,350.7 L288.5,350.7 L288.9,350.6 L289.4,350.6 L289.9,350.6 L290.4,350.5 L290.9,350.5 L291.4,350.4 L291.9,350.4 L292.4,350.4 L292.9,350.3 L293.4,350.3 L293.8,350.2 L294.3,350.2 L294.8,350.1 L295.3,350.1 L295.8,350.0 L296.3,350.0 L296.8,350.0 L297.3,349.9 L297.8,349.9 L298.3,349.8 L298.8,349.8 L299.3,349.7 L299.8,349.7 L300.3,349.6 L300.8,349.6 L301.3,349.5 L301.8,349.5 L302.3,349.4 L302.7,349.3 L303.2,349.3 L303.7,349.2 L304.2,349.2 L304.7,349.1 L305.2,349.1 L305.7,349.0 L306.2,349.0 L306.8,348.9 L307.3,348.9 L307.8,348.8 L308.3,348.8 L308.8,348.7 L309.2,348.7" fill="none" stroke="#000" stroke-width="1.00"/><path d="M139.2,304.5 L148.1,297.5 M143.5,306.1 L152.4,299.1 M147.7,307.6 L156.7,300.7 M151.9,309.1 L160.9,302.4 M156.0,310.7 L165.2,304.2 M160.0,312.4 L169.5,306.2 M164.0,314.1 L173.7,308.4 M167.7,316.0 L177.8,311.0 M171.3,318.2 L181.7,313.6 M174.9,320.6 L185.4,316.4 M178.4,323.2 L189.0,319.2 M181.9,325.9 L192.5,321.9 M185.5,328.6 L196.0,324.5 M189.1,331.4 L199.7,327.2 M192.8,334.0 L203.3,329.9 M196.3,336.7 L206.9,332.6 M199.9,339.4 L210.4,335.2 M203.6,342.2 L213.9,337.6 M207.5,344.8 L217.5,339.7 M211.6,347.4 L221.4,341.6 M215.8,349.6 L225.3,343.4 M220.0,351.6 L229.2,345.0 M225.3,353.8 L234.1,346.7 M230.8,355.7 L239.2,348.1 M236.4,357.3 L244.2,349.1 M242.1,358.5 L249.4,349.9 M247.8,359.4 L254.7,350.4 M253.4,359.9 L260.1,350.8 M259.1,360.3 L265.5,351.0 M264.7,360.6 L270.9,351.2 M270.2,360.7 L276.3,351.2 M275.8,360.8 L281.6,351.1 M281.5,360.7 L287.0,350.8 M287.1,360.4 L292.4,350.4 M292.7,360.0 L297.8,349.9 M298.2,359.5 L303.2,349.3 M303.7,358.9 L308.8,348.7" fill="none" stroke="#000" stroke-width="0.90"/>
<path d="M43.9,450.1 L66.8,459.0 L76.3,461.3 L73.7,516.0 L40.7,504.3 Z" fill="#fff" stroke="#000" stroke-width="1.10"/>
<path d="M76.3,461.3 L125.9,443.5 L124.5,496.5 L73.7,516.0 Z" fill="#fff" stroke="#000" stroke-width="1.10"/>
<path d="M47.2,445.7 L97.4,425.6 L118.0,434.5 L126.0,440.0 L125.9,443.5 L76.3,461.3 L66.8,459.0 L47.2,450.1 Z" fill="#fff" stroke="#000" stroke-width="1.00"/>
<path d="M47.2,445.7 L47.9,446.0 L48.8,446.4 L49.9,446.9 L51.2,447.4 L52.5,448.0 L54.0,448.6 L55.5,449.2 L57.0,449.9 L58.5,450.5 L60.0,451.2 L61.5,451.9 L62.8,452.5 L64.1,453.1 L65.2,453.6 L66.1,454.2 L66.8,454.6 L67.3,455.0 L67.7,455.4 L68.0,455.8 L68.2,456.1 L68.2,456.5 L68.2,456.8 L68.2,457.1 L68.0,457.4 L67.9,457.6 L67.7,457.9 L67.5,458.1 L67.3,458.3 L67.1,458.5 L66.9,458.7 L66.8,458.9 L66.8,459.0" fill="none" stroke="#000" stroke-width="0.90"/>
<path d="M66.8,454.6 L72.0,452.0" fill="none" stroke="#000" stroke-width="0.90"/>
<path d="M79.0,449.0 L108.0,439.6 L114.7,444.6 L86.8,454.6 Z" fill="none" stroke="#000" stroke-width="0.90"/>
<path d="M81.0,451.5 L111.0,441.6" fill="none" stroke="#000" stroke-width="0.80"/>
<path d="M70,454 L75,451.3 L82,452 L84.6,456 L83,461 L76,462.4 L71,460 Z" fill="#fff" stroke="#000" stroke-width="1.1"/>
<path d="M73,455 L79,454 L81,459 L76,461 L73,459 Z" fill="#000"/>
<path d="M110.3,438.5 L115,435.6 L122,436.5 L124.8,440 L123,445.5 L116,446.8 L111,444.5 Z" fill="#fff" stroke="#000" stroke-width="1.1"/>
<path d="M113,439.5 L119,438.5 L121,443 L116,445 L113,443 Z" fill="#000"/>
<path d="M76.2,421.2 l5.6,0 l-0.5,3.6 l-1.4,0.4 l0,4.5 l-1.8,0 l0,-4.5 l-1.4,-0.4 Z" fill="#000"/>
<path d="M77.7,422.8 l2.5,0" stroke="#fff" stroke-width="0.7"/>
<path d="M118.8,415.0 l5.6,0 l-0.5,3.6 l-1.4,0.4 l0,4.5 l-1.8,0 l0,-4.5 l-1.4,-0.4 Z" fill="#000"/>
<path d="M120.3,416.6 l2.5,0" stroke="#fff" stroke-width="0.7"/>
<path d="M479,397.5 L486,387 L492,384.5 L508,384 L514,389.5" fill="#fff" stroke="#000" stroke-width="1"/>
<ellipse cx="497.6" cy="389.8" rx="4.5" ry="3" fill="none" stroke="#000" stroke-width="1"/>
<path d="M470.0,401.6 L537.1,382.6 L551.3,386.6 L567.1,406.3 L564.0,428.4 L559.0,432.0 L524.5,443.0 L496.8,447.4 L468.4,408.0 Z" fill="#fff" stroke="#000" stroke-width="1.10"/>
<path d="M470.0,401.6 L486.6,405.5 L549.7,387.4 L551.3,386.6" fill="none" stroke="#000" stroke-width="1.00"/>
<path d="M486.6,405.5 L500.0,425.3 L496.8,447.4" fill="none" stroke="#000" stroke-width="1.00"/>
<path d="M549.7,387.4 L567.1,406.3" fill="none" stroke="#000" stroke-width="1.00"/>
<path d="M500.0,425.3 L567.1,406.3" fill="none" stroke="#000" stroke-width="1.00"/>
<path d="M510.0,429.0 L530.0,423.7 L533.0,443.0 L527.0,449.0 L520.0,448.0 Z" fill="#fff" stroke="#000" stroke-width="1.00"/>
<path d="M513.0,431.0 L522.0,447.0" fill="none" stroke="#000" stroke-width="0.80"/>
<path d="M516.0,430.0 L525.0,446.0" fill="none" stroke="#000" stroke-width="0.80"/>
<path d="M534,427 L553,421.5 Q561,420 562,427 L561,436 Q559,440 553,441.5 L534,447 Z" fill="#fff" stroke="#000" stroke-width="1"/>
<path d="M534.0,429.0 L546.0,425.5 L549.0,433.0 L537.0,436.5 Z" fill="none" stroke="#000" stroke-width="0.90"/>
<path d="M546.0,425.5 L552.0,422.0 L560.0,430.0" fill="none" stroke="#000" stroke-width="0.80"/>
<path d="M549.0,433.0 L555.0,431.0 L558.0,435.0" fill="none" stroke="#000" stroke-width="0.80"/>
<circle cx="448.6" cy="468.2" r="11.8" fill="#fff" stroke="#000" stroke-width="1.5"/>
<circle cx="448.4" cy="468.4" r="8.6" fill="none" stroke="#000" stroke-width="1.1" stroke-dasharray="3 1.2"/>
<circle cx="448" cy="469.3" r="1.7" fill="#000"/>
<path d="M459.5,462.0 L462.6,463.0 L462.6,475.0 L459.5,476.0 Z" fill="#000" stroke="#000" stroke-width="0.6"/>
<path d="M449.5,480.5 L457.4,480.5 L457.4,486.7 L449.5,486.7 Z" fill="#fff" stroke="#000" stroke-width="1.30"/>
<path d="M452.0,483.0 L452.0,485.0 L455.0,485.0" fill="none" stroke="#000" stroke-width="0.80"/>
<circle cx="439.5" cy="489" r="3.2" fill="#fff" stroke="#000" stroke-width="1.1"/>
<path d="M440.5,486 L444,485.3 L447.7,486.5 L446.5,489.5 L442,491.5 Z" fill="#000"/>
<path d="M402.2,449.0 L411.6,438.5" fill="none" stroke="#000" stroke-width="0.90"/>
<path d="M403.8,450.5 L413.0,440.0" fill="none" stroke="#000" stroke-width="0.90"/>
<path d="M411.6,437 L416,433 L422,433.5 L423.7,438 L420,442.8 L414,442.5 Z" fill="#fff" stroke="#000" stroke-width="1.2"/>
<path d="M412.8,428.0 L416.0,424.7 L420.0,426.5 L417.0,431.0 Z" fill="#fff" stroke="#000" stroke-width="1.10"/>
<path d="M358.5,470.8 L366.8,465.2 L370.4,470.5 L362.1,476.1 Z" fill="#fff" stroke="#000" stroke-width="1.10"/>
<path d="M375.0,456.0 L394.2,445.1 L395.9,444.0 L400.9,451.5 L399.3,452.6 L382.0,466.3 Z" fill="#fff" stroke="#000" stroke-width="1.10"/>
<path d="M376.9,455.3 L381.7,459.1 L383.4,464.9" fill="none" stroke="#000" stroke-width="0.90"/>
<path d="M380.6,453.2 L385.1,456.7 L386.7,462.3" fill="none" stroke="#000" stroke-width="0.90"/>
<path d="M384.2,451.1 L388.6,454.4 L390.0,459.7" fill="none" stroke="#000" stroke-width="0.90"/>
<path d="M387.9,449.0 L392.1,452.0 L393.4,457.1" fill="none" stroke="#000" stroke-width="0.90"/>
<path d="M391.5,446.9 L395.6,449.7 L396.7,454.5" fill="none" stroke="#000" stroke-width="0.90"/>
<path d="M364.9,464.3 L365.9,460.3 L373.3,455.3 L376.5,456.5 L382.1,464.8 L382.0,468.2 L374.6,473.2 L370.5,472.6 Z" fill="#fff" stroke="#000" stroke-width="1.2"/>
<path d="M369.2,458.1 L374.4,464.0 L377.9,471.0" fill="none" stroke="#000" stroke-width="1.00"/>
<path d="M365.9,460.3 L375.0,473.0" fill="none" stroke="#000" stroke-width="0.80"/>
<path d="M373.3,455.3 L382.5,467.9" fill="none" stroke="#000" stroke-width="0.80"/>
<path d="M304.6,470.6 C298,467 292,467.3 285.6,467.8 C274,469.5 265,476 264.5,487 C264.5,494 266.5,498 270,501.2 C275,506 281,509 287.9,510.2 C295,511 304,510 312.4,509" fill="none" stroke="#000" stroke-width="1.1"/>
<path d="M303.5,472.3 C297,470.5 291,470.6 285.6,471.1 C276,472.5 269,477 268.9,484 C268.5,489 269,492 270,494.6 C273,499 277,502.5 282.3,504.6 C291,507.5 301,507.5 311.3,506.8" fill="none" stroke="#000" stroke-width="1.1"/>
<path d="M266.8,490 C267,496 270,500 274,503 C279,506.5 284,508 290,508.6 C297,509 304,508.5 311.5,508" fill="none" stroke="#000" stroke-width="3.2"/>
<path d="M300,468.5 C296,468 291,468.5 286,469.3 C277,470.8 269,476 267,483" fill="none" stroke="#000" stroke-width="0.7"/>
<path d="M304.6,470.6 L303.5,472.3" fill="none" stroke="#000" stroke-width="1.10"/>
<path d="M312.4,503 L316,500.1 L321,501 L322.4,505.5 L320,510.2 L314,510 Z" fill="#fff" stroke="#000" stroke-width="1.1"/>
<path d="M316.0,500.1 L317.0,505.0 L322.4,505.5" fill="none" stroke="#000" stroke-width="0.90"/>
<path d="M317.0,505.0 L314.0,510.0" fill="none" stroke="#000" stroke-width="0.90"/>
<path d="M634.9,354.4 L635.6,354.6 L636.4,354.8 L637.3,355.0 L638.4,355.2 L639.5,355.5 L640.7,355.8 L642.0,356.1 L643.3,356.4 L644.7,356.8 L646.1,357.2 L647.4,357.6 L648.7,358.0 L650.0,358.5 L651.3,359.0 L652.4,359.6 L653.5,360.2 L654.5,360.9 L655.5,361.6 L656.4,362.4 L657.4,363.2 L658.3,364.0 L659.2,365.0 L660.0,365.9 L660.9,366.8 L661.7,367.8 L662.6,368.8 L663.4,369.7 L664.2,370.7 L665.0,371.6 L665.8,372.5 L666.6,373.4 L667.4,374.2 L668.2,375.0 L669.0,375.8 L669.9,376.7 L670.7,377.5 L671.6,378.4 L672.4,379.2 L673.3,380.1 L674.1,380.9 L674.9,381.7 L675.6,382.4 L676.3,383.1 L677.0,383.8 L677.6,384.4 L678.1,384.9 L678.6,385.4 L679.0,385.8" fill="none" stroke="#000" stroke-width="0.90"/>
<path d="M634.9,352.0 L635.6,352.2 L636.4,352.4 L637.4,352.6 L638.4,352.8 L639.6,353.0 L640.8,353.3 L642.2,353.5 L643.5,353.8 L644.9,354.2 L646.3,354.5 L647.7,354.9 L649.1,355.4 L650.4,355.8 L651.7,356.3 L652.9,356.9 L654.0,357.5 L655.1,358.2 L656.1,358.9 L657.1,359.7 L658.1,360.5 L659.1,361.4 L660.1,362.3 L661.0,363.3 L661.9,364.3 L662.9,365.3 L663.8,366.3 L664.7,367.3 L665.6,368.3 L666.4,369.2 L667.3,370.2 L668.2,371.1 L669.0,372.0 L669.9,372.9 L670.7,373.8 L671.6,374.7 L672.5,375.7 L673.4,376.6 L674.2,377.6 L675.1,378.5 L675.9,379.4 L676.7,380.3 L677.5,381.1 L678.2,381.9 L678.9,382.7 L679.5,383.4 L680.1,384.0 L680.6,384.5 L681.0,385.0" fill="none" stroke="#000" stroke-width="0.90"/>
<path d="M611.7,342.1 L634.9,348.3 L632.3,357.9 L609.1,351.7 Z" fill="#fff" stroke="#000" stroke-width="1.00"/>
<path d="M623.3,345.2 L620.7,354.8" fill="none" stroke="#000" stroke-width="0.90"/>
<path d="M610.4,346.9 L605.6,345.6" fill="none" stroke="#000" stroke-width="1.20"/>
<path d="M668.2,388.0 L668.2,414.0 L686.4,414.0 L686.4,388.0 Z" fill="#fff" stroke="#000" stroke-width="1.20"/>
<ellipse cx="677.3" cy="388" rx="9.1" ry="2.8" fill="#fff" stroke="#000" stroke-width="1.2"/>
<path d="M668.5,389.0 L686.0,389.0 L686.0,391.5 L677.0,392.5 L668.5,391.5 Z" fill="#000" stroke="#000" stroke-width="0.6"/>
<path d="M668.5,392.5 L686.0,392.5" fill="none" stroke="#000" stroke-width="0.90"/>
<path d="M676.0,396.0 L676.0,412.0" fill="none" stroke="#000" stroke-width="0.90"/>
<path d="M678.0,396.0 L678.0,412.0" fill="none" stroke="#000" stroke-width="0.90"/>
<path d="M670.0,398.0 L670.0,412.0" fill="none" stroke="#000" stroke-width="0.70"/>
<path d="M684.5,398.0 L684.5,412.0" fill="none" stroke="#000" stroke-width="0.70"/>
<path d="M669.5,414.0 L684.5,414.0 L684.5,429.6 L669.5,429.6 Z" fill="#fff" stroke="#000" stroke-width="1.20"/>
<path d="M669.5,413.5 L684.5,413.5 L684.5,416.5 L669.5,416.5 Z" fill="#000" stroke="#000" stroke-width="0.6"/>
<path d="M682.5,426.4 L694.0,426.4 L696.2,429.3 L694.0,432.2 L682.5,432.2 Z" fill="#fff" stroke="#000" stroke-width="1.00"/>
<path d="M682.5,426.0 L685.5,426.0 L685.5,432.5 L682.5,432.5 Z" fill="#000" stroke="#000" stroke-width="0.6"/>
<path d="M673.4,429.6 L679.3,429.6 L679.3,442.5 L673.4,443.3 Z" fill="#fff" stroke="#000" stroke-width="1.00"/>
<circle cx="703.3" cy="396.5" r="6.3" fill="#fff" stroke="#000" stroke-width="1.8"/><ellipse cx="703.6" cy="396.8" rx="2" ry="1.6" fill="#000"/>
<path d="M687.7,405.5 L696.2,400.4" fill="none" stroke="#000" stroke-width="0.80"/>
<circle cx="661" cy="420" r="5.6" fill="#fff" stroke="#000" stroke-width="1.7"/><circle cx="661.3" cy="420.3" r="2.6" fill="none" stroke="#000" stroke-width="1"/>
<path d="M627.9,433.5 L646.2,425.5 L647.9,429.1 L630.0,438.0 Z" fill="#fff" stroke="#000" stroke-width="1.00"/>
<path d="M629.7,432.6 L633.6,436.3" fill="none" stroke="#000" stroke-width="0.80"/>
<path d="M632.4,431.3 L636.3,435.0" fill="none" stroke="#000" stroke-width="0.80"/>
<path d="M635.1,430.1 L639.1,433.8" fill="none" stroke="#000" stroke-width="0.80"/>
<path d="M637.8,428.8 L641.8,432.5" fill="none" stroke="#000" stroke-width="0.80"/>
<path d="M640.6,427.5 L644.5,431.2" fill="none" stroke="#000" stroke-width="0.80"/>
<path d="M643.3,426.3 L647.2,430.0" fill="none" stroke="#000" stroke-width="0.80"/>
<path d="M617.4,440 L621,435.8 L627,436.5 L629,441 L626,446.3 L620,446 Z" fill="#fff" stroke="#000" stroke-width="1.2"/>
<path d="M621.0,435.8 L621.1,436.0 L621.1,436.2 L621.2,436.5 L621.3,436.9 L621.3,437.2 L621.4,437.6 L621.5,438.0 L621.6,438.4 L621.7,438.8 L621.9,439.2 L622.0,439.6 L622.2,439.9 L622.3,440.3 L622.5,440.6 L622.8,440.8 L623.0,441.0 L623.3,441.1 L623.6,441.2 L624.0,441.3 L624.4,441.4 L624.8,441.4 L625.2,441.4 L625.7,441.4 L626.1,441.3 L626.6,441.3 L627.0,441.2 L627.4,441.2 L627.8,441.1 L628.2,441.1 L628.5,441.0 L628.8,441.0 L629.0,441.0" fill="none" stroke="#000" stroke-width="0.90"/>
<path d="M623.0,441.0 L620.0,446.0" fill="none" stroke="#000" stroke-width="0.90"/>
<path d="M564.4,473.4 L564.5,473.9 L564.5,474.6 L564.6,475.4 L564.8,476.3 L564.9,477.2 L565.0,478.3 L565.2,479.3 L565.3,480.4 L565.4,481.5 L565.5,482.7 L565.6,483.7 L565.7,484.8 L565.8,485.8 L565.8,486.7 L565.8,487.6 L565.7,488.3 L565.6,488.9 L565.5,489.5 L565.4,490.0 L565.2,490.4 L565.1,490.8 L564.9,491.2 L564.7,491.5 L564.5,491.8 L564.2,492.1 L563.9,492.4 L563.6,492.8 L563.3,493.1 L563.0,493.5 L562.6,494.0 L562.1,494.4 L561.7,495.0 L561.2,495.6 L560.6,496.3 L559.9,497.0 L559.2,497.7 L558.4,498.5 L557.6,499.3 L556.8,500.1 L556.0,500.9 L555.2,501.8 L554.4,502.6 L553.6,503.4 L552.9,504.2 L552.3,505.0 L551.7,505.8 L551.2,506.5 L550.8,507.2 L550.5,507.9 L550.2,508.6 L550.0,509.2 L549.9,509.9 L549.8,510.5 L549.8,511.2 L549.8,511.8 L549.8,512.5 L549.8,513.1 L549.9,513.7 L550.0,514.2 L550.2,514.8 L550.3,515.3 L550.5,515.8 L550.6,516.3 L550.8,516.7 L551.0,517.1 L551.2,517.5 L551.4,517.9 L551.6,518.3 L551.8,518.6 L552.1,518.9 L552.3,519.2 L552.6,519.5 L553.0,519.8 L553.3,520.0 L553.7,520.2 L554.1,520.4 L554.6,520.5 L555.1,520.7 L555.6,520.7 L556.2,520.8 L556.9,520.8 L557.6,520.8 L558.5,520.7 L559.4,520.5 L560.4,520.3 L561.4,520.1 L562.4,519.9 L563.4,519.7 L564.5,519.4 L565.5,519.1 L566.4,518.9 L567.3,518.7 L568.1,518.5 L568.9,518.3 L569.5,518.1 L570.0,518.0" fill="none" stroke="#000" stroke-width="0.90"/>
<path d="M567.0,473.4 L567.1,473.9 L567.1,474.6 L567.2,475.4 L567.4,476.2 L567.5,477.2 L567.6,478.2 L567.8,479.3 L567.9,480.4 L568.0,481.5 L568.2,482.6 L568.3,483.7 L568.3,484.7 L568.4,485.7 L568.4,486.7 L568.4,487.5 L568.3,488.3 L568.2,489.0 L568.1,489.6 L567.9,490.1 L567.8,490.6 L567.6,491.1 L567.4,491.5 L567.1,492.0 L566.9,492.4 L566.6,492.8 L566.3,493.2 L566.0,493.6 L565.6,494.0 L565.3,494.4 L564.9,494.9 L564.4,495.4 L564.0,496.0 L563.5,496.6 L562.9,497.3 L562.3,498.0 L561.6,498.7 L560.8,499.4 L560.1,500.2 L559.3,501.0 L558.5,501.7 L557.7,502.5 L557.0,503.3 L556.2,504.0 L555.5,504.8 L554.9,505.5 L554.4,506.2 L553.9,506.9 L553.5,507.5 L553.2,508.1 L553.0,508.7 L552.8,509.3 L552.6,509.9 L552.5,510.4 L552.5,511.0 L552.5,511.5 L552.5,512.0 L552.5,512.5 L552.6,513.0 L552.7,513.5 L552.8,513.9 L552.9,514.4 L553.0,514.8 L553.2,515.1 L553.3,515.5 L553.4,515.8 L553.6,516.2 L553.7,516.5 L553.8,516.7 L554.0,517.0 L554.2,517.3 L554.4,517.5 L554.6,517.7 L554.9,517.9 L555.1,518.0 L555.4,518.2 L555.8,518.3 L556.1,518.4 L556.5,518.4 L557.0,518.5 L557.5,518.5 L558.1,518.5 L558.8,518.4 L559.5,518.3 L560.3,518.1 L561.2,517.9 L562.1,517.7 L563.1,517.4 L564.0,517.2 L564.9,516.9 L565.9,516.7 L566.7,516.4 L567.6,516.2 L568.3,516.0 L569.0,515.8 L569.5,515.6 L570.0,515.5" fill="none" stroke="#000" stroke-width="0.90"/>
<path d="M559.0,461.0 L571.0,460.0 L572.0,473.0 L560.0,474.0 Z" fill="#fff" stroke="#000" stroke-width="1.10"/>
<path d="M559.5,465.5 L571.5,464.5" fill="none" stroke="#000" stroke-width="1.00"/>
<path d="M560.0,463.0 L571.0,462.0" fill="none" stroke="#000" stroke-width="0.80"/>
<path d="M571.0,464.5 L575.2,465.0 L575.2,472.0 L571.5,472.5 Z" fill="#fff" stroke="#000" stroke-width="1.00"/>
<path d="M567.1,514.5 L590.7,503.5 L594.9,512.5 L571.3,523.5 Z" fill="#fff" stroke="#000" stroke-width="1.10"/>
<path d="M577.1,509.8 L581.3,518.9" fill="none" stroke="#000" stroke-width="0.90"/>
<path d="M567.1,514.5 L571.6,512.3 L575.9,521.4 L571.3,523.5 Z" fill="#000"/>
<circle cx="594" cy="507" r="1.5" fill="none" stroke="#000" stroke-width="0.9"/>
<path d="M694.7,486.2 L709.5,489.4 L711.4,492 L711.4,500.3 L710.3,501.2 L702.8,502.5 L702.8,500.2 L692.4,492.9 L692.4,489.5 Z" fill="#fff" stroke="#000" stroke-width="1.1"/>
<path d="M717,505.5 L721.6,496.4 Q724.5,496.6 723.4,499.5 Q722,502 719.8,501.8 L720.2,506.3" fill="none" stroke="#000" stroke-width="0.9"/>
<path d="M722.9,507.7 L728,499.2 Q729.7,500.3 728.6,503 Q727,505.5 725,505.3 L727.3,510.5" fill="none" stroke="#000" stroke-width="0.9"/>
</g></svg></body></html>
